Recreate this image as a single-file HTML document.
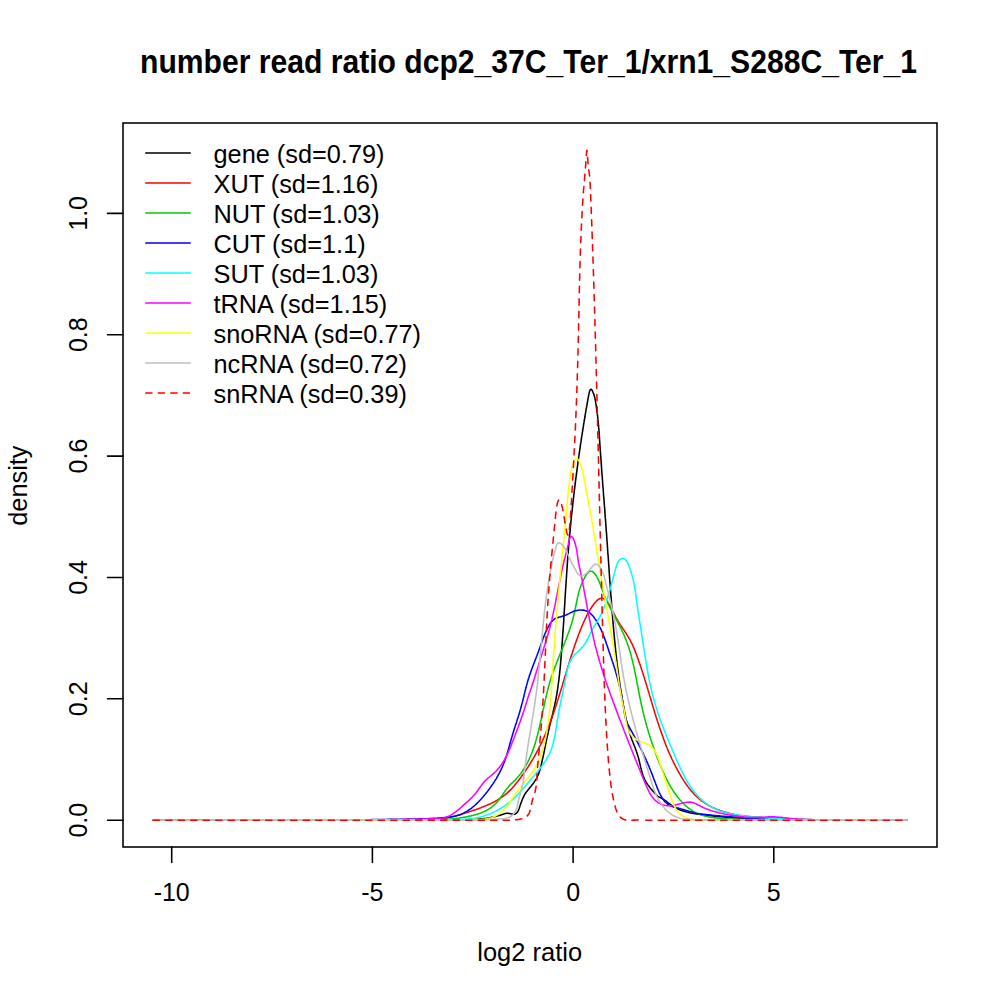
<!DOCTYPE html>
<html><head><meta charset="utf-8"><style>
html,body{margin:0;padding:0;background:#fff;overflow:hidden;}
svg{display:block;}
text{font-family:"Liberation Sans",sans-serif;fill:#000;}
</style></head><body>
<svg width="1000" height="1000" viewBox="0 0 1000 1000">
<rect width="1000" height="1000" fill="#fff"/>
<g fill="none" stroke-width="1.56" stroke-linecap="round" stroke-linejoin="round">
<path stroke="#000000" d="M153.2 820.2 L154.7 820.2 L156.2 820.2 L157.7 820.2 L159.2 820.2 L160.7 820.2 L162.2 820.2 L163.7 820.2 L165.2 820.2 L166.7 820.2 L168.2 820.2 L169.7 820.2 L171.2 820.2 L172.7 820.2 L174.2 820.2 L175.7 820.2 L177.2 820.2 L178.7 820.2 L180.2 820.2 L181.7 820.2 L183.2 820.2 L184.7 820.2 L186.2 820.2 L187.7 820.2 L189.2 820.2 L190.7 820.2 L192.2 820.2 L193.7 820.2 L195.2 820.2 L196.7 820.2 L198.2 820.2 L199.2 820.2 L200.2 820.2 L201.2 820.2 L202.2 820.2 L203.2 820.2 L204.2 820.2 L205.2 820.2 L206.2 820.2 L207.2 820.2 L208.2 820.2 L209.2 820.2 L210.2 820.2 L211.2 820.2 L212.2 820.2 L213.2 820.2 L214.2 820.2 L215.2 820.2 L216.2 820.2 L217.2 820.2 L218.2 820.2 L219.2 820.2 L220.2 820.2 L221.2 820.2 L222.2 820.2 L223.2 820.2 L224.2 820.2 L225.2 820.2 L226.2 820.2 L227.2 820.2 L228.2 820.2 L229.2 820.2 L230.2 820.2 L231.2 820.2 L232.2 820.2 L233.2 820.2 L234.2 820.2 L235.2 820.2 L236.2 820.2 L237.2 820.2 L238.2 820.2 L239.2 820.2 L240.2 820.2 L241.2 820.2 L242.2 820.2 L243.2 820.2 L244.2 820.2 L245.2 820.1 L246.2 820.1 L247.2 820.1 L248.2 820.1 L249.2 820.1 L250.2 820.1 L251.2 820.1 L252.2 820.1 L253.2 820.1 L254.2 820.1 L255.2 820.1 L256.2 820.1 L257.2 820.1 L258.2 820.1 L259.2 820.1 L260.2 820.1 L261.2 820.1 L262.2 820.1 L263.2 820.1 L264.2 820.1 L265.2 820.1 L266.2 820.1 L267.2 820.1 L268.2 820.1 L269.2 820.1 L270.2 820.1 L271.2 820.1 L272.2 820.1 L273.2 820.1 L274.2 820.1 L275.2 820.1 L276.2 820.1 L277.2 820.1 L278.2 820.1 L279.2 820.1 L280.2 820.1 L281.2 820.1 L282.2 820.1 L283.2 820.1 L284.2 820.1 L285.2 820.1 L286.2 820.1 L287.2 820.1 L288.2 820.1 L289.2 820.1 L290.2 820.1 L291.2 820.1 L292.2 820.1 L293.2 820.1 L294.2 820.1 L295.2 820.1 L296.2 820.1 L297.2 820.1 L298.2 820.1 L299.2 820.1 L300.2 820.1 L301.2 820.1 L302.2 820.1 L303.2 820.1 L304.2 820.1 L305.2 820.1 L306.2 820.1 L307.2 820.1 L308.2 820.1 L309.2 820.1 L310.2 820.1 L311.2 820.1 L312.2 820.1 L313.2 820.1 L314.2 820.1 L315.2 820.1 L316.2 820.1 L317.2 820.1 L318.2 820.1 L319.2 820.1 L320.2 820.1 L321.2 820.1 L322.2 820.1 L323.2 820.1 L324.2 820.1 L325.2 820.1 L326.7 820.1 L328.2 820.1 L329.7 820.1 L331.2 820.1 L332.7 820.1 L334.2 820.1 L335.7 820.1 L337.2 820.1 L338.7 820.1 L340.2 820.1 L341.7 820.1 L343.2 820.1 L344.7 820.1 L346.2 820.1 L347.7 820.1 L349.2 820.1 L350.7 820.1 L352.2 820.1 L353.7 820.1 L355.2 820.1 L356.7 820.1 L358.2 820.1 L359.7 820.1 L361.2 820.1 L362.7 820.1 L364.2 820.1 L365.7 820.1 L367.2 820.1 L368.7 820.1 L370.2 820.1 L371.7 820.1 L373.2 820.1 L374.7 820.1 L376.2 820.1 L377.7 820.1 L379.2 820.1 L380.7 820.1 L382.2 820.1 L383.7 820.1 L385.2 820.1 L386.7 820.1 L388.2 820.1 L389.7 820.1 L391.2 820.1 L392.7 820.1 L394.2 820.1 L395.7 820.1 L397.2 820.1 L398.7 820.1 L400.2 820.1 L401.7 820.1 L403.2 820.1 L404.7 820.1 L406.2 820.1 L407.7 820.1 L409.2 820.1 L410.7 820.1 L412.2 820.1 L413.7 820.1 L415.2 820.1 L416.7 820.1 L418.2 820.1 L419.7 820.1 L421.2 820.1 L422.7 820.1 L424.2 820.1 L425.2 820.1 L426.2 820.1 L427.2 820.1 L428.2 820.1 L429.2 820.1 L430.2 820.1 L431.2 820.1 L432.2 820.1 L433.2 820.1 L434.2 820.1 L435.2 820.1 L436.2 820.1 L437.2 820.1 L438.2 820.1 L439.2 820.1 L440.2 820.1 L441.2 820.1 L442.2 820.1 L443.2 820.1 L444.2 820.1 L445.2 820.1 L446.2 820.0 L447.2 820.0 L448.2 820.0 L449.2 820.0 L450.2 820.0 L451.2 820.0 L452.2 820.0 L453.2 820.0 L454.2 820.0 L455.2 820.0 L456.2 820.0 L457.2 820.0 L458.2 819.9 L459.2 819.9 L460.2 819.9 L461.2 819.9 L462.3 819.9 L463.3 819.9 L464.3 819.8 L465.3 819.8 L466.3 819.8 L467.3 819.7 L468.3 819.7 L469.3 819.7 L470.3 819.6 L471.8 819.6 L473.3 819.5 L474.8 819.4 L476.2 819.3 L477.7 819.2 L479.2 819.0 L480.7 818.9 L482.2 818.7 L483.6 818.6 L485.1 818.4 L486.6 818.2 L488.0 817.9 L489.5 817.7 L490.9 817.4 L492.4 817.1 L493.8 816.8 L495.3 816.5 L496.7 816.1 L498.1 815.8 L499.5 815.4 L500.9 814.9 L502.3 814.5 L503.8 814.0 L505.2 813.6 L506.6 813.3 L507.6 813.3 L508.7 813.4 L509.7 813.5 L510.8 813.8 L511.8 814.0 L512.9 814.1 L514.3 814.2 L515.5 813.9 L516.6 813.1 L517.5 812.0 L518.0 811.1 L518.5 810.1 L518.9 809.1 L519.3 808.0 L519.7 806.9 L520.0 805.8 L520.4 804.7 L520.8 803.6 L521.1 802.6 L521.5 801.7 L521.8 800.7 L522.2 799.8 L522.8 798.4 L523.4 797.1 L524.0 795.8 L524.7 794.5 L525.5 793.3 L526.3 792.1 L527.2 791.0 L528.1 789.8 L529.0 788.7 L529.9 787.5 L530.9 786.4 L531.8 785.2 L532.8 784.0 L533.7 782.9 L534.5 781.6 L535.3 780.4 L536.1 779.1 L536.8 777.8 L537.4 776.5 L538.0 775.2 L538.6 773.8 L539.1 772.4 L539.6 771.0 L539.9 770.0 L540.2 769.0 L540.4 768.1 L540.7 767.1 L540.9 766.1 L541.2 765.1 L541.4 764.2 L541.7 763.2 L541.9 762.2 L542.1 761.2 L542.3 760.2 L542.5 759.2 L542.7 758.2 L543.0 757.2 L543.2 756.3 L543.4 755.3 L543.6 754.3 L543.8 753.3 L544.0 752.3 L544.2 751.3 L544.4 750.4 L544.7 748.9 L545.0 747.4 L545.3 746.0 L545.6 744.5 L545.9 743.0 L546.2 741.6 L546.5 740.1 L546.8 738.7 L547.1 737.2 L547.4 735.8 L547.8 734.3 L548.1 732.8 L548.4 731.4 L548.7 729.9 L549.1 728.5 L549.4 727.0 L549.8 725.6 L550.1 724.1 L550.5 722.7 L550.8 721.2 L551.2 719.8 L551.6 718.3 L551.9 716.8 L552.3 715.4 L552.5 714.4 L552.7 713.4 L553.0 712.5 L553.2 711.5 L553.4 710.5 L553.7 709.6 L553.9 708.6 L554.1 707.6 L554.5 706.1 L554.8 704.7 L555.1 703.2 L555.4 701.7 L555.7 700.3 L556.0 698.8 L556.2 697.3 L556.5 695.9 L556.8 694.4 L557.0 692.9 L557.2 691.4 L557.5 689.9 L557.7 688.5 L557.9 687.0 L558.1 685.5 L558.3 684.0 L558.5 682.5 L558.7 681.0 L558.9 679.5 L559.1 678.1 L559.2 676.6 L559.4 675.6 L559.5 674.6 L559.6 673.6 L559.7 672.6 L559.8 671.6 L559.9 670.6 L560.0 669.6 L560.1 668.6 L560.2 667.6 L560.3 666.6 L560.4 665.6 L560.5 664.6 L560.6 663.6 L560.6 662.6 L560.7 661.6 L560.8 660.6 L560.9 659.6 L561.0 658.6 L561.1 657.6 L561.1 656.6 L561.2 655.6 L561.3 654.6 L561.4 653.7 L561.5 652.7 L561.5 651.7 L561.6 650.7 L561.7 649.7 L561.8 648.7 L561.9 647.7 L561.9 646.7 L562.0 645.7 L562.1 644.7 L562.1 643.7 L562.2 642.7 L562.3 641.7 L562.4 640.7 L562.4 639.7 L562.5 638.7 L562.6 637.7 L562.6 636.7 L562.7 635.7 L562.8 634.7 L562.8 633.7 L562.9 632.7 L563.0 631.7 L563.1 630.2 L563.2 628.7 L563.3 627.2 L563.4 625.7 L563.5 624.2 L563.6 622.7 L563.7 621.2 L563.8 619.7 L563.8 618.2 L563.9 616.7 L564.0 615.2 L564.1 613.7 L564.2 612.2 L564.3 610.7 L564.4 609.3 L564.5 607.8 L564.6 606.3 L564.7 604.8 L564.8 603.3 L564.9 601.8 L564.9 600.3 L565.0 598.8 L565.1 597.3 L565.2 595.8 L565.3 594.3 L565.4 592.8 L565.5 591.3 L565.6 589.8 L565.7 588.3 L565.8 586.8 L565.9 585.3 L566.0 583.8 L566.1 582.3 L566.2 580.8 L566.3 579.3 L566.4 577.8 L566.5 576.3 L566.6 574.8 L566.7 573.3 L566.8 571.8 L566.9 570.3 L567.0 568.8 L567.1 567.4 L567.2 565.9 L567.3 564.4 L567.4 562.9 L567.5 561.4 L567.6 559.9 L567.7 558.4 L567.8 556.9 L567.9 555.9 L568.0 554.9 L568.1 553.9 L568.2 552.9 L568.2 551.9 L568.3 550.9 L568.4 549.9 L568.5 548.9 L568.6 547.9 L568.6 546.9 L568.7 545.9 L568.8 544.9 L568.9 543.9 L569.0 542.9 L569.1 541.9 L569.2 540.9 L569.2 539.9 L569.3 538.9 L569.4 537.9 L569.5 536.9 L569.6 535.9 L569.7 535.0 L569.8 534.0 L569.9 533.0 L570.0 532.0 L570.1 531.0 L570.2 530.0 L570.2 529.0 L570.3 528.0 L570.4 527.0 L570.5 526.0 L570.6 525.0 L570.7 524.0 L570.8 523.0 L570.9 522.0 L571.0 521.0 L571.1 520.0 L571.2 519.0 L571.3 518.0 L571.4 517.0 L571.5 516.0 L571.6 515.0 L571.7 514.0 L571.8 513.1 L571.9 512.1 L572.1 511.1 L572.2 510.1 L572.3 509.1 L572.4 508.1 L572.5 507.1 L572.6 506.1 L572.7 505.1 L572.8 504.1 L572.9 503.1 L573.0 502.1 L573.1 501.1 L573.3 500.1 L573.4 499.1 L573.5 498.1 L573.6 497.1 L573.7 496.1 L573.8 495.2 L573.9 494.2 L574.1 493.2 L574.2 492.2 L574.3 491.2 L574.4 490.2 L574.5 489.2 L574.7 488.2 L574.8 487.2 L574.9 486.2 L575.1 484.7 L575.3 483.2 L575.4 481.8 L575.6 480.3 L575.8 478.8 L576.0 477.3 L576.2 475.8 L576.4 474.3 L576.6 472.8 L576.8 471.3 L577.0 469.9 L577.2 468.4 L577.4 466.9 L577.6 465.4 L577.8 463.9 L578.0 462.4 L578.2 460.9 L578.4 459.5 L578.6 458.0 L578.8 456.5 L579.0 455.0 L579.2 453.5 L579.4 452.0 L579.7 450.6 L579.9 449.1 L580.1 447.6 L580.3 446.1 L580.5 444.6 L580.7 443.1 L581.0 441.7 L581.2 440.2 L581.4 438.7 L581.6 437.2 L581.9 435.7 L582.1 434.3 L582.3 432.8 L582.6 431.3 L582.8 429.8 L583.0 428.3 L583.3 426.9 L583.5 425.4 L583.7 423.9 L584.0 422.4 L584.2 421.0 L584.5 419.5 L584.7 418.0 L585.0 416.5 L585.2 415.1 L585.4 413.6 L585.7 412.1 L585.9 410.6 L586.2 409.2 L586.5 407.7 L586.7 406.2 L587.0 404.7 L587.2 403.3 L587.5 401.8 L587.7 400.8 L587.8 399.8 L588.0 398.8 L588.2 397.8 L588.4 396.7 L588.6 395.6 L588.9 394.4 L589.1 393.2 L589.4 392.1 L589.7 391.0 L590.2 389.8 L591.3 389.3 L592.0 390.1 L592.7 391.5 L593.1 392.6 L593.6 393.7 L594.0 394.9 L594.3 396.0 L594.6 397.1 L594.9 398.1 L595.1 399.1 L595.4 400.5 L595.6 402.0 L595.8 403.4 L596.1 404.8 L596.3 406.3 L596.5 407.8 L596.7 409.3 L596.8 410.2 L597.0 411.2 L597.1 412.2 L597.2 413.2 L597.3 414.2 L597.5 415.2 L597.6 416.2 L597.7 417.2 L597.8 418.2 L597.9 419.2 L598.1 420.7 L598.2 422.2 L598.3 423.7 L598.5 425.2 L598.6 426.7 L598.7 428.1 L598.9 429.6 L599.0 431.1 L599.1 432.6 L599.2 434.1 L599.3 435.6 L599.4 437.1 L599.5 438.6 L599.6 440.1 L599.7 441.6 L599.8 443.1 L599.9 444.6 L600.0 446.1 L600.1 447.6 L600.2 449.1 L600.3 450.6 L600.4 452.1 L600.5 453.6 L600.6 455.1 L600.8 456.6 L600.9 458.1 L601.0 459.6 L601.1 461.1 L601.2 462.6 L601.3 464.1 L601.4 465.5 L601.5 467.0 L601.6 468.5 L601.7 470.0 L601.8 471.5 L601.9 473.0 L602.0 474.5 L602.2 476.0 L602.3 477.5 L602.4 479.0 L602.5 480.5 L602.6 482.0 L602.7 483.5 L602.8 485.0 L602.9 486.5 L603.1 488.0 L603.2 489.5 L603.3 491.0 L603.4 492.5 L603.5 494.0 L603.6 495.5 L603.7 496.9 L603.9 498.4 L604.0 499.9 L604.1 501.4 L604.2 502.9 L604.3 504.4 L604.4 505.9 L604.6 507.4 L604.7 508.9 L604.8 510.4 L604.9 511.9 L605.0 513.4 L605.1 514.9 L605.2 516.4 L605.3 517.9 L605.5 519.4 L605.6 520.9 L605.7 522.4 L605.8 523.9 L605.9 525.4 L606.0 526.9 L606.1 528.3 L606.2 529.8 L606.3 531.3 L606.5 532.8 L606.6 534.3 L606.7 535.8 L606.8 537.3 L606.9 538.8 L607.0 540.3 L607.1 541.8 L607.2 543.3 L607.3 544.8 L607.4 546.3 L607.5 547.8 L607.6 549.3 L607.7 550.8 L607.8 552.3 L607.9 553.8 L608.1 555.3 L608.2 556.8 L608.3 558.3 L608.4 559.8 L608.5 561.3 L608.6 562.8 L608.7 564.2 L608.8 565.7 L608.9 567.2 L609.0 568.7 L609.1 570.2 L609.2 571.7 L609.3 573.2 L609.4 574.7 L609.5 576.2 L609.6 577.7 L609.7 579.2 L609.8 580.7 L609.9 582.2 L610.1 583.7 L610.2 585.2 L610.3 586.7 L610.4 588.2 L610.5 589.7 L610.6 591.2 L610.7 592.7 L610.8 594.2 L610.9 595.7 L611.0 597.2 L611.2 598.7 L611.3 600.1 L611.4 601.6 L611.5 603.1 L611.6 604.6 L611.7 606.1 L611.8 607.6 L612.0 609.1 L612.1 610.6 L612.2 612.1 L612.3 613.6 L612.4 614.6 L612.5 615.6 L612.6 616.6 L612.6 617.6 L612.7 618.6 L612.8 619.6 L612.9 620.6 L613.0 621.6 L613.1 622.6 L613.1 623.6 L613.2 624.6 L613.3 625.6 L613.4 626.6 L613.5 627.6 L613.6 628.6 L613.7 630.0 L613.8 631.5 L614.0 633.0 L614.1 634.5 L614.2 636.0 L614.4 637.5 L614.5 639.0 L614.7 640.5 L614.8 642.0 L615.0 643.5 L615.1 645.0 L615.3 646.5 L615.4 648.0 L615.6 649.5 L615.7 650.9 L615.9 652.4 L616.0 653.9 L616.2 655.4 L616.4 656.9 L616.5 658.4 L616.7 659.9 L616.9 661.4 L617.0 662.9 L617.2 664.4 L617.4 665.8 L617.6 667.3 L617.8 668.8 L618.0 670.3 L618.2 671.8 L618.4 673.3 L618.5 674.8 L618.7 676.3 L619.0 677.7 L619.2 679.2 L619.4 680.7 L619.6 682.2 L619.8 683.7 L620.0 685.2 L620.2 686.6 L620.5 688.1 L620.7 689.6 L620.9 691.1 L621.2 692.6 L621.4 694.0 L621.7 695.5 L621.9 697.0 L622.2 698.5 L622.4 700.0 L622.7 701.4 L622.9 702.9 L623.2 704.4 L623.5 705.9 L623.7 706.8 L623.8 707.8 L624.0 708.8 L624.2 709.8 L624.4 710.8 L624.6 711.8 L624.8 712.7 L625.0 713.7 L625.2 714.7 L625.4 715.7 L625.6 716.7 L625.8 717.6 L626.0 718.6 L626.2 719.6 L626.4 720.6 L626.7 721.5 L626.9 722.5 L627.1 723.5 L627.3 724.5 L627.6 725.4 L627.9 726.9 L628.3 728.4 L628.7 729.8 L629.1 731.2 L629.5 732.7 L630.0 734.1 L630.4 735.5 L630.9 736.9 L631.4 738.3 L631.9 739.7 L632.5 741.1 L633.0 742.5 L633.6 743.9 L634.1 745.3 L634.7 746.7 L635.2 748.1 L635.7 749.5 L636.3 750.9 L636.6 751.9 L636.9 752.8 L637.2 753.8 L637.5 754.7 L637.8 755.7 L638.1 756.6 L638.4 757.6 L638.7 758.6 L638.9 759.6 L639.1 760.5 L639.4 761.5 L639.6 762.5 L639.8 763.5 L640.1 764.5 L640.3 765.5 L640.5 766.4 L640.7 767.4 L641.0 768.4 L641.2 769.4 L641.5 770.3 L641.9 771.8 L642.3 773.2 L642.7 774.6 L643.2 776.0 L643.8 777.4 L644.4 778.7 L645.0 780.1 L645.7 781.4 L646.4 782.6 L647.3 783.9 L648.1 785.1 L649.0 786.3 L649.6 787.1 L650.2 787.9 L650.9 788.7 L651.5 789.4 L652.2 790.2 L652.8 791.0 L653.5 791.8 L654.2 792.5 L654.8 793.3 L655.5 794.0 L656.5 795.1 L657.6 796.1 L658.8 796.9 L660.0 797.5 L661.3 798.1 L662.5 798.8 L663.8 799.5 L665.0 800.4 L666.2 801.2 L667.0 801.8 L667.8 802.5 L668.6 803.1 L669.4 803.7 L670.2 804.3 L671.0 804.9 L671.8 805.5 L673.0 806.4 L674.3 807.1 L675.6 807.8 L676.9 808.5 L678.2 809.1 L679.6 809.7 L681.0 810.2 L682.4 810.7 L683.8 811.2 L685.2 811.6 L686.6 812.0 L688.1 812.3 L689.5 812.7 L691.0 813.0 L692.4 813.2 L693.4 813.4 L694.4 813.6 L695.4 813.7 L696.4 813.9 L697.4 814.0 L698.4 814.2 L699.4 814.3 L700.4 814.5 L701.4 814.6 L702.4 814.7 L703.4 814.9 L704.4 815.0 L705.3 815.1 L706.3 815.2 L707.3 815.3 L708.3 815.5 L709.3 815.6 L710.3 815.7 L711.3 815.8 L712.3 815.9 L713.3 816.0 L714.3 816.1 L715.3 816.2 L716.3 816.3 L717.3 816.4 L718.3 816.5 L719.3 816.6 L720.3 816.7 L721.3 816.8 L722.3 816.9 L723.3 817.0 L724.3 817.0 L725.3 817.1 L726.3 817.2 L727.3 817.3 L728.8 817.4 L730.3 817.5 L731.8 817.6 L733.2 817.7 L734.7 817.8 L736.2 817.9 L737.7 818.0 L739.2 818.1 L740.7 818.2 L742.2 818.2 L743.7 818.3 L745.2 818.4 L746.7 818.5 L748.2 818.5 L749.7 818.6 L751.2 818.7 L752.7 818.7 L754.2 818.8 L755.7 818.8 L757.2 818.9 L758.7 818.9 L760.2 819.0 L761.7 819.0 L763.2 819.1 L764.7 819.1 L766.2 819.1 L767.7 819.2 L769.2 819.2 L770.7 819.2 L772.2 819.3 L773.7 819.3 L775.2 819.3 L776.7 819.4 L778.2 819.4 L779.7 819.4 L781.2 819.4 L782.7 819.5 L784.2 819.5 L785.7 819.5 L787.2 819.5 L788.7 819.5 L790.2 819.6 L791.7 819.6 L793.2 819.6 L794.7 819.6 L796.2 819.6 L797.7 819.7 L799.2 819.7 L800.7 819.7 L801.7 819.7 L802.7 819.7 L803.7 819.7 L804.7 819.7 L805.7 819.7 L806.7 819.8 L807.7 819.8 L808.7 819.8 L809.7 819.8 L810.7 819.8 L811.7 819.8 L812.7 819.8 L813.7 819.8 L814.7 819.8 L815.7 819.8 L816.7 819.9 L817.7 819.9 L818.7 819.9 L819.7 819.9 L820.7 819.9 L821.7 819.9 L822.7 819.9 L823.7 819.9 L824.7 819.9 L825.7 819.9 L826.7 819.9 L827.7 819.9 L828.7 820.0 L829.7 820.0 L830.7 820.0 L831.7 820.0 L832.7 820.0 L833.7 820.0 L834.7 820.0 L835.7 820.0 L836.7 820.0 L837.7 820.0 L838.7 820.0 L839.7 820.0 L840.7 820.0 L841.7 820.0 L842.7 820.1 L843.7 820.1 L844.7 820.1 L845.7 820.1 L846.7 820.1 L847.7 820.1 L848.7 820.1 L849.7 820.1 L850.7 820.1 L851.7 820.1 L852.7 820.1 L853.7 820.1 L854.7 820.1 L855.7 820.1 L856.7 820.1 L857.7 820.1 L858.7 820.1 L859.7 820.1 L860.7 820.1 L861.7 820.1 L862.7 820.2 L863.7 820.2 L864.7 820.2 L865.7 820.2 L866.7 820.2 L867.7 820.2 L868.7 820.2 L869.7 820.2 L870.7 820.2 L871.7 820.2 L872.7 820.2 L873.7 820.2 L874.7 820.2 L875.7 820.2 L876.7 820.2 L877.7 820.2 L878.7 820.2 L879.7 820.2 L881.2 820.2 L882.7 820.2 L884.2 820.2 L885.7 820.2 L887.2 820.2 L888.7 820.2 L890.2 820.2 L891.7 820.2 L893.2 820.2 L894.7 820.2 L896.2 820.2 L897.7 820.2 L899.2 820.2 L900.7 820.2 L902.2 820.2 L903.7 820.2 L905.2 820.2 L906.7 820.2 L906.8 820.2"/>
<path stroke="#ff0000" d="M153.2 820.2 L154.7 820.2 L156.2 820.2 L157.7 820.2 L159.2 820.2 L160.7 820.2 L162.2 820.2 L163.7 820.2 L165.2 820.2 L166.7 820.2 L168.2 820.2 L169.7 820.2 L171.2 820.2 L172.7 820.2 L174.2 820.2 L175.7 820.2 L177.2 820.2 L178.7 820.2 L180.2 820.2 L181.7 820.2 L183.2 820.2 L184.7 820.2 L186.2 820.2 L187.7 820.2 L189.2 820.2 L190.2 820.2 L191.2 820.2 L192.2 820.2 L193.2 820.2 L194.2 820.2 L195.2 820.2 L196.2 820.2 L197.2 820.2 L198.2 820.2 L199.2 820.2 L200.2 820.2 L201.2 820.2 L202.2 820.2 L203.2 820.2 L204.2 820.2 L205.2 820.2 L206.2 820.2 L207.2 820.2 L208.2 820.2 L209.2 820.2 L210.2 820.2 L211.2 820.2 L212.2 820.2 L213.2 820.2 L214.2 820.2 L215.2 820.2 L216.2 820.2 L217.2 820.2 L218.2 820.2 L219.2 820.2 L220.2 820.2 L221.2 820.2 L222.2 820.1 L223.2 820.1 L224.2 820.1 L225.2 820.1 L226.2 820.1 L227.2 820.1 L228.2 820.1 L229.2 820.1 L230.2 820.1 L231.2 820.1 L232.2 820.1 L233.2 820.1 L234.2 820.1 L235.2 820.1 L236.2 820.1 L237.2 820.1 L238.2 820.1 L239.2 820.1 L240.2 820.1 L241.2 820.1 L242.2 820.1 L243.2 820.1 L244.2 820.1 L245.2 820.1 L246.2 820.1 L247.2 820.1 L248.2 820.1 L249.2 820.1 L250.2 820.1 L251.2 820.1 L252.2 820.1 L253.2 820.1 L254.2 820.1 L255.2 820.1 L256.2 820.1 L257.2 820.1 L258.2 820.1 L259.2 820.1 L260.2 820.1 L261.2 820.1 L262.2 820.1 L263.2 820.1 L264.2 820.1 L265.2 820.1 L266.2 820.1 L267.2 820.1 L268.2 820.1 L269.2 820.1 L270.2 820.1 L271.2 820.1 L272.2 820.1 L273.2 820.1 L274.2 820.1 L275.2 820.1 L276.2 820.1 L277.2 820.1 L278.2 820.1 L279.2 820.1 L280.2 820.1 L281.2 820.1 L282.2 820.1 L283.2 820.1 L284.2 820.1 L285.2 820.1 L286.2 820.1 L287.2 820.1 L288.2 820.1 L289.2 820.1 L290.2 820.1 L291.2 820.1 L292.2 820.1 L293.2 820.1 L294.7 820.1 L296.2 820.1 L297.7 820.1 L299.2 820.1 L300.7 820.1 L302.2 820.1 L303.7 820.1 L305.2 820.1 L306.7 820.1 L308.2 820.1 L309.7 820.1 L311.2 820.1 L312.7 820.1 L314.2 820.1 L315.7 820.1 L317.2 820.1 L318.7 820.1 L320.2 820.1 L321.7 820.1 L323.2 820.1 L324.7 820.1 L326.2 820.1 L327.7 820.1 L329.2 820.1 L330.7 820.1 L332.2 820.1 L333.7 820.1 L335.2 820.1 L336.7 820.1 L338.2 820.1 L339.7 820.1 L341.2 820.1 L342.7 820.1 L344.2 820.1 L345.7 820.1 L347.2 820.1 L348.7 820.1 L350.2 820.1 L351.7 820.1 L353.2 820.1 L354.7 820.1 L356.2 820.1 L357.7 820.1 L359.2 820.1 L360.7 820.1 L362.2 820.1 L363.7 820.1 L365.2 820.1 L366.7 820.1 L368.2 820.1 L369.7 820.1 L371.2 820.1 L372.7 820.1 L374.2 820.0 L375.7 820.0 L377.2 820.0 L378.7 820.0 L379.7 820.0 L380.7 820.0 L381.7 820.0 L382.7 820.0 L383.7 820.0 L384.7 820.0 L385.7 820.0 L386.7 820.0 L387.7 820.0 L388.7 820.0 L389.7 820.0 L390.7 820.0 L391.7 820.0 L392.7 820.0 L393.7 820.0 L394.7 820.0 L395.7 820.0 L396.7 820.0 L397.7 820.0 L398.7 820.0 L399.7 820.0 L400.7 820.0 L401.7 819.9 L402.7 819.9 L403.7 819.9 L404.7 819.9 L405.7 819.9 L406.7 819.9 L407.7 819.9 L408.7 819.9 L409.7 819.9 L410.7 819.9 L411.7 819.9 L412.7 819.9 L413.7 819.9 L414.7 819.9 L415.7 819.9 L416.7 819.8 L417.7 819.8 L418.7 819.8 L419.7 819.8 L420.7 819.8 L421.7 819.8 L422.7 819.8 L423.7 819.8 L424.7 819.8 L425.8 819.7 L426.8 819.7 L427.8 819.7 L428.8 819.7 L429.8 819.6 L430.8 819.6 L432.3 819.6 L433.8 819.5 L435.2 819.4 L436.7 819.3 L438.2 819.2 L439.7 819.0 L441.2 818.9 L442.7 818.7 L444.1 818.5 L445.6 818.3 L447.1 818.0 L448.5 817.8 L450.0 817.5 L451.4 817.1 L452.9 816.8 L454.3 816.4 L455.8 816.0 L457.2 815.6 L458.6 815.1 L460.1 814.7 L461.0 814.4 L462.0 814.1 L462.9 813.8 L463.9 813.4 L464.8 813.1 L465.8 812.8 L466.7 812.5 L467.7 812.2 L468.7 811.9 L469.6 811.6 L470.6 811.3 L471.5 811.0 L472.5 810.6 L473.4 810.3 L474.4 810.0 L475.3 809.7 L476.3 809.4 L477.2 809.0 L478.2 808.7 L479.1 808.4 L480.0 808.0 L481.0 807.7 L481.9 807.3 L482.9 806.9 L483.8 806.6 L485.2 806.0 L486.6 805.4 L487.9 804.8 L489.3 804.2 L490.7 803.6 L492.0 802.9 L493.3 802.3 L494.7 801.6 L496.0 800.8 L497.3 800.1 L498.6 799.3 L499.8 798.5 L501.1 797.7 L502.3 796.8 L503.5 796.0 L504.7 795.1 L505.9 794.1 L507.0 793.2 L508.1 792.2 L509.2 791.2 L510.3 790.1 L511.3 789.1 L512.3 788.0 L513.3 786.8 L514.3 785.7 L515.3 784.5 L515.9 783.8 L516.5 783.0 L517.1 782.2 L517.8 781.4 L518.4 780.6 L519.0 779.8 L519.6 779.0 L520.2 778.2 L520.8 777.4 L521.4 776.6 L522.0 775.8 L522.5 775.0 L523.1 774.2 L523.7 773.4 L524.3 772.6 L524.8 771.7 L525.4 770.9 L526.0 770.1 L526.5 769.2 L527.1 768.4 L527.6 767.6 L528.2 766.7 L528.7 765.9 L529.2 765.0 L529.8 764.2 L530.3 763.3 L530.8 762.5 L531.3 761.6 L531.9 760.8 L532.4 759.9 L532.9 759.1 L533.4 758.2 L533.9 757.3 L534.4 756.5 L534.9 755.6 L535.4 754.7 L535.8 753.8 L536.3 753.0 L536.8 752.1 L537.3 751.2 L538.0 749.9 L538.6 748.5 L539.3 747.2 L540.0 745.9 L540.7 744.5 L541.3 743.2 L542.0 741.8 L542.6 740.5 L543.2 739.1 L543.8 737.7 L544.4 736.4 L545.0 735.0 L545.6 733.6 L546.2 732.2 L546.8 730.9 L547.4 729.5 L547.9 728.1 L548.5 726.7 L549.0 725.3 L549.6 723.9 L550.1 722.5 L550.6 721.1 L551.1 719.7 L551.7 718.3 L552.2 716.9 L552.7 715.5 L553.2 714.1 L553.7 712.7 L554.1 711.2 L554.6 709.8 L555.1 708.4 L555.6 707.0 L556.0 705.5 L556.5 704.1 L556.8 703.2 L557.1 702.2 L557.4 701.3 L557.7 700.3 L558.0 699.4 L558.3 698.4 L558.6 697.5 L558.9 696.5 L559.2 695.5 L559.5 694.6 L559.8 693.6 L560.1 692.7 L560.4 691.7 L560.7 690.8 L561.0 689.8 L561.3 688.8 L561.6 687.9 L561.9 686.9 L562.2 686.0 L562.5 685.0 L562.7 684.0 L563.0 683.1 L563.3 682.1 L563.6 681.2 L563.9 680.2 L564.2 679.2 L564.5 678.3 L564.7 677.3 L565.0 676.4 L565.3 675.4 L565.6 674.4 L565.9 673.5 L566.2 672.5 L566.5 671.6 L566.8 670.6 L567.1 669.6 L567.3 668.7 L567.6 667.7 L567.9 666.8 L568.2 665.8 L568.5 664.9 L568.8 663.9 L569.1 662.9 L569.4 662.0 L569.7 661.0 L570.0 660.1 L570.3 659.1 L570.6 658.2 L570.9 657.2 L571.3 655.8 L571.8 654.4 L572.3 652.9 L572.7 651.5 L573.2 650.1 L573.7 648.7 L574.1 647.2 L574.6 645.8 L575.1 644.4 L575.6 643.0 L576.1 641.6 L576.6 640.2 L577.1 638.8 L577.6 637.4 L578.1 636.0 L578.6 634.6 L579.2 633.2 L579.7 631.8 L580.3 630.4 L580.8 629.0 L581.4 627.6 L581.9 626.2 L582.5 624.8 L583.1 623.5 L583.7 622.1 L584.1 621.2 L584.5 620.3 L584.9 619.3 L585.4 618.4 L585.8 617.5 L586.3 616.6 L586.7 615.7 L587.2 614.8 L587.7 613.9 L588.2 613.0 L588.7 612.1 L589.2 611.2 L589.7 610.3 L590.3 609.4 L590.8 608.5 L591.4 607.6 L592.0 606.7 L592.6 605.8 L593.2 604.9 L593.9 604.1 L594.5 603.2 L595.2 602.4 L595.9 601.7 L596.9 600.6 L597.9 599.7 L599.0 599.0 L600.1 598.6 L601.2 598.3 L602.2 598.3 L603.3 598.6 L604.4 599.1 L605.4 599.9 L606.4 600.8 L607.4 601.9 L608.0 602.7 L608.6 603.6 L609.2 604.5 L609.7 605.4 L610.3 606.4 L610.8 607.3 L611.4 608.3 L611.9 609.3 L612.3 610.3 L612.8 611.3 L613.3 612.2 L613.8 613.2 L614.2 614.1 L614.7 615.0 L615.1 616.0 L615.6 616.9 L616.1 617.8 L616.6 618.6 L617.1 619.5 L617.6 620.4 L618.1 621.3 L618.6 622.1 L619.2 623.0 L619.7 623.8 L620.2 624.6 L621.1 625.9 L621.9 627.1 L622.7 628.4 L623.6 629.6 L624.4 630.9 L625.2 632.1 L626.0 633.3 L626.8 634.6 L627.6 635.8 L628.4 637.1 L629.1 638.4 L629.9 639.7 L630.6 641.0 L631.2 642.3 L631.9 643.6 L632.5 645.0 L633.1 646.4 L633.7 647.7 L634.3 649.1 L634.9 650.5 L635.4 651.9 L635.8 652.8 L636.1 653.8 L636.5 654.7 L636.8 655.6 L637.2 656.6 L637.5 657.5 L637.9 658.5 L638.2 659.4 L638.5 660.3 L638.9 661.3 L639.2 662.2 L639.5 663.2 L639.9 664.1 L640.2 665.1 L640.5 666.0 L640.8 667.0 L641.1 667.9 L641.4 668.9 L641.8 669.8 L642.1 670.8 L642.4 671.7 L642.7 672.7 L643.0 673.6 L643.3 674.6 L643.6 675.5 L643.9 676.5 L644.2 677.4 L644.5 678.4 L644.8 679.4 L645.1 680.3 L645.4 681.3 L645.7 682.2 L646.0 683.2 L646.3 684.1 L646.6 685.1 L646.9 686.1 L647.1 687.0 L647.4 688.0 L647.7 688.9 L648.0 689.9 L648.3 690.9 L648.6 691.8 L648.9 692.8 L649.2 693.7 L649.4 694.7 L649.7 695.7 L650.0 696.6 L650.3 697.6 L650.6 698.5 L650.9 699.5 L651.2 700.5 L651.4 701.4 L651.7 702.4 L652.0 703.3 L652.3 704.3 L652.6 705.3 L652.9 706.2 L653.2 707.2 L653.4 708.1 L653.7 709.1 L654.0 710.1 L654.3 711.0 L654.6 712.0 L655.0 713.4 L655.5 714.8 L655.9 716.3 L656.4 717.7 L656.8 719.1 L657.3 720.6 L657.7 722.0 L658.2 723.4 L658.7 724.8 L659.1 726.2 L659.6 727.7 L660.1 729.1 L660.6 730.5 L661.1 731.9 L661.6 733.3 L662.1 734.7 L662.6 736.1 L663.1 737.5 L663.6 738.9 L664.1 740.3 L664.6 741.7 L665.2 743.1 L665.7 744.5 L666.3 745.9 L666.8 747.3 L667.4 748.7 L668.0 750.1 L668.5 751.4 L669.1 752.8 L669.7 754.2 L670.3 755.5 L671.0 756.9 L671.6 758.3 L672.2 759.6 L672.9 761.0 L673.5 762.3 L674.2 763.6 L674.9 765.0 L675.5 766.3 L676.0 767.2 L676.5 768.1 L676.9 769.0 L677.4 769.9 L677.9 770.7 L678.4 771.6 L678.9 772.5 L679.4 773.4 L679.9 774.2 L680.4 775.1 L680.9 776.0 L681.4 776.8 L681.9 777.7 L682.5 778.5 L683.0 779.4 L683.6 780.3 L684.1 781.1 L684.7 782.0 L685.2 782.8 L685.8 783.6 L686.4 784.5 L686.9 785.3 L687.5 786.1 L688.1 786.9 L688.7 787.7 L689.4 788.5 L690.0 789.3 L690.6 790.1 L691.3 790.9 L691.9 791.6 L692.6 792.4 L693.2 793.1 L693.9 793.9 L694.9 795.0 L696.0 796.0 L697.1 797.0 L698.2 798.0 L699.3 799.0 L700.5 800.0 L701.7 800.9 L702.9 801.7 L704.1 802.6 L705.3 803.4 L706.6 804.2 L707.9 805.0 L709.2 805.7 L710.5 806.4 L711.8 807.1 L713.2 807.7 L714.5 808.3 L715.9 808.9 L717.3 809.5 L718.7 810.0 L720.0 810.5 L721.4 811.0 L722.9 811.5 L724.3 811.9 L725.7 812.3 L727.1 812.7 L728.6 813.1 L730.0 813.5 L731.5 813.8 L732.9 814.1 L734.4 814.4 L735.9 814.7 L737.3 814.9 L738.8 815.2 L740.3 815.4 L741.8 815.6 L742.8 815.8 L743.7 815.9 L744.7 816.0 L745.7 816.1 L746.7 816.2 L747.7 816.4 L748.7 816.5 L749.7 816.6 L750.7 816.7 L751.7 816.8 L752.7 816.8 L753.7 816.9 L754.7 817.0 L755.7 817.1 L756.7 817.2 L757.8 817.3 L758.8 817.3 L759.8 817.4 L760.8 817.5 L761.8 817.5 L762.8 817.6 L763.8 817.7 L764.8 817.7 L765.8 817.8 L766.8 817.9 L767.8 817.9 L768.8 818.0 L769.8 818.1 L770.8 818.1 L771.8 818.2 L772.8 818.2 L773.8 818.3 L774.8 818.3 L775.8 818.4 L776.8 818.5 L777.8 818.5 L778.8 818.6 L779.8 818.6 L780.8 818.7 L781.8 818.7 L782.8 818.7 L783.8 818.8 L784.8 818.8 L785.8 818.9 L786.8 818.9 L787.8 819.0 L788.8 819.0 L789.8 819.0 L790.8 819.1 L791.8 819.1 L792.8 819.1 L793.8 819.2 L794.8 819.2 L796.3 819.3 L797.8 819.3 L799.3 819.3 L800.8 819.4 L802.3 819.4 L803.8 819.5 L805.3 819.5 L806.8 819.5 L808.3 819.6 L809.8 819.6 L811.3 819.6 L812.8 819.7 L814.3 819.7 L815.8 819.7 L817.3 819.7 L818.8 819.8 L820.3 819.8 L821.8 819.8 L823.3 819.8 L824.8 819.8 L826.3 819.9 L827.8 819.9 L829.3 819.9 L830.7 819.9 L832.2 819.9 L833.7 819.9 L835.2 819.9 L836.7 819.9 L838.2 819.9 L839.7 820.0 L841.2 820.0 L842.7 820.0 L844.2 820.0 L845.7 820.0 L847.2 820.0 L848.7 820.0 L850.2 820.0 L851.7 820.0 L853.2 820.0 L854.7 820.0 L856.2 820.0 L857.7 820.0 L859.2 820.0 L860.7 820.0 L862.2 820.0 L863.7 820.0 L865.2 820.0 L866.7 820.0 L868.2 820.0 L869.7 820.0 L871.2 820.0 L872.7 820.0 L874.2 820.0 L875.7 820.0 L877.2 820.0 L878.2 820.0 L879.2 820.0 L880.2 820.0 L881.2 820.0 L882.2 820.0 L883.2 820.0 L884.2 820.0 L885.2 820.0 L886.2 820.0 L887.2 820.0 L888.2 820.0 L889.2 820.1 L890.2 820.1 L891.2 820.1 L892.2 820.1 L893.2 820.1 L894.2 820.1 L895.2 820.1 L896.2 820.1 L897.2 820.1 L898.2 820.1 L899.2 820.1 L900.2 820.1 L901.2 820.1 L902.2 820.1 L903.2 820.2 L904.2 820.2 L905.2 820.2 L906.2 820.2 L906.8 820.2"/>
<path stroke="#00cd00" d="M153.2 820.2 L154.7 820.2 L156.2 820.2 L157.7 820.2 L159.2 820.2 L160.7 820.2 L162.2 820.2 L163.7 820.2 L165.2 820.2 L166.7 820.2 L168.2 820.2 L169.7 820.2 L171.2 820.2 L172.7 820.2 L174.2 820.2 L175.7 820.2 L176.7 820.2 L177.7 820.2 L178.7 820.2 L179.7 820.2 L180.7 820.2 L181.7 820.2 L182.7 820.2 L183.7 820.2 L184.7 820.2 L185.7 820.2 L186.7 820.2 L187.7 820.2 L188.7 820.2 L189.7 820.2 L190.7 820.2 L191.7 820.2 L192.7 820.2 L193.7 820.2 L194.7 820.2 L195.7 820.1 L196.7 820.1 L197.7 820.1 L198.7 820.1 L199.7 820.1 L200.7 820.1 L201.7 820.1 L202.7 820.1 L203.7 820.1 L204.7 820.1 L205.7 820.1 L206.7 820.1 L207.7 820.1 L208.7 820.1 L209.7 820.1 L210.7 820.1 L211.7 820.1 L212.7 820.1 L213.7 820.1 L214.7 820.1 L215.7 820.1 L216.7 820.1 L217.7 820.1 L218.7 820.1 L219.7 820.1 L220.7 820.1 L221.7 820.1 L222.7 820.1 L223.7 820.1 L224.7 820.1 L225.7 820.1 L226.7 820.1 L227.7 820.1 L228.7 820.1 L229.7 820.1 L230.7 820.1 L231.7 820.1 L232.7 820.1 L233.7 820.1 L234.7 820.1 L235.7 820.1 L236.7 820.1 L237.7 820.1 L239.2 820.1 L240.7 820.1 L242.2 820.1 L243.7 820.0 L245.2 820.0 L246.7 820.0 L248.2 820.0 L249.7 820.0 L251.2 820.0 L252.7 820.0 L254.2 820.0 L255.7 820.0 L257.2 820.0 L258.7 820.0 L260.2 820.0 L261.7 820.0 L263.2 820.0 L264.7 820.0 L266.2 820.0 L267.7 820.0 L269.2 820.0 L270.7 820.0 L272.2 820.0 L273.7 820.0 L275.2 820.0 L276.7 820.0 L278.2 820.0 L279.7 820.0 L281.2 820.0 L282.7 820.0 L284.2 820.0 L285.7 820.0 L287.2 820.0 L288.7 820.0 L290.2 820.0 L291.7 820.0 L293.2 820.0 L294.7 820.0 L296.2 820.0 L297.7 820.0 L299.2 820.0 L300.7 820.0 L302.2 820.0 L303.7 820.0 L305.2 820.0 L306.7 820.0 L308.2 820.0 L309.7 820.0 L311.2 820.0 L312.7 820.0 L314.2 820.0 L315.2 820.0 L316.2 820.0 L317.2 820.0 L318.2 820.0 L319.2 820.0 L320.2 820.0 L321.2 820.0 L322.2 820.0 L323.2 820.0 L324.2 820.0 L325.2 820.0 L326.2 820.0 L327.2 820.0 L328.2 820.0 L329.2 820.0 L330.2 820.0 L331.2 820.0 L332.2 820.0 L333.2 820.0 L334.2 820.0 L335.2 820.0 L336.2 820.0 L337.2 819.9 L338.2 819.9 L339.2 819.9 L340.2 819.9 L341.2 819.9 L342.2 819.9 L343.2 819.9 L344.2 819.9 L345.2 819.9 L346.2 819.9 L347.2 819.9 L348.2 819.9 L349.2 819.9 L350.2 819.9 L351.2 819.9 L352.2 819.9 L353.2 819.9 L354.2 819.9 L355.2 819.9 L356.2 819.9 L357.2 819.9 L358.2 819.9 L359.2 819.9 L360.2 819.9 L361.2 819.9 L362.2 819.9 L363.2 819.8 L364.2 819.8 L365.2 819.8 L366.2 819.8 L367.2 819.8 L368.2 819.8 L369.2 819.8 L370.2 819.8 L371.2 819.8 L372.2 819.8 L373.2 819.8 L374.2 819.8 L375.2 819.8 L376.2 819.8 L377.2 819.8 L378.2 819.8 L379.2 819.8 L380.2 819.8 L381.2 819.8 L382.2 819.8 L383.2 819.8 L384.2 819.8 L385.2 819.8 L386.2 819.8 L387.2 819.8 L388.2 819.8 L389.2 819.8 L390.2 819.8 L391.2 819.8 L392.2 819.8 L393.2 819.8 L394.2 819.8 L395.2 819.8 L396.2 819.8 L397.2 819.8 L398.2 819.8 L399.2 819.8 L400.2 819.8 L401.2 819.8 L402.2 819.8 L403.7 819.9 L405.2 819.9 L406.7 819.9 L408.2 819.9 L409.7 819.9 L411.2 819.9 L412.7 819.9 L414.2 819.9 L415.7 819.9 L417.2 819.9 L418.7 820.0 L420.2 820.0 L421.7 820.0 L423.2 820.0 L424.7 820.0 L426.2 820.0 L427.7 820.0 L429.2 820.0 L430.7 819.9 L432.2 819.9 L433.7 819.9 L435.2 819.9 L436.7 819.8 L438.2 819.8 L439.7 819.7 L441.2 819.6 L442.7 819.6 L444.2 819.5 L445.7 819.4 L447.2 819.3 L448.6 819.2 L450.1 819.1 L451.6 818.9 L453.1 818.8 L454.1 818.7 L455.1 818.6 L456.1 818.4 L457.1 818.3 L458.1 818.2 L459.1 818.1 L460.1 817.9 L461.1 817.8 L462.1 817.6 L463.1 817.4 L464.1 817.3 L465.0 817.1 L466.0 816.9 L467.0 816.7 L468.0 816.5 L469.0 816.3 L470.0 816.1 L471.0 815.9 L472.0 815.6 L473.0 815.4 L473.9 815.1 L474.9 814.9 L475.9 814.6 L476.8 814.3 L477.8 814.0 L478.8 813.7 L480.2 813.2 L481.6 812.7 L482.9 812.1 L484.3 811.5 L485.6 810.8 L486.9 810.2 L488.2 809.4 L489.4 808.7 L490.6 807.9 L491.8 807.0 L493.0 806.1 L494.1 805.2 L495.1 804.2 L496.2 803.1 L497.1 802.0 L498.1 800.8 L498.7 800.1 L499.3 799.3 L499.9 798.5 L500.5 797.6 L501.1 796.8 L501.7 796.0 L502.3 795.1 L502.9 794.3 L503.5 793.5 L504.0 792.6 L504.6 791.8 L505.2 790.9 L505.8 790.1 L506.5 789.3 L507.1 788.5 L507.7 787.7 L508.4 786.9 L509.0 786.1 L509.7 785.4 L510.4 784.6 L511.1 783.9 L511.9 783.2 L512.6 782.5 L513.3 781.8 L514.0 781.1 L514.8 780.4 L515.5 779.7 L516.2 778.9 L516.8 778.2 L517.8 777.1 L518.8 776.0 L519.8 774.8 L520.7 773.6 L521.5 772.4 L522.4 771.2 L523.2 770.0 L524.0 768.7 L524.8 767.5 L525.6 766.2 L526.3 764.9 L527.0 763.6 L527.7 762.3 L528.3 760.9 L529.0 759.6 L529.6 758.2 L530.2 756.9 L530.8 755.5 L531.4 754.1 L531.9 752.7 L532.3 751.8 L532.6 750.8 L533.0 749.9 L533.3 749.0 L533.6 748.0 L533.9 747.1 L534.3 746.1 L534.6 745.2 L534.9 744.2 L535.2 743.2 L535.5 742.3 L535.7 741.3 L536.0 740.4 L536.3 739.4 L536.6 738.4 L536.8 737.5 L537.1 736.5 L537.4 735.5 L537.6 734.6 L537.9 733.6 L538.1 732.6 L538.4 731.7 L538.6 730.7 L538.8 729.7 L539.2 728.3 L539.5 726.8 L539.9 725.3 L540.2 723.9 L540.5 722.4 L540.8 720.9 L541.2 719.5 L541.5 718.0 L541.8 716.5 L542.1 715.1 L542.4 713.6 L542.7 712.2 L543.0 710.7 L543.3 709.2 L543.7 707.8 L544.0 706.3 L544.3 704.8 L544.6 703.4 L544.9 701.9 L545.2 700.4 L545.6 699.0 L545.9 697.5 L546.2 696.1 L546.6 694.6 L546.9 693.2 L547.3 691.7 L547.6 690.3 L548.0 688.8 L548.4 687.4 L548.8 685.9 L549.2 684.5 L549.6 683.0 L550.0 681.6 L550.4 680.2 L550.9 678.7 L551.3 677.3 L551.8 675.9 L552.3 674.5 L552.7 673.1 L553.2 671.7 L553.8 670.2 L554.1 669.3 L554.4 668.4 L554.8 667.4 L555.1 666.5 L555.5 665.6 L555.9 664.6 L556.2 663.7 L556.6 662.7 L557.0 661.8 L557.3 660.9 L557.7 659.9 L558.1 659.0 L558.4 658.1 L558.8 657.2 L559.2 656.2 L559.6 655.3 L560.0 654.4 L560.3 653.4 L560.7 652.5 L561.1 651.6 L561.5 650.6 L561.9 649.7 L562.2 648.8 L562.6 647.9 L563.0 646.9 L563.4 646.0 L563.7 645.1 L564.1 644.1 L564.5 643.2 L564.9 642.3 L565.2 641.3 L565.6 640.4 L566.0 639.5 L566.3 638.5 L566.7 637.6 L567.0 636.7 L567.4 635.7 L567.7 634.8 L568.1 633.8 L568.6 632.4 L569.1 631.0 L569.6 629.6 L570.1 628.2 L570.5 626.8 L571.0 625.4 L571.4 623.9 L571.9 622.5 L572.3 621.1 L572.7 619.6 L573.1 618.2 L573.5 616.7 L573.8 615.3 L574.1 613.8 L574.5 612.4 L574.8 610.9 L575.1 609.4 L575.4 608.0 L575.7 606.5 L576.0 605.0 L576.2 604.1 L576.4 603.1 L576.6 602.1 L576.8 601.1 L577.0 600.1 L577.2 599.1 L577.4 598.2 L577.6 597.2 L577.9 596.2 L578.1 595.2 L578.3 594.2 L578.6 593.3 L578.8 592.3 L579.1 591.3 L579.4 590.3 L579.7 589.4 L580.0 588.4 L580.3 587.4 L580.7 586.4 L581.0 585.5 L581.4 584.5 L581.8 583.5 L582.2 582.6 L582.6 581.6 L583.1 580.7 L583.5 579.7 L584.0 578.8 L584.5 577.8 L585.0 576.9 L585.6 575.9 L586.1 575.0 L586.7 574.2 L587.6 573.1 L588.5 572.2 L589.5 571.5 L590.5 571.2 L591.8 571.3 L592.8 571.8 L593.8 572.7 L594.7 573.7 L595.3 574.5 L596.0 575.4 L596.5 576.4 L597.1 577.4 L597.7 578.4 L598.2 579.4 L598.7 580.5 L599.1 581.5 L599.5 582.5 L599.9 583.5 L600.3 584.5 L600.7 585.4 L601.0 586.4 L601.4 587.4 L601.7 588.3 L602.0 589.3 L602.4 590.2 L602.9 591.6 L603.4 593.0 L604.0 594.4 L604.5 595.8 L605.1 597.2 L605.7 598.6 L606.3 599.9 L607.0 601.3 L607.6 602.6 L608.2 604.0 L608.7 604.9 L609.1 605.8 L609.6 606.7 L610.0 607.6 L610.5 608.5 L610.9 609.4 L611.4 610.2 L611.9 611.1 L612.3 612.0 L612.8 612.9 L613.3 613.8 L613.7 614.7 L614.2 615.6 L614.7 616.5 L615.1 617.3 L615.6 618.2 L616.1 619.1 L616.5 620.0 L617.0 620.9 L617.5 621.8 L617.9 622.6 L618.4 623.5 L619.1 624.9 L619.8 626.2 L620.4 627.5 L621.1 628.9 L621.8 630.2 L622.4 631.6 L623.0 632.9 L623.7 634.3 L624.3 635.6 L624.8 637.0 L625.4 638.4 L626.0 639.8 L626.5 641.2 L627.0 642.5 L627.5 643.9 L628.0 645.3 L628.5 646.8 L629.0 648.2 L629.4 649.6 L629.8 651.0 L630.3 652.4 L630.7 653.9 L631.1 655.3 L631.4 656.7 L631.8 658.2 L632.2 659.6 L632.5 661.1 L632.9 662.5 L633.2 664.0 L633.6 665.5 L633.9 666.9 L634.1 667.9 L634.3 668.9 L634.5 669.9 L634.7 670.8 L634.9 671.8 L635.1 672.8 L635.3 673.8 L635.5 674.8 L635.7 675.8 L635.9 676.7 L636.1 677.7 L636.3 678.7 L636.5 679.7 L636.7 680.7 L636.8 681.7 L637.0 682.7 L637.2 683.7 L637.4 684.6 L637.6 685.6 L637.8 686.6 L638.0 687.6 L638.2 688.6 L638.3 689.6 L638.5 690.6 L638.7 691.6 L638.9 692.5 L639.1 693.5 L639.3 694.5 L639.5 695.5 L639.7 696.5 L639.9 697.5 L640.1 698.5 L640.3 699.4 L640.5 700.4 L640.7 701.4 L640.9 702.4 L641.1 703.4 L641.3 704.4 L641.5 705.3 L641.8 706.3 L642.0 707.3 L642.2 708.3 L642.4 709.2 L642.7 710.2 L642.9 711.2 L643.1 712.2 L643.4 713.1 L643.6 714.1 L643.9 715.1 L644.1 716.1 L644.3 717.0 L644.6 718.0 L644.8 719.0 L645.1 719.9 L645.4 720.9 L645.6 721.9 L645.9 722.8 L646.1 723.8 L646.5 725.2 L647.0 726.7 L647.4 728.1 L647.8 729.6 L648.2 731.0 L648.6 732.4 L649.1 733.9 L649.5 735.3 L650.0 736.7 L650.4 738.2 L650.9 739.6 L651.3 741.0 L651.8 742.4 L652.3 743.8 L652.8 745.3 L653.3 746.7 L653.8 748.1 L654.2 749.5 L654.8 750.9 L655.3 752.3 L655.8 753.7 L656.3 755.1 L656.8 756.5 L657.4 757.9 L657.9 759.3 L658.5 760.7 L659.0 762.1 L659.6 763.5 L660.1 764.8 L660.7 766.2 L661.3 767.6 L661.9 769.0 L662.5 770.4 L663.1 771.7 L663.7 773.1 L664.3 774.4 L664.9 775.8 L665.6 777.1 L666.2 778.5 L666.9 779.8 L667.6 781.1 L668.3 782.5 L669.0 783.8 L669.7 785.1 L670.4 786.4 L671.2 787.7 L672.0 788.9 L672.8 790.2 L673.4 791.0 L673.9 791.9 L674.5 792.7 L675.1 793.5 L675.6 794.3 L676.2 795.2 L676.8 796.0 L677.5 796.8 L678.1 797.6 L678.7 798.3 L679.4 799.1 L680.0 799.9 L680.7 800.7 L681.4 801.4 L682.1 802.2 L682.8 802.9 L683.5 803.6 L684.2 804.3 L685.0 805.0 L685.7 805.7 L686.5 806.4 L687.2 807.0 L688.0 807.7 L688.8 808.3 L690.0 809.2 L691.2 810.0 L692.5 810.8 L693.8 811.6 L695.1 812.3 L696.4 813.0 L697.7 813.6 L699.1 814.1 L700.5 814.6 L701.8 815.1 L703.3 815.6 L704.7 815.9 L706.1 816.3 L707.6 816.6 L709.0 816.9 L710.5 817.2 L712.0 817.4 L713.5 817.6 L714.5 817.8 L715.5 817.9 L716.5 818.0 L717.5 818.1 L718.4 818.2 L719.4 818.3 L720.4 818.4 L721.4 818.5 L722.4 818.6 L723.4 818.6 L724.4 818.7 L725.4 818.8 L726.4 818.8 L727.4 818.9 L728.4 818.9 L729.4 819.0 L730.4 819.0 L731.4 819.1 L732.4 819.1 L733.4 819.1 L734.4 819.2 L735.4 819.2 L736.4 819.2 L737.4 819.3 L738.4 819.3 L739.4 819.3 L740.4 819.3 L741.4 819.3 L742.4 819.4 L743.4 819.4 L744.4 819.4 L745.4 819.4 L746.4 819.4 L747.4 819.4 L748.4 819.5 L749.4 819.5 L750.4 819.5 L751.4 819.5 L752.4 819.5 L753.4 819.5 L754.4 819.5 L755.4 819.5 L756.4 819.6 L757.4 819.6 L758.4 819.6 L759.4 819.6 L760.4 819.6 L761.4 819.6 L762.4 819.6 L763.4 819.6 L764.4 819.7 L765.4 819.7 L766.4 819.7 L767.4 819.7 L768.4 819.7 L769.4 819.7 L770.4 819.7 L771.4 819.7 L772.4 819.7 L773.9 819.7 L775.4 819.8 L776.9 819.8 L778.4 819.8 L779.9 819.8 L781.4 819.8 L782.9 819.8 L784.4 819.8 L785.9 819.8 L787.4 819.9 L788.9 819.9 L790.4 819.9 L791.9 819.9 L793.4 819.9 L794.9 819.9 L796.4 819.9 L797.9 819.9 L799.4 819.9 L800.9 819.9 L802.4 819.9 L803.9 819.9 L805.4 819.9 L806.9 820.0 L808.4 820.0 L809.9 820.0 L811.4 820.0 L812.9 820.0 L814.4 820.0 L815.9 820.0 L817.4 820.0 L818.9 820.0 L820.4 820.0 L821.9 820.0 L823.4 820.0 L824.9 820.0 L826.4 820.0 L827.9 820.0 L829.4 820.0 L830.9 820.0 L832.4 820.0 L833.9 820.0 L835.4 820.0 L836.4 820.0 L837.4 820.0 L838.4 820.0 L839.4 820.0 L840.4 820.0 L841.4 820.0 L842.4 820.0 L843.4 820.0 L844.4 820.0 L845.4 820.0 L846.4 820.1 L847.4 820.1 L848.4 820.1 L849.4 820.1 L850.4 820.1 L851.4 820.1 L852.4 820.1 L853.4 820.1 L854.4 820.1 L855.4 820.1 L856.4 820.1 L857.4 820.1 L858.4 820.1 L859.4 820.1 L860.4 820.1 L861.4 820.1 L862.4 820.1 L863.4 820.1 L864.4 820.1 L865.4 820.1 L866.4 820.1 L867.4 820.1 L868.4 820.1 L869.4 820.1 L870.4 820.1 L871.4 820.1 L872.4 820.1 L873.4 820.1 L874.4 820.1 L875.4 820.1 L876.4 820.1 L877.4 820.1 L878.4 820.1 L879.4 820.1 L880.4 820.1 L881.4 820.1 L882.4 820.1 L883.4 820.1 L884.4 820.1 L885.4 820.1 L886.4 820.1 L887.4 820.1 L888.4 820.1 L889.9 820.1 L891.4 820.1 L892.9 820.1 L894.4 820.2 L895.9 820.2 L897.4 820.2 L898.9 820.2 L900.4 820.2 L901.9 820.2 L903.4 820.2 L904.9 820.2 L906.4 820.2 L906.8 820.2"/>
<path stroke="#0000ff" d="M153.2 820.2 L154.2 820.2 L155.2 820.2 L156.2 820.2 L157.2 820.2 L158.2 820.2 L159.2 820.2 L160.2 820.2 L161.2 820.2 L162.2 820.2 L163.2 820.2 L164.2 820.2 L165.2 820.1 L166.2 820.1 L167.2 820.1 L168.2 820.1 L169.2 820.1 L170.2 820.1 L171.2 820.1 L172.2 820.1 L173.2 820.1 L174.2 820.1 L175.2 820.1 L176.2 820.1 L177.2 820.1 L178.2 820.1 L179.2 820.1 L180.2 820.1 L181.2 820.1 L182.2 820.1 L183.2 820.1 L184.2 820.1 L185.2 820.1 L186.2 820.1 L187.2 820.1 L188.2 820.1 L189.2 820.1 L190.7 820.1 L192.2 820.1 L193.7 820.1 L195.2 820.1 L196.7 820.1 L198.2 820.1 L199.7 820.1 L201.2 820.1 L202.7 820.1 L204.2 820.1 L205.7 820.1 L207.2 820.1 L208.7 820.1 L210.2 820.1 L211.7 820.1 L213.2 820.1 L214.7 820.1 L216.2 820.1 L217.7 820.1 L219.2 820.1 L220.7 820.1 L222.2 820.1 L223.7 820.1 L225.2 820.1 L226.7 820.1 L228.2 820.1 L229.7 820.1 L231.2 820.1 L232.7 820.1 L234.2 820.1 L235.7 820.1 L237.2 820.1 L238.7 820.1 L240.2 820.1 L241.7 820.1 L243.2 820.1 L244.7 820.1 L246.2 820.1 L247.7 820.1 L249.2 820.1 L250.7 820.1 L252.2 820.1 L253.7 820.1 L255.2 820.1 L256.7 820.1 L258.2 820.1 L259.7 820.1 L261.2 820.2 L262.7 820.2 L264.2 820.2 L265.7 820.2 L267.2 820.2 L268.7 820.2 L270.2 820.2 L271.7 820.2 L273.2 820.2 L274.7 820.2 L276.2 820.2 L277.7 820.2 L279.2 820.2 L280.7 820.2 L282.2 820.2 L283.7 820.2 L285.2 820.2 L286.7 820.2 L288.2 820.2 L289.7 820.2 L291.2 820.1 L292.7 820.1 L293.7 820.1 L294.7 820.1 L295.7 820.1 L296.7 820.1 L297.7 820.1 L298.7 820.1 L299.7 820.1 L300.7 820.1 L301.7 820.1 L302.7 820.1 L303.7 820.1 L304.7 820.1 L305.7 820.1 L306.7 820.1 L307.7 820.1 L308.7 820.1 L309.7 820.1 L310.7 820.1 L311.7 820.1 L312.7 820.1 L313.7 820.1 L314.7 820.1 L315.7 820.1 L316.7 820.1 L317.7 820.1 L318.7 820.1 L319.7 820.1 L320.7 820.1 L321.7 820.1 L322.7 820.1 L323.7 820.1 L324.7 820.0 L325.7 820.0 L326.7 820.0 L327.7 820.0 L328.7 820.0 L329.7 820.0 L330.7 820.0 L331.7 820.0 L332.7 820.0 L333.7 820.0 L334.7 820.0 L335.7 820.0 L336.7 820.0 L337.7 820.0 L338.7 820.0 L339.7 820.0 L340.7 819.9 L341.7 819.9 L342.7 819.9 L343.7 819.9 L344.7 819.9 L345.7 819.9 L346.7 819.9 L347.7 819.9 L348.7 819.9 L349.7 819.9 L350.7 819.9 L351.7 819.9 L352.7 819.8 L353.7 819.8 L354.7 819.8 L355.7 819.8 L356.7 819.8 L357.7 819.8 L358.7 819.8 L359.7 819.8 L360.7 819.8 L361.7 819.8 L362.7 819.7 L363.7 819.7 L364.7 819.7 L365.7 819.7 L367.2 819.7 L368.7 819.7 L370.2 819.7 L371.7 819.6 L373.2 819.6 L374.7 819.6 L376.2 819.6 L377.7 819.6 L379.2 819.6 L380.7 819.5 L382.2 819.5 L383.7 819.5 L385.2 819.5 L386.7 819.5 L388.2 819.4 L389.7 819.4 L391.2 819.4 L392.7 819.4 L394.2 819.3 L395.7 819.3 L397.2 819.3 L398.7 819.3 L400.2 819.3 L401.7 819.2 L403.2 819.2 L404.7 819.2 L406.2 819.2 L407.7 819.1 L409.2 819.1 L410.7 819.1 L412.2 819.1 L413.7 819.0 L415.2 819.0 L416.7 819.0 L418.2 819.0 L419.7 818.9 L421.2 818.9 L422.7 818.9 L424.2 818.8 L425.7 818.8 L427.2 818.7 L428.2 818.7 L429.2 818.6 L430.2 818.6 L431.2 818.5 L432.2 818.5 L433.2 818.4 L434.2 818.4 L435.2 818.3 L436.2 818.3 L437.2 818.2 L438.2 818.1 L439.2 818.1 L440.2 818.0 L441.2 817.9 L442.2 817.8 L443.2 817.7 L444.2 817.6 L445.2 817.6 L446.2 817.4 L447.2 817.3 L448.2 817.2 L449.2 817.1 L450.2 817.0 L451.1 816.8 L452.6 816.6 L454.1 816.3 L455.5 816.0 L457.0 815.6 L458.4 815.2 L459.8 814.7 L461.2 814.2 L462.5 813.6 L463.8 813.0 L465.1 812.3 L466.4 811.6 L467.7 810.8 L468.9 810.0 L470.1 809.2 L471.3 808.3 L472.1 807.6 L472.9 807.0 L473.7 806.4 L474.4 805.7 L475.2 805.0 L475.9 804.3 L476.7 803.6 L477.4 802.9 L478.1 802.2 L478.8 801.5 L479.5 800.7 L480.2 800.0 L480.9 799.2 L481.6 798.5 L482.3 797.7 L483.0 796.9 L483.6 796.1 L484.3 795.4 L484.9 794.6 L485.6 793.8 L486.2 793.0 L486.8 792.2 L487.5 791.4 L488.1 790.6 L488.7 789.8 L489.3 789.0 L489.9 788.1 L490.5 787.3 L491.1 786.5 L491.9 785.3 L492.8 784.1 L493.6 782.8 L494.4 781.6 L495.2 780.3 L496.0 779.1 L496.7 777.8 L497.5 776.5 L498.2 775.2 L498.9 773.9 L499.6 772.6 L500.2 771.3 L500.9 770.0 L501.5 768.6 L502.1 767.3 L502.7 765.9 L503.3 764.6 L503.8 763.2 L504.4 761.8 L504.9 760.4 L505.4 759.0 L505.9 757.6 L506.2 756.6 L506.5 755.7 L506.8 754.7 L507.1 753.7 L507.4 752.8 L507.7 751.8 L507.9 750.8 L508.2 749.9 L508.5 748.9 L508.8 747.9 L509.1 747.0 L509.3 746.0 L509.6 745.0 L509.9 744.0 L510.2 743.1 L510.4 742.1 L510.7 741.1 L511.0 740.1 L511.2 739.2 L511.5 738.2 L511.8 737.2 L512.1 736.3 L512.4 735.3 L512.7 734.3 L512.9 733.4 L513.2 732.4 L513.5 731.5 L513.8 730.5 L514.3 729.1 L514.7 727.7 L515.2 726.2 L515.6 724.8 L516.1 723.4 L516.6 722.0 L517.0 720.5 L517.5 719.1 L517.9 717.7 L518.4 716.3 L518.8 714.9 L519.3 713.4 L519.7 712.0 L520.1 710.6 L520.5 709.1 L520.9 707.7 L521.3 706.3 L521.7 704.8 L522.1 703.4 L522.5 701.9 L522.7 701.0 L522.9 700.0 L523.2 699.0 L523.4 698.0 L523.7 697.1 L523.9 696.1 L524.1 695.1 L524.4 694.1 L524.6 693.2 L524.8 692.2 L525.1 691.2 L525.3 690.2 L525.6 689.3 L525.8 688.3 L526.1 687.3 L526.3 686.4 L526.6 685.4 L526.8 684.4 L527.1 683.5 L527.4 682.5 L527.6 681.5 L528.1 680.1 L528.5 678.7 L529.0 677.2 L529.4 675.8 L529.9 674.4 L530.4 673.0 L530.9 671.6 L531.4 670.2 L531.9 668.8 L532.4 667.4 L533.0 665.9 L533.5 664.5 L534.0 663.1 L534.6 661.7 L535.1 660.3 L535.6 658.9 L536.2 657.5 L536.7 656.1 L537.1 655.2 L537.4 654.3 L537.8 653.3 L538.1 652.4 L538.5 651.5 L538.8 650.5 L539.1 649.6 L539.5 648.6 L539.8 647.7 L540.1 646.7 L540.5 645.8 L540.8 644.8 L541.1 643.9 L541.5 643.0 L541.8 642.0 L542.1 641.1 L542.5 640.1 L542.8 639.2 L543.2 638.3 L543.5 637.3 L543.9 636.4 L544.3 635.5 L544.6 634.5 L545.0 633.6 L545.4 632.7 L545.8 631.8 L546.2 630.8 L546.7 629.9 L547.1 629.0 L547.5 628.1 L548.0 627.2 L548.5 626.3 L549.0 625.5 L549.5 624.6 L550.3 623.3 L551.2 622.2 L552.1 621.1 L553.2 620.1 L554.3 619.2 L555.6 618.5 L556.9 617.9 L557.9 617.6 L558.8 617.3 L559.8 617.0 L560.8 616.7 L561.8 616.4 L562.8 616.1 L563.8 615.8 L564.8 615.5 L565.8 615.1 L566.7 614.7 L567.6 614.3 L568.5 613.9 L569.4 613.4 L570.3 612.9 L571.7 612.3 L573.0 611.6 L574.4 611.1 L575.8 610.7 L576.8 610.4 L578.3 610.2 L579.8 610.0 L581.3 610.0 L582.7 610.1 L584.2 610.3 L585.6 610.7 L586.9 611.2 L588.2 611.8 L589.4 612.6 L590.6 613.6 L591.3 614.3 L592.0 615.0 L592.7 615.7 L593.4 616.5 L594.0 617.4 L594.6 618.2 L595.2 619.1 L595.8 619.9 L596.3 620.8 L596.9 621.7 L597.4 622.6 L597.9 623.5 L598.4 624.4 L598.9 625.3 L599.4 626.2 L599.8 627.1 L600.3 628.0 L600.7 628.9 L601.1 629.8 L601.7 631.1 L602.3 632.5 L602.9 633.9 L603.4 635.3 L604.0 636.7 L604.5 638.1 L605.0 639.5 L605.5 640.9 L606.0 642.3 L606.4 643.7 L606.9 645.1 L607.4 646.5 L607.9 647.9 L608.4 649.3 L608.8 650.8 L609.3 652.2 L609.8 653.6 L610.1 654.6 L610.4 655.5 L610.8 656.4 L611.1 657.4 L611.4 658.3 L611.7 659.3 L612.0 660.3 L612.3 661.2 L612.7 662.2 L613.0 663.1 L613.3 664.1 L613.6 665.0 L613.9 666.0 L614.2 666.9 L614.5 667.9 L614.8 668.8 L615.1 669.8 L615.4 670.8 L615.7 671.7 L615.9 672.7 L616.2 673.7 L616.5 674.6 L616.8 675.6 L617.0 676.5 L617.3 677.5 L617.7 679.0 L618.1 680.4 L618.4 681.9 L618.8 683.3 L619.2 684.8 L619.5 686.2 L619.8 687.7 L620.2 689.1 L620.5 690.6 L620.8 692.1 L621.1 693.5 L621.4 695.0 L621.7 696.5 L621.9 697.9 L622.2 699.4 L622.5 700.9 L622.7 701.9 L622.8 702.9 L623.0 703.9 L623.2 704.8 L623.3 705.8 L623.5 706.8 L623.7 707.8 L623.8 708.8 L624.0 709.8 L624.1 710.8 L624.3 711.8 L624.4 712.8 L624.6 713.8 L624.8 714.7 L625.1 716.2 L625.4 717.7 L625.8 719.1 L626.3 720.5 L626.8 721.9 L627.2 722.8 L627.6 723.8 L628.1 724.7 L628.5 725.6 L628.9 726.5 L629.4 727.4 L629.9 728.2 L630.4 729.1 L631.1 730.4 L631.8 731.7 L632.5 733.0 L633.2 734.4 L634.0 735.7 L634.7 737.0 L635.4 738.3 L636.1 739.6 L636.6 740.5 L637.0 741.4 L637.5 742.2 L638.0 743.1 L638.4 744.0 L638.9 744.9 L639.4 745.8 L639.8 746.7 L640.3 747.6 L640.7 748.5 L641.2 749.4 L641.6 750.3 L642.1 751.2 L642.5 752.1 L642.9 753.0 L643.4 753.9 L643.8 754.9 L644.2 755.8 L644.7 756.7 L645.1 757.6 L645.5 758.5 L645.9 759.4 L646.5 760.8 L647.1 762.1 L647.7 763.5 L648.3 764.9 L648.9 766.2 L649.4 767.6 L650.0 769.0 L650.5 770.3 L651.1 771.7 L651.6 773.1 L652.2 774.4 L652.7 775.8 L653.2 777.2 L653.7 778.6 L654.3 780.0 L654.6 780.9 L655.0 781.9 L655.4 782.8 L655.7 783.8 L656.1 784.7 L656.5 785.7 L656.8 786.6 L657.2 787.6 L657.6 788.6 L658.0 789.6 L658.4 790.5 L658.8 791.5 L659.2 792.4 L659.7 793.4 L660.1 794.3 L660.6 795.2 L661.1 796.1 L661.6 797.0 L662.1 797.9 L662.9 799.1 L663.8 800.3 L664.7 801.4 L665.7 802.5 L666.8 803.4 L667.9 804.3 L669.1 805.1 L670.4 805.7 L671.8 806.3 L673.2 806.8 L674.2 807.1 L675.2 807.3 L676.2 807.6 L677.2 807.9 L678.2 808.1 L679.2 808.4 L680.2 808.6 L681.1 808.9 L682.1 809.2 L683.1 809.5 L684.1 809.8 L685.0 810.1 L686.0 810.4 L687.4 810.8 L688.8 811.3 L690.2 811.7 L691.7 812.1 L693.1 812.5 L694.5 812.9 L696.0 813.2 L697.5 813.4 L699.0 813.7 L700.4 813.9 L701.4 814.0 L702.4 814.1 L703.4 814.2 L704.4 814.4 L705.4 814.5 L706.4 814.6 L707.4 814.7 L708.4 814.8 L709.4 814.9 L710.4 815.0 L711.4 815.1 L712.4 815.3 L713.4 815.4 L714.4 815.5 L715.4 815.6 L716.3 815.7 L717.3 815.8 L718.3 815.8 L719.3 815.9 L720.3 816.0 L721.3 816.1 L722.3 816.2 L723.3 816.3 L724.3 816.4 L725.3 816.5 L726.3 816.5 L727.3 816.6 L728.3 816.7 L729.3 816.8 L730.3 816.9 L731.3 816.9 L732.3 817.0 L733.3 817.1 L734.3 817.1 L735.3 817.2 L736.3 817.3 L737.3 817.4 L738.3 817.4 L739.3 817.5 L740.3 817.5 L741.3 817.6 L742.3 817.7 L743.3 817.7 L744.3 817.8 L745.3 817.8 L746.3 817.9 L747.3 817.9 L748.3 818.0 L749.8 818.1 L751.3 818.2 L752.8 818.2 L754.3 818.3 L755.8 818.4 L757.3 818.4 L758.8 818.5 L760.3 818.6 L761.8 818.6 L763.2 818.7 L764.7 818.7 L766.2 818.8 L767.7 818.8 L769.2 818.9 L770.7 819.0 L772.2 819.0 L773.7 819.1 L775.2 819.1 L776.7 819.1 L778.2 819.2 L779.7 819.2 L781.2 819.3 L782.7 819.3 L784.2 819.3 L785.7 819.4 L787.2 819.4 L788.7 819.5 L790.2 819.5 L791.7 819.5 L793.2 819.5 L794.7 819.6 L796.2 819.6 L797.7 819.6 L799.2 819.7 L800.7 819.7 L802.2 819.7 L803.7 819.7 L805.2 819.7 L806.7 819.8 L808.2 819.8 L809.7 819.8 L811.2 819.8 L812.7 819.8 L814.2 819.8 L815.7 819.9 L817.2 819.9 L818.7 819.9 L820.2 819.9 L821.2 819.9 L822.2 819.9 L823.2 819.9 L824.2 819.9 L825.2 819.9 L826.2 819.9 L827.2 819.9 L828.2 820.0 L829.2 820.0 L830.2 820.0 L831.2 820.0 L832.2 820.0 L833.2 820.0 L834.2 820.0 L835.2 820.0 L836.2 820.0 L837.2 820.0 L838.2 820.0 L839.2 820.0 L840.2 820.0 L841.2 820.0 L842.2 820.0 L843.2 820.0 L844.2 820.0 L845.2 820.0 L846.2 820.0 L847.2 820.0 L848.2 820.0 L849.2 820.0 L850.2 820.0 L851.2 820.0 L852.2 820.0 L853.2 820.0 L854.2 820.0 L855.2 820.0 L856.2 820.0 L857.2 820.0 L858.2 820.0 L859.2 820.0 L860.2 820.0 L861.2 820.0 L862.2 820.0 L863.2 820.0 L864.2 820.0 L865.2 820.0 L866.2 820.0 L867.2 820.0 L868.2 820.0 L869.2 820.0 L870.2 820.0 L871.2 820.1 L872.2 820.1 L873.2 820.1 L874.2 820.1 L875.2 820.1 L876.2 820.1 L877.2 820.1 L878.2 820.1 L879.2 820.1 L880.2 820.1 L881.2 820.1 L882.2 820.1 L883.2 820.1 L884.7 820.1 L886.2 820.1 L887.7 820.1 L889.2 820.1 L890.7 820.1 L892.2 820.1 L893.7 820.1 L895.2 820.1 L896.7 820.1 L898.2 820.1 L899.7 820.1 L901.2 820.2 L902.7 820.2 L904.2 820.2 L905.7 820.2 L906.8 820.2"/>
<path stroke="#00ffff" d="M153.2 820.2 L154.7 820.2 L156.2 820.2 L157.7 820.2 L159.2 820.2 L160.7 820.2 L162.2 820.2 L163.7 820.2 L165.2 820.2 L166.7 820.2 L168.2 820.2 L169.7 820.2 L171.2 820.2 L172.7 820.2 L174.2 820.2 L175.7 820.2 L177.2 820.2 L178.7 820.2 L180.2 820.2 L181.7 820.2 L183.2 820.2 L184.7 820.2 L186.2 820.2 L187.7 820.2 L189.2 820.2 L190.2 820.2 L191.2 820.2 L192.2 820.2 L193.2 820.2 L194.2 820.2 L195.2 820.2 L196.2 820.2 L197.2 820.2 L198.2 820.2 L199.2 820.2 L200.2 820.2 L201.2 820.2 L202.2 820.2 L203.2 820.2 L204.2 820.2 L205.2 820.2 L206.2 820.2 L207.2 820.2 L208.2 820.2 L209.2 820.2 L210.2 820.2 L211.2 820.2 L212.2 820.2 L213.2 820.2 L214.2 820.2 L215.2 820.2 L216.2 820.2 L217.2 820.2 L218.2 820.2 L219.2 820.2 L220.2 820.2 L221.2 820.2 L222.2 820.2 L223.2 820.2 L224.2 820.2 L225.2 820.2 L226.2 820.2 L227.2 820.2 L228.2 820.2 L229.2 820.2 L230.2 820.1 L231.2 820.1 L232.2 820.1 L233.2 820.1 L234.2 820.1 L235.2 820.1 L236.2 820.1 L237.2 820.1 L238.2 820.1 L239.2 820.1 L240.2 820.1 L241.2 820.1 L242.2 820.1 L243.2 820.1 L244.2 820.1 L245.2 820.1 L246.2 820.1 L247.2 820.1 L248.2 820.1 L249.2 820.1 L250.2 820.1 L251.2 820.1 L252.2 820.1 L253.2 820.1 L254.2 820.1 L255.2 820.1 L256.2 820.1 L257.2 820.1 L258.2 820.1 L259.2 820.1 L260.2 820.1 L261.2 820.1 L262.2 820.1 L263.2 820.1 L264.2 820.1 L265.2 820.1 L266.2 820.1 L267.2 820.1 L268.2 820.1 L269.2 820.1 L270.2 820.1 L271.2 820.1 L272.2 820.1 L273.2 820.1 L274.2 820.1 L275.2 820.1 L276.2 820.1 L277.2 820.1 L278.2 820.1 L279.2 820.1 L280.2 820.1 L281.2 820.1 L282.2 820.1 L283.2 820.1 L284.2 820.1 L285.2 820.1 L286.2 820.1 L287.2 820.1 L288.2 820.1 L289.2 820.1 L290.2 820.1 L291.2 820.1 L292.7 820.1 L294.2 820.1 L295.7 820.1 L297.2 820.1 L298.7 820.1 L300.2 820.1 L301.7 820.1 L303.2 820.1 L304.7 820.1 L306.2 820.1 L307.7 820.1 L309.2 820.1 L310.7 820.1 L312.2 820.1 L313.7 820.1 L315.2 820.1 L316.7 820.1 L318.2 820.1 L319.7 820.1 L321.2 820.1 L322.7 820.1 L324.2 820.1 L325.7 820.1 L327.2 820.1 L328.7 820.1 L330.2 820.1 L331.7 820.1 L333.2 820.1 L334.7 820.1 L336.2 820.1 L337.7 820.1 L339.2 820.1 L340.7 820.1 L342.2 820.1 L343.7 820.1 L345.2 820.1 L346.7 820.1 L348.2 820.1 L349.7 820.1 L351.2 820.1 L352.7 820.1 L354.2 820.1 L355.7 820.1 L357.2 820.1 L358.7 820.1 L360.2 820.1 L361.7 820.1 L363.2 820.1 L364.7 820.1 L366.2 820.1 L367.7 820.1 L369.2 820.1 L370.7 820.1 L372.2 820.1 L373.7 820.1 L375.2 820.1 L376.7 820.1 L378.2 820.1 L379.7 820.1 L380.7 820.1 L381.7 820.1 L382.7 820.1 L383.7 820.1 L384.7 820.1 L385.7 820.1 L386.7 820.1 L387.7 820.1 L388.7 820.1 L389.7 820.1 L390.7 820.1 L391.7 820.1 L392.7 820.1 L393.7 820.1 L394.7 820.1 L395.7 820.1 L396.7 820.1 L397.7 820.1 L398.7 820.0 L399.7 820.0 L400.7 820.0 L401.7 820.0 L402.7 820.0 L403.7 820.0 L404.7 820.0 L405.7 820.0 L406.7 820.0 L407.7 820.0 L408.7 820.0 L409.7 820.0 L410.7 820.0 L411.7 820.0 L412.7 820.0 L413.7 820.0 L414.7 820.0 L415.7 820.0 L416.7 820.0 L417.7 820.0 L418.7 820.0 L419.7 820.0 L420.7 820.0 L421.7 819.9 L422.7 819.9 L423.7 819.9 L424.7 819.9 L425.7 819.9 L426.7 819.9 L427.7 819.9 L428.7 819.9 L429.7 819.9 L430.7 819.9 L431.7 819.9 L432.7 819.9 L433.7 819.8 L434.7 819.8 L435.7 819.8 L436.7 819.8 L437.7 819.8 L438.7 819.8 L439.7 819.8 L440.7 819.8 L441.7 819.8 L442.7 819.7 L443.7 819.7 L444.7 819.7 L445.7 819.7 L446.7 819.7 L447.7 819.7 L448.7 819.6 L449.7 819.6 L450.7 819.6 L451.7 819.6 L452.7 819.6 L453.7 819.6 L454.7 819.5 L455.7 819.5 L456.7 819.5 L458.2 819.5 L459.7 819.4 L461.2 819.4 L462.7 819.3 L464.2 819.2 L465.7 819.1 L467.2 819.0 L468.7 818.9 L470.1 818.7 L471.6 818.6 L473.1 818.4 L474.6 818.2 L476.0 817.9 L477.5 817.6 L478.9 817.3 L480.4 817.0 L481.8 816.6 L483.3 816.2 L484.7 815.8 L486.1 815.3 L487.5 814.8 L488.9 814.3 L490.3 813.7 L491.7 813.1 L492.6 812.7 L493.5 812.3 L494.4 811.9 L495.3 811.4 L496.2 811.0 L497.1 810.5 L497.9 810.0 L498.8 809.5 L499.7 809.0 L500.5 808.5 L501.4 808.0 L502.2 807.4 L503.1 806.9 L503.9 806.3 L504.7 805.8 L505.6 805.2 L506.4 804.6 L507.6 803.7 L508.7 802.8 L509.9 801.8 L511.0 800.9 L512.2 799.9 L513.3 798.9 L514.3 797.8 L515.4 796.8 L516.5 795.8 L517.5 794.7 L518.5 793.6 L519.6 792.5 L520.6 791.4 L521.6 790.3 L522.6 789.2 L523.5 788.1 L524.5 786.9 L525.2 786.2 L525.8 785.4 L526.5 784.7 L527.1 783.9 L527.8 783.1 L528.4 782.4 L529.1 781.6 L529.7 780.8 L530.4 780.1 L531.0 779.3 L531.7 778.5 L532.4 777.8 L533.0 777.0 L533.7 776.2 L534.3 775.5 L535.0 774.7 L535.6 773.9 L536.3 773.1 L536.9 772.4 L537.5 771.6 L538.2 770.8 L538.8 770.0 L539.4 769.3 L540.0 768.5 L540.9 767.3 L541.8 766.1 L542.7 764.9 L543.6 763.7 L544.4 762.4 L545.2 761.2 L546.0 759.9 L546.8 758.7 L547.5 757.4 L548.2 756.1 L548.9 754.8 L549.6 753.5 L550.2 752.1 L550.7 750.8 L551.3 749.4 L551.8 748.0 L552.2 746.6 L552.7 745.2 L553.1 743.7 L553.5 742.3 L553.7 741.3 L553.9 740.3 L554.1 739.4 L554.4 738.4 L554.6 737.4 L554.8 736.4 L555.0 735.4 L555.1 734.4 L555.3 733.4 L555.5 732.4 L555.7 731.4 L555.8 730.4 L556.0 729.4 L556.1 728.4 L556.3 727.4 L556.4 726.4 L556.6 725.4 L556.7 724.4 L556.9 723.4 L557.0 722.3 L557.2 721.3 L557.3 720.3 L557.5 719.3 L557.7 718.4 L557.8 717.4 L558.0 716.4 L558.2 715.4 L558.4 713.9 L558.7 712.4 L558.9 711.0 L559.2 709.5 L559.5 708.1 L559.8 706.6 L560.1 705.1 L560.4 703.7 L560.7 702.2 L561.0 700.8 L561.3 699.3 L561.6 697.9 L561.9 696.4 L562.2 695.0 L562.5 693.5 L562.8 692.1 L563.1 690.6 L563.4 689.2 L563.7 687.7 L563.9 686.7 L564.1 685.7 L564.3 684.8 L564.5 683.8 L564.7 682.8 L564.9 681.8 L565.1 680.8 L565.3 679.8 L565.5 678.8 L565.7 677.8 L565.9 676.8 L566.1 675.8 L566.3 674.8 L566.5 673.8 L566.7 672.8 L566.9 671.8 L567.1 670.8 L567.4 669.8 L567.6 668.8 L567.9 667.8 L568.2 666.9 L568.5 665.9 L568.9 664.5 L569.5 663.1 L570.1 661.7 L570.7 660.4 L571.4 659.1 L572.2 657.9 L573.0 656.7 L573.9 655.5 L574.9 654.4 L575.6 653.7 L576.4 653.0 L577.1 652.3 L577.9 651.7 L578.6 651.0 L579.4 650.3 L580.1 649.6 L580.8 648.9 L581.5 648.1 L582.5 647.0 L583.4 645.9 L584.3 644.7 L585.2 643.5 L586.0 642.2 L586.7 640.9 L587.2 640.0 L587.6 639.1 L588.1 638.2 L588.5 637.3 L588.9 636.4 L589.3 635.5 L589.8 634.5 L590.2 633.6 L590.6 632.7 L591.1 631.8 L591.5 630.9 L592.2 629.6 L592.9 628.3 L593.7 627.0 L594.5 625.8 L595.3 624.5 L596.1 623.3 L596.9 622.0 L597.6 620.8 L598.4 619.5 L598.9 618.6 L599.4 617.7 L599.9 616.8 L600.3 615.9 L600.8 615.0 L601.2 614.1 L601.6 613.2 L602.1 612.3 L602.5 611.3 L602.9 610.4 L603.3 609.5 L603.7 608.5 L604.0 607.6 L604.4 606.6 L604.8 605.7 L605.1 604.7 L605.5 603.8 L605.8 602.8 L606.1 601.9 L606.5 600.9 L606.9 599.5 L607.4 598.1 L607.8 596.7 L608.3 595.3 L608.7 593.9 L609.1 592.5 L609.5 591.1 L610.0 589.7 L610.4 588.3 L610.8 586.9 L611.1 585.5 L611.5 584.1 L611.9 582.7 L612.3 581.2 L612.6 580.3 L612.8 579.3 L613.1 578.3 L613.4 577.3 L613.6 576.3 L613.9 575.3 L614.2 574.3 L614.4 573.2 L614.7 572.2 L615.0 571.1 L615.3 570.1 L615.5 569.0 L615.8 567.9 L616.2 566.8 L616.5 565.8 L616.8 564.8 L617.2 563.8 L617.6 562.8 L618.3 561.5 L619.1 560.4 L620.1 559.5 L621.1 558.8 L622.1 558.4 L623.2 558.4 L624.2 558.7 L625.1 559.3 L626.0 560.2 L626.8 561.3 L627.5 562.6 L628.0 563.6 L628.5 564.6 L628.9 565.6 L629.3 566.7 L629.7 567.8 L630.1 568.9 L630.4 569.9 L630.8 571.0 L631.1 572.1 L631.4 573.1 L631.7 574.1 L632.0 575.2 L632.3 576.2 L632.6 577.2 L632.8 578.2 L633.1 579.3 L633.3 580.3 L633.5 581.3 L633.7 582.3 L633.9 583.3 L634.1 584.2 L634.3 585.2 L634.5 586.7 L634.8 588.2 L635.0 589.6 L635.2 591.1 L635.5 592.5 L635.7 594.0 L635.9 595.5 L636.1 596.9 L636.2 598.3 L636.4 599.8 L636.6 601.3 L636.8 602.7 L637.0 604.2 L637.2 605.6 L637.5 607.1 L637.7 608.6 L637.9 610.0 L638.1 611.5 L638.3 613.0 L638.6 614.5 L638.8 615.9 L639.0 616.9 L639.1 617.9 L639.3 618.9 L639.4 619.9 L639.6 620.9 L639.7 621.9 L639.9 622.9 L640.1 623.9 L640.2 624.9 L640.4 625.9 L640.5 626.8 L640.7 627.8 L640.9 628.8 L641.0 629.8 L641.2 630.8 L641.3 631.8 L641.5 632.8 L641.6 633.8 L641.8 634.8 L641.9 635.8 L642.1 636.8 L642.3 637.8 L642.4 638.8 L642.6 639.8 L642.7 640.8 L642.9 641.8 L643.0 642.8 L643.2 643.8 L643.3 644.8 L643.5 645.7 L643.6 646.7 L643.8 647.7 L643.9 648.7 L644.1 649.7 L644.2 650.7 L644.4 651.7 L644.5 652.7 L644.7 653.7 L644.8 654.7 L645.0 655.7 L645.2 656.7 L645.3 657.6 L645.5 658.6 L645.6 659.6 L645.8 660.6 L646.0 661.6 L646.1 662.6 L646.3 663.6 L646.4 664.6 L646.6 665.6 L646.8 666.5 L647.0 667.5 L647.2 669.0 L647.5 670.5 L647.7 672.0 L648.0 673.4 L648.3 674.9 L648.6 676.4 L648.8 677.8 L649.1 679.3 L649.4 680.8 L649.7 682.2 L650.0 683.7 L650.4 685.2 L650.7 686.6 L651.0 688.1 L651.3 689.5 L651.7 691.0 L652.0 692.4 L652.4 693.9 L652.8 695.3 L653.1 696.8 L653.5 698.2 L653.9 699.7 L654.3 701.1 L654.7 702.5 L655.1 704.0 L655.6 705.4 L656.0 706.8 L656.5 708.3 L656.9 709.7 L657.4 711.1 L657.8 712.5 L658.3 713.9 L658.8 715.4 L659.3 716.8 L659.8 718.2 L660.3 719.6 L660.8 721.0 L661.3 722.4 L661.8 723.8 L662.2 724.8 L662.5 725.7 L662.9 726.6 L663.2 727.6 L663.6 728.5 L663.9 729.4 L664.3 730.4 L664.7 731.3 L665.0 732.2 L665.4 733.2 L665.8 734.1 L666.1 735.0 L666.5 736.0 L666.9 736.9 L667.3 737.8 L667.7 738.7 L668.0 739.7 L668.4 740.6 L668.8 741.5 L669.2 742.5 L669.6 743.4 L670.0 744.3 L670.3 745.2 L670.7 746.2 L671.1 747.1 L671.5 748.0 L671.9 748.9 L672.3 749.9 L672.7 750.8 L673.1 751.7 L673.5 752.6 L673.9 753.6 L674.3 754.5 L674.7 755.4 L675.1 756.3 L675.5 757.2 L675.9 758.2 L676.3 759.1 L676.7 760.0 L677.1 760.9 L677.5 761.9 L677.9 762.8 L678.3 763.7 L678.7 764.6 L679.1 765.5 L679.5 766.4 L679.9 767.3 L680.4 768.3 L680.8 769.2 L681.2 770.1 L681.9 771.4 L682.5 772.8 L683.2 774.1 L683.9 775.4 L684.6 776.8 L685.3 778.1 L686.0 779.4 L686.7 780.7 L687.5 782.0 L688.3 783.2 L689.1 784.5 L689.9 785.7 L690.7 787.0 L691.6 788.2 L692.4 789.4 L693.3 790.6 L694.3 791.8 L695.2 793.0 L695.9 793.7 L696.5 794.5 L697.5 795.6 L698.5 796.7 L699.6 797.8 L700.7 798.8 L701.8 799.8 L702.9 800.8 L704.0 801.8 L705.2 802.7 L706.4 803.6 L707.6 804.5 L708.8 805.3 L710.0 806.1 L711.3 806.9 L712.6 807.6 L713.9 808.3 L715.2 808.9 L716.6 809.5 L718.0 810.1 L719.3 810.7 L720.8 811.2 L722.2 811.6 L723.1 811.9 L724.1 812.2 L725.1 812.5 L726.0 812.8 L727.0 813.0 L728.0 813.2 L729.0 813.5 L729.9 813.7 L730.9 813.9 L731.9 814.1 L732.9 814.3 L733.9 814.5 L734.9 814.7 L735.9 814.8 L736.9 815.0 L737.9 815.1 L738.9 815.3 L739.9 815.4 L740.9 815.6 L741.9 815.7 L742.9 815.8 L743.9 816.0 L744.9 816.1 L745.9 816.2 L746.9 816.3 L747.9 816.4 L748.9 816.5 L749.9 816.6 L750.9 816.7 L752.4 816.9 L753.9 817.0 L755.4 817.1 L756.9 817.3 L758.4 817.4 L759.9 817.5 L761.4 817.6 L762.8 817.7 L764.3 817.8 L765.8 817.9 L767.3 818.0 L768.8 818.1 L770.3 818.2 L771.8 818.3 L773.3 818.4 L774.8 818.5 L776.3 818.5 L777.8 818.6 L779.2 818.7 L780.7 818.7 L782.2 818.8 L783.7 818.9 L785.2 818.9 L786.7 819.0 L788.2 819.1 L789.7 819.1 L791.2 819.2 L792.7 819.2 L794.2 819.3 L795.7 819.3 L797.2 819.3 L798.7 819.4 L800.2 819.4 L801.7 819.5 L803.2 819.5 L804.7 819.5 L806.2 819.6 L807.7 819.6 L809.2 819.6 L810.7 819.6 L811.7 819.6 L812.7 819.7 L813.7 819.7 L814.7 819.7 L815.7 819.7 L816.7 819.7 L817.7 819.7 L818.7 819.7 L819.7 819.7 L820.7 819.8 L821.7 819.8 L822.7 819.8 L823.7 819.8 L824.7 819.8 L825.7 819.8 L826.7 819.8 L827.7 819.8 L828.7 819.8 L829.7 819.8 L830.7 819.8 L831.7 819.8 L832.7 819.8 L833.7 819.8 L834.7 819.8 L835.7 819.8 L836.7 819.9 L837.7 819.9 L838.7 819.9 L839.7 819.9 L840.7 819.9 L841.7 819.9 L842.7 819.9 L843.7 819.9 L844.7 819.9 L845.7 819.9 L846.7 819.9 L847.7 819.9 L848.7 819.9 L849.7 819.9 L850.7 819.9 L851.7 819.9 L852.7 819.9 L853.7 819.9 L854.7 819.9 L855.7 819.9 L856.7 819.9 L857.7 819.9 L858.7 819.9 L859.7 819.9 L860.7 819.9 L861.7 819.9 L862.7 819.9 L863.7 819.9 L864.7 819.9 L865.7 819.9 L866.7 819.9 L867.8 819.9 L868.8 819.9 L869.8 819.9 L870.8 819.9 L871.8 819.9 L872.8 819.9 L873.8 819.9 L874.8 819.9 L875.8 819.9 L876.8 819.9 L877.8 819.9 L878.8 819.9 L879.8 819.9 L880.8 819.9 L881.8 819.9 L883.3 819.9 L884.8 819.9 L886.3 819.9 L887.8 819.9 L889.3 819.9 L890.8 820.0 L892.3 820.0 L893.8 820.0 L895.2 820.0 L896.7 820.0 L898.2 820.1 L899.7 820.1 L901.2 820.1 L902.7 820.1 L904.2 820.1 L905.7 820.2 L906.8 820.2"/>
<path stroke="#ff00ff" d="M153.2 820.2 L154.2 820.2 L155.2 820.2 L156.2 820.2 L157.2 820.2 L158.2 820.2 L159.2 820.2 L160.2 820.2 L161.2 820.2 L162.2 820.2 L163.2 820.2 L164.2 820.2 L165.2 820.2 L166.2 820.2 L167.2 820.2 L168.2 820.2 L169.2 820.2 L170.2 820.2 L171.2 820.2 L172.2 820.2 L173.2 820.2 L174.2 820.2 L175.2 820.2 L176.2 820.2 L177.2 820.2 L178.2 820.2 L179.2 820.2 L180.2 820.2 L181.2 820.2 L182.2 820.2 L183.2 820.2 L184.2 820.2 L185.2 820.2 L186.2 820.2 L187.2 820.2 L188.7 820.2 L190.2 820.2 L191.7 820.2 L193.2 820.2 L194.7 820.2 L196.2 820.2 L197.7 820.2 L199.2 820.2 L200.7 820.2 L202.2 820.2 L203.7 820.2 L205.2 820.2 L206.7 820.2 L208.2 820.2 L209.7 820.2 L211.2 820.2 L212.7 820.2 L214.2 820.2 L215.7 820.2 L217.2 820.2 L218.7 820.1 L220.2 820.1 L221.7 820.1 L223.2 820.1 L224.7 820.1 L226.2 820.1 L227.7 820.1 L229.2 820.1 L230.7 820.1 L232.2 820.1 L233.7 820.1 L235.2 820.1 L236.7 820.1 L238.2 820.1 L239.7 820.1 L241.2 820.1 L242.7 820.1 L244.2 820.1 L245.7 820.1 L247.2 820.1 L248.7 820.1 L250.2 820.1 L251.7 820.1 L253.2 820.1 L254.7 820.1 L256.2 820.1 L257.7 820.1 L259.2 820.1 L260.7 820.1 L262.2 820.1 L263.7 820.1 L265.2 820.1 L266.7 820.1 L268.2 820.1 L269.7 820.1 L271.2 820.1 L272.7 820.1 L274.2 820.1 L275.7 820.1 L277.2 820.1 L278.7 820.1 L280.2 820.1 L281.7 820.1 L283.2 820.1 L284.7 820.1 L285.7 820.1 L286.7 820.1 L287.7 820.1 L288.7 820.1 L289.7 820.1 L290.7 820.1 L291.7 820.1 L292.7 820.1 L293.7 820.1 L294.7 820.1 L295.7 820.1 L296.7 820.1 L297.7 820.1 L298.7 820.1 L299.7 820.1 L300.7 820.1 L301.7 820.1 L302.7 820.1 L303.7 820.1 L304.7 820.1 L305.7 820.1 L306.7 820.1 L307.7 820.1 L308.7 820.1 L309.7 820.1 L310.7 820.1 L311.7 820.1 L312.7 820.1 L313.7 820.1 L314.7 820.1 L315.7 820.1 L316.7 820.1 L317.7 820.1 L318.7 820.1 L319.7 820.1 L320.7 820.1 L321.7 820.1 L322.7 820.1 L323.7 820.1 L324.7 820.1 L325.7 820.1 L326.7 820.1 L327.7 820.1 L328.7 820.1 L329.7 820.1 L330.7 820.1 L331.7 820.1 L332.7 820.1 L333.7 820.1 L334.7 820.1 L335.7 820.1 L336.7 820.1 L337.7 820.1 L338.7 820.1 L339.7 820.1 L340.7 820.1 L341.7 820.1 L342.7 820.1 L343.7 820.1 L344.7 820.1 L345.7 820.1 L346.7 820.1 L347.7 820.1 L348.7 820.1 L349.7 820.1 L350.7 820.1 L351.7 820.1 L352.7 820.1 L353.7 820.1 L354.7 820.1 L355.7 820.1 L356.7 820.1 L357.7 820.1 L358.7 820.1 L359.7 820.1 L360.7 820.1 L361.7 820.0 L362.7 820.0 L364.2 820.0 L365.7 820.0 L367.2 820.0 L368.7 820.0 L370.2 820.0 L371.7 820.0 L373.2 820.0 L374.7 820.0 L376.2 820.0 L377.7 820.0 L379.2 819.9 L380.7 819.9 L382.2 819.9 L383.7 819.9 L385.2 819.9 L386.7 819.9 L388.2 819.8 L389.7 819.8 L391.2 819.8 L392.7 819.8 L394.2 819.8 L395.7 819.7 L397.2 819.7 L398.7 819.7 L400.2 819.7 L401.7 819.6 L403.2 819.6 L404.7 819.6 L406.2 819.5 L407.7 819.5 L409.2 819.5 L410.7 819.4 L412.2 819.4 L413.7 819.4 L415.2 819.3 L416.7 819.3 L417.7 819.2 L418.7 819.2 L419.7 819.2 L420.7 819.2 L421.7 819.1 L422.7 819.1 L423.7 819.1 L424.7 819.1 L425.7 819.0 L426.7 819.0 L427.7 819.0 L428.7 819.0 L429.7 819.0 L430.7 818.9 L431.7 818.9 L432.7 818.9 L433.8 818.9 L434.8 818.9 L435.8 818.8 L436.8 818.8 L437.8 818.7 L438.8 818.7 L440.3 818.5 L441.8 818.3 L443.2 818.1 L444.6 817.7 L446.0 817.3 L447.4 816.8 L448.7 816.2 L450.0 815.6 L451.3 814.9 L452.6 814.1 L453.8 813.2 L454.6 812.6 L455.4 812.0 L456.2 811.4 L457.0 810.8 L457.8 810.1 L458.6 809.5 L459.4 808.8 L460.2 808.1 L460.9 807.5 L461.7 806.8 L462.5 806.1 L463.2 805.4 L464.0 804.7 L464.7 804.0 L465.5 803.3 L466.3 802.7 L467.0 802.0 L467.8 801.3 L468.9 800.3 L470.0 799.3 L471.0 798.3 L472.1 797.3 L473.1 796.2 L474.1 795.1 L475.1 794.0 L476.0 792.9 L476.9 791.7 L477.8 790.5 L478.7 789.2 L479.5 788.0 L480.1 787.2 L480.7 786.4 L481.3 785.6 L481.9 784.8 L482.5 784.0 L483.1 783.2 L483.7 782.4 L484.4 781.7 L485.1 780.9 L485.8 780.2 L486.5 779.5 L487.3 778.8 L488.0 778.1 L488.8 777.5 L489.6 776.8 L490.4 776.2 L491.1 775.5 L491.9 774.9 L492.7 774.2 L493.5 773.5 L494.2 772.9 L495.0 772.2 L495.7 771.5 L496.7 770.4 L497.7 769.3 L498.7 768.2 L499.6 767.1 L500.5 765.9 L501.4 764.7 L502.2 763.5 L503.0 762.2 L503.8 761.0 L504.5 759.7 L505.2 758.4 L505.9 757.1 L506.6 755.7 L507.2 754.4 L507.9 753.0 L508.3 752.1 L508.7 751.2 L509.1 750.3 L509.5 749.4 L509.9 748.4 L510.2 747.5 L510.6 746.6 L511.0 745.6 L511.4 744.7 L511.7 743.8 L512.1 742.8 L512.5 741.9 L512.8 740.9 L513.2 740.0 L513.6 739.0 L513.9 738.1 L514.3 737.2 L514.7 736.2 L515.0 735.3 L515.4 734.3 L515.7 733.4 L516.1 732.5 L516.5 731.5 L516.8 730.6 L517.2 729.6 L517.5 728.7 L517.9 727.8 L518.3 726.8 L518.6 725.9 L519.0 724.9 L519.3 724.0 L519.6 723.1 L520.0 722.1 L520.3 721.2 L520.8 719.8 L521.3 718.3 L521.8 716.9 L522.3 715.5 L522.8 714.1 L523.2 712.7 L523.7 711.3 L524.2 709.9 L524.6 708.5 L525.0 707.1 L525.5 705.7 L525.9 704.3 L526.3 702.9 L526.8 701.5 L527.2 700.2 L527.6 698.8 L528.0 697.5 L528.5 696.1 L528.9 694.8 L529.3 693.5 L529.8 692.3 L530.2 691.0 L530.6 689.7 L531.1 688.5 L531.5 687.2 L531.9 685.9 L532.4 684.6 L532.8 683.2 L533.3 681.9 L533.7 680.5 L534.1 679.2 L534.6 677.8 L535.0 676.4 L535.4 675.0 L535.9 673.6 L536.3 672.2 L536.7 670.8 L537.2 669.3 L537.6 667.9 L538.1 666.5 L538.4 665.5 L538.6 664.6 L538.9 663.6 L539.2 662.6 L539.5 661.7 L539.8 660.7 L540.1 659.8 L540.4 658.8 L540.7 657.8 L541.0 656.9 L541.3 655.9 L541.6 655.0 L541.9 654.0 L542.2 653.1 L542.5 652.1 L542.8 651.1 L543.1 650.2 L543.4 649.2 L543.7 648.3 L544.0 647.3 L544.3 646.4 L544.6 645.4 L544.9 644.5 L545.2 643.5 L545.5 642.5 L546.0 641.1 L546.4 639.7 L546.8 638.2 L547.3 636.8 L547.7 635.4 L548.1 633.9 L548.5 632.5 L548.9 631.0 L549.3 629.6 L549.7 628.1 L550.1 626.7 L550.4 625.2 L550.8 623.8 L551.2 622.3 L551.4 621.4 L551.6 620.4 L551.9 619.4 L552.1 618.4 L552.3 617.5 L552.5 616.5 L552.8 615.5 L553.0 614.5 L553.2 613.6 L553.4 612.6 L553.6 611.6 L553.8 610.6 L554.0 609.6 L554.2 608.7 L554.4 607.7 L554.7 606.7 L554.9 605.7 L555.1 604.7 L555.3 603.8 L555.5 602.8 L555.6 601.8 L555.8 600.8 L556.0 599.8 L556.2 598.8 L556.4 597.9 L556.6 596.9 L556.8 595.9 L557.0 594.9 L557.2 593.9 L557.4 592.9 L557.6 592.0 L557.8 591.0 L558.0 590.0 L558.1 589.0 L558.4 587.5 L558.7 586.1 L559.0 584.6 L559.3 583.1 L559.6 581.7 L559.9 580.2 L560.2 578.7 L560.5 577.3 L560.8 575.8 L561.1 574.3 L561.4 572.9 L561.7 571.4 L562.0 570.0 L562.3 568.5 L562.7 567.1 L563.0 565.6 L563.3 564.2 L563.7 562.7 L564.0 561.3 L564.4 559.8 L564.7 558.4 L565.1 556.9 L565.3 556.0 L565.6 555.0 L565.8 554.0 L566.1 553.0 L566.3 552.0 L566.6 551.0 L566.9 550.0 L567.1 549.0 L567.4 547.9 L567.6 546.9 L567.9 545.8 L568.2 544.7 L568.4 543.6 L568.7 542.5 L568.9 541.4 L569.2 540.3 L569.5 539.3 L569.9 538.0 L570.4 537.0 L571.3 536.3 L572.2 536.9 L572.9 537.8 L573.5 539.0 L573.9 540.0 L574.3 541.1 L574.7 542.2 L575.1 543.3 L575.4 544.5 L575.7 545.7 L576.0 546.9 L576.3 548.1 L576.5 549.2 L576.7 550.3 L576.9 551.3 L577.0 552.4 L577.2 553.4 L577.3 554.4 L577.5 555.4 L577.7 556.9 L577.9 558.4 L578.1 559.8 L578.3 561.3 L578.6 562.8 L578.9 564.2 L579.2 565.7 L579.5 567.1 L579.8 568.6 L580.1 570.0 L580.4 571.5 L580.7 573.0 L581.0 574.4 L581.3 575.9 L581.6 577.4 L581.9 578.8 L582.2 580.3 L582.5 581.8 L582.8 583.2 L583.0 584.7 L583.3 586.2 L583.6 587.6 L583.9 589.1 L584.1 590.6 L584.4 592.0 L584.7 593.5 L585.0 595.0 L585.2 596.5 L585.5 597.9 L585.8 599.4 L586.0 600.4 L586.2 601.4 L586.3 602.4 L586.5 603.4 L586.7 604.3 L586.9 605.3 L587.1 606.3 L587.2 607.3 L587.4 608.3 L587.6 609.3 L587.8 610.2 L588.0 611.2 L588.2 612.2 L588.4 613.2 L588.5 614.2 L588.7 615.2 L588.9 616.1 L589.1 617.1 L589.3 618.1 L589.5 619.1 L589.7 620.1 L589.9 621.1 L590.1 622.0 L590.3 623.0 L590.5 624.0 L590.7 625.0 L590.9 626.0 L591.1 626.9 L591.3 627.9 L591.5 628.9 L591.7 629.9 L591.9 630.9 L592.1 631.8 L592.3 632.8 L592.5 633.8 L592.8 634.8 L593.0 635.7 L593.2 636.7 L593.4 637.7 L593.6 638.7 L593.9 639.6 L594.1 640.6 L594.3 641.6 L594.6 642.6 L594.8 643.5 L595.0 644.5 L595.3 645.5 L595.5 646.5 L595.8 647.4 L596.0 648.4 L596.4 649.8 L596.8 651.3 L597.2 652.7 L597.5 654.2 L597.9 655.6 L598.4 657.1 L598.8 658.5 L599.2 660.0 L599.6 661.4 L600.0 662.8 L600.5 664.3 L600.9 665.7 L601.2 666.7 L601.5 667.6 L601.8 668.6 L602.1 669.5 L602.4 670.5 L602.7 671.4 L603.0 672.4 L603.3 673.3 L603.6 674.3 L603.9 675.3 L604.2 676.2 L604.5 677.2 L604.8 678.1 L605.1 679.1 L605.5 680.0 L605.8 680.9 L606.1 681.9 L606.4 682.8 L606.8 683.8 L607.1 684.7 L607.4 685.7 L607.7 686.6 L608.1 687.6 L608.4 688.5 L608.7 689.5 L609.1 690.4 L609.4 691.3 L609.7 692.3 L610.1 693.2 L610.4 694.2 L610.7 695.1 L611.1 696.1 L611.4 697.0 L611.8 697.9 L612.1 698.9 L612.5 699.8 L612.8 700.7 L613.1 701.7 L613.5 702.6 L614.0 704.0 L614.5 705.4 L615.1 706.8 L615.6 708.2 L616.1 709.6 L616.6 711.1 L617.2 712.5 L617.7 713.9 L618.2 715.3 L618.8 716.7 L619.3 718.1 L619.8 719.5 L620.4 720.9 L620.9 722.2 L621.4 723.6 L622.0 725.0 L622.5 726.4 L623.1 727.8 L623.6 729.2 L624.1 730.6 L624.7 732.0 L625.2 733.4 L625.8 734.8 L626.3 736.2 L626.8 737.6 L627.4 739.0 L627.9 740.4 L628.5 741.8 L629.0 743.2 L629.6 744.6 L630.1 745.9 L630.7 747.3 L631.2 748.7 L631.8 750.1 L632.3 751.5 L632.9 752.9 L633.4 754.3 L634.0 755.7 L634.4 756.6 L634.7 757.6 L635.1 758.5 L635.5 759.4 L635.9 760.3 L636.2 761.3 L636.6 762.2 L637.0 763.1 L637.4 764.1 L637.7 765.0 L638.1 765.9 L638.5 766.8 L638.9 767.8 L639.3 768.7 L639.6 769.6 L640.0 770.6 L640.4 771.5 L640.8 772.4 L641.2 773.4 L641.5 774.3 L641.9 775.2 L642.3 776.2 L642.7 777.1 L643.1 778.0 L643.5 779.0 L643.9 779.9 L644.2 780.8 L644.6 781.8 L645.0 782.7 L645.4 783.6 L645.8 784.6 L646.2 785.5 L646.6 786.4 L647.0 787.4 L647.4 788.3 L647.8 789.2 L648.3 790.1 L648.9 791.4 L649.6 792.8 L650.3 794.0 L651.1 795.3 L651.9 796.5 L652.8 797.6 L653.7 798.8 L654.7 799.8 L655.8 800.8 L656.9 801.7 L658.1 802.6 L659.0 803.1 L659.9 803.6 L660.8 804.0 L661.8 804.4 L662.8 804.8 L663.8 805.1 L664.8 805.4 L665.8 805.6 L666.8 805.7 L667.9 805.8 L668.9 805.8 L669.9 805.8 L671.0 805.7 L672.0 805.6 L673.0 805.5 L674.1 805.3 L675.1 805.1 L676.1 804.8 L677.1 804.6 L678.1 804.3 L679.1 804.0 L680.1 803.7 L681.1 803.5 L682.1 803.2 L683.1 802.9 L684.1 802.7 L685.6 802.4 L687.0 802.2 L688.5 802.1 L689.9 802.1 L691.3 802.3 L692.7 802.6 L694.1 803.0 L695.5 803.6 L696.4 804.0 L697.3 804.5 L698.2 805.0 L699.1 805.4 L700.0 805.9 L700.9 806.4 L701.9 806.8 L702.8 807.3 L703.7 807.7 L704.6 808.1 L705.5 808.5 L706.9 809.1 L708.3 809.6 L709.7 810.1 L711.1 810.6 L712.5 811.0 L713.9 811.4 L715.4 811.8 L716.8 812.2 L718.2 812.6 L719.6 812.9 L721.1 813.3 L722.5 813.6 L724.0 813.9 L725.4 814.2 L726.9 814.4 L728.3 814.7 L729.8 815.0 L730.8 815.1 L731.8 815.3 L732.8 815.5 L733.8 815.7 L734.8 815.8 L735.8 816.0 L736.8 816.1 L737.8 816.3 L738.8 816.4 L739.8 816.5 L740.8 816.7 L741.8 816.8 L742.8 816.9 L743.8 817.0 L744.8 817.1 L745.8 817.2 L746.8 817.3 L747.8 817.3 L748.8 817.4 L749.8 817.4 L750.8 817.5 L751.8 817.5 L752.8 817.5 L753.8 817.6 L755.3 817.6 L756.8 817.5 L758.3 817.5 L759.8 817.4 L761.3 817.3 L762.8 817.2 L764.3 817.2 L765.7 817.1 L767.2 817.0 L768.7 816.9 L770.2 816.9 L771.7 816.9 L773.2 816.9 L774.7 816.9 L776.1 817.0 L777.6 817.1 L779.1 817.2 L780.6 817.3 L781.6 817.4 L782.6 817.5 L783.6 817.7 L784.6 817.8 L785.6 817.9 L786.6 818.0 L787.6 818.1 L788.6 818.3 L789.6 818.4 L790.6 818.5 L791.6 818.6 L792.6 818.7 L793.6 818.8 L794.6 818.8 L795.6 818.9 L796.6 819.0 L797.6 819.1 L799.1 819.2 L800.6 819.3 L802.1 819.3 L803.5 819.4 L805.0 819.5 L806.5 819.6 L808.0 819.6 L809.5 819.7 L811.0 819.7 L812.5 819.8 L814.0 819.8 L815.5 819.8 L817.0 819.9 L818.5 819.9 L820.0 819.9 L821.5 819.9 L823.0 820.0 L824.5 820.0 L826.0 820.0 L827.5 820.0 L829.0 820.0 L830.5 820.1 L832.0 820.1 L833.5 820.1 L835.0 820.1 L836.5 820.1 L838.0 820.1 L839.5 820.1 L840.5 820.1 L841.5 820.1 L842.5 820.1 L843.5 820.1 L844.5 820.1 L845.5 820.1 L846.5 820.1 L847.5 820.1 L848.5 820.1 L849.5 820.1 L850.5 820.1 L851.5 820.1 L852.5 820.1 L853.5 820.1 L854.5 820.1 L855.5 820.1 L856.5 820.1 L857.5 820.1 L858.5 820.1 L859.5 820.1 L860.5 820.1 L861.5 820.1 L862.5 820.1 L863.5 820.1 L864.5 820.1 L865.5 820.1 L866.5 820.1 L867.5 820.1 L868.5 820.1 L869.5 820.1 L870.5 820.1 L871.5 820.1 L872.5 820.1 L873.5 820.1 L874.5 820.1 L875.5 820.1 L876.5 820.1 L877.5 820.1 L878.5 820.1 L879.5 820.1 L880.5 820.1 L881.5 820.1 L882.5 820.1 L883.5 820.1 L884.5 820.1 L885.5 820.1 L886.5 820.1 L887.5 820.1 L888.5 820.1 L889.5 820.1 L891.0 820.1 L892.5 820.1 L894.0 820.1 L895.5 820.1 L897.0 820.1 L898.5 820.1 L900.0 820.1 L901.5 820.2 L903.0 820.2 L904.5 820.2 L906.0 820.2 L906.8 820.2"/>
<path stroke="#ffff00" d="M153.2 820.2 L154.2 820.2 L155.2 820.2 L156.2 820.2 L157.2 820.2 L158.2 820.2 L159.2 820.2 L160.2 820.2 L161.2 820.2 L162.2 820.2 L163.2 820.2 L164.2 820.2 L165.2 820.2 L166.2 820.2 L167.2 820.2 L168.2 820.2 L169.2 820.2 L170.2 820.2 L171.2 820.2 L172.2 820.2 L173.2 820.2 L174.2 820.2 L175.2 820.2 L176.2 820.2 L177.2 820.2 L178.2 820.2 L179.2 820.2 L180.2 820.2 L181.2 820.2 L182.2 820.2 L183.2 820.2 L184.2 820.2 L185.2 820.2 L186.2 820.2 L187.2 820.2 L188.2 820.2 L189.2 820.2 L190.2 820.2 L191.2 820.2 L192.7 820.2 L194.2 820.2 L195.7 820.2 L197.2 820.2 L198.7 820.2 L200.2 820.2 L201.7 820.2 L203.2 820.2 L204.7 820.2 L206.2 820.2 L207.7 820.2 L209.2 820.2 L210.7 820.2 L212.2 820.2 L213.7 820.2 L215.2 820.2 L216.7 820.2 L218.2 820.2 L219.7 820.2 L221.2 820.2 L222.7 820.2 L224.2 820.2 L225.7 820.2 L227.2 820.2 L228.7 820.2 L230.2 820.2 L231.7 820.2 L233.2 820.2 L234.7 820.2 L236.2 820.2 L237.7 820.1 L239.2 820.1 L240.7 820.1 L242.2 820.1 L243.7 820.1 L245.2 820.1 L246.7 820.1 L248.2 820.1 L249.7 820.1 L251.2 820.1 L252.7 820.1 L254.2 820.1 L255.7 820.1 L257.2 820.1 L258.7 820.1 L260.2 820.1 L261.7 820.1 L263.2 820.1 L264.7 820.1 L266.2 820.1 L267.7 820.1 L269.2 820.1 L270.7 820.1 L272.2 820.1 L273.7 820.1 L275.2 820.1 L276.7 820.1 L278.2 820.1 L279.7 820.1 L281.2 820.1 L282.7 820.1 L284.2 820.1 L285.7 820.1 L287.2 820.1 L288.7 820.1 L290.2 820.1 L291.7 820.1 L293.2 820.1 L294.7 820.1 L296.2 820.1 L297.7 820.1 L299.2 820.1 L300.7 820.1 L302.2 820.1 L303.7 820.1 L304.7 820.1 L305.7 820.1 L306.7 820.1 L307.7 820.1 L308.7 820.1 L309.7 820.1 L310.7 820.1 L311.7 820.1 L312.7 820.1 L313.7 820.1 L314.7 820.1 L315.7 820.1 L316.7 820.1 L317.7 820.1 L318.7 820.1 L319.7 820.1 L320.7 820.1 L321.7 820.1 L322.7 820.1 L323.7 820.1 L324.7 820.1 L325.7 820.1 L326.7 820.1 L327.7 820.1 L328.7 820.1 L329.7 820.1 L330.7 820.1 L331.7 820.1 L332.7 820.1 L333.7 820.1 L334.7 820.1 L335.7 820.1 L336.7 820.1 L337.7 820.1 L338.7 820.1 L339.7 820.1 L340.7 820.1 L341.7 820.1 L342.7 820.1 L343.7 820.1 L344.7 820.1 L345.7 820.1 L346.7 820.1 L347.7 820.1 L348.7 820.1 L349.7 820.1 L350.7 820.1 L351.7 820.1 L352.7 820.1 L353.7 820.1 L354.7 820.1 L355.7 820.1 L356.7 820.1 L357.7 820.1 L358.7 820.1 L359.7 820.1 L360.7 820.1 L361.7 820.1 L362.7 820.1 L363.7 820.1 L364.7 820.1 L365.7 820.1 L366.7 820.1 L367.7 820.1 L368.7 820.1 L369.7 820.1 L370.7 820.1 L371.7 820.1 L372.7 820.1 L373.7 820.1 L374.7 820.1 L375.7 820.1 L376.7 820.1 L377.7 820.1 L378.7 820.1 L379.7 820.1 L380.7 820.1 L381.7 820.1 L382.7 820.1 L383.7 820.1 L384.7 820.1 L385.7 820.1 L386.7 820.1 L387.7 820.1 L388.7 820.1 L389.7 820.1 L390.7 820.1 L391.7 820.1 L392.7 820.1 L393.7 820.1 L395.2 820.1 L396.7 820.1 L398.2 820.1 L399.7 820.1 L401.2 820.1 L402.7 820.1 L404.2 820.1 L405.7 820.1 L407.2 820.1 L408.7 820.1 L410.2 820.1 L411.7 820.1 L413.2 820.1 L414.7 820.1 L416.2 820.1 L417.7 820.1 L419.2 820.0 L420.7 820.0 L422.2 820.0 L423.7 820.0 L425.2 820.0 L426.7 820.0 L428.2 820.0 L429.7 820.0 L431.2 820.0 L432.7 820.0 L434.2 820.0 L435.7 820.0 L437.2 820.0 L438.7 819.9 L440.2 819.9 L441.7 819.9 L443.2 819.9 L444.7 819.9 L446.2 819.9 L447.7 819.9 L449.2 819.9 L450.7 819.8 L452.1 819.8 L453.6 819.8 L455.1 819.8 L456.6 819.8 L457.6 819.8 L458.6 819.8 L459.6 819.8 L460.6 819.8 L461.6 819.7 L462.7 819.7 L463.7 819.7 L464.7 819.7 L465.7 819.7 L466.7 819.7 L467.7 819.7 L468.7 819.7 L469.7 819.7 L470.7 819.7 L471.7 819.7 L472.7 819.6 L473.7 819.6 L474.8 819.6 L475.8 819.6 L476.8 819.6 L477.8 819.6 L478.8 819.6 L479.8 819.5 L480.8 819.5 L481.8 819.4 L482.8 819.3 L483.8 819.2 L484.8 819.1 L486.3 818.9 L487.8 818.6 L489.2 818.3 L490.7 817.9 L492.1 817.4 L493.5 816.8 L494.8 816.2 L496.1 815.6 L497.4 814.8 L498.7 814.1 L499.9 813.2 L501.1 812.3 L502.3 811.4 L503.4 810.4 L504.4 809.3 L505.5 808.3 L506.4 807.1 L507.3 805.9 L508.2 804.7 L509.0 803.5 L509.8 802.2 L510.4 801.4 L510.9 800.5 L511.5 799.7 L512.0 798.8 L512.5 798.0 L513.1 797.2 L513.7 796.3 L514.2 795.5 L514.8 794.7 L515.4 793.9 L516.0 793.0 L516.6 792.2 L517.2 791.4 L517.9 790.6 L518.5 789.8 L519.1 789.0 L519.7 788.3 L520.4 787.5 L521.0 786.7 L521.6 785.9 L522.3 785.1 L522.9 784.3 L523.6 783.5 L524.2 782.8 L524.8 782.0 L525.5 781.2 L526.1 780.4 L526.7 779.6 L527.4 778.8 L528.0 778.0 L528.6 777.2 L529.2 776.5 L529.8 775.7 L530.7 774.5 L531.6 773.2 L532.4 772.0 L533.3 770.8 L534.1 769.5 L534.9 768.3 L535.6 767.0 L536.3 765.7 L537.0 764.4 L537.7 763.1 L538.3 761.8 L538.9 760.4 L539.5 759.1 L540.1 757.7 L540.6 756.3 L541.1 754.9 L541.6 753.5 L542.0 752.1 L542.5 750.6 L542.9 749.2 L543.3 747.8 L543.6 746.8 L543.8 745.8 L544.1 744.9 L544.3 743.9 L544.5 742.9 L544.7 741.9 L545.0 740.9 L545.2 740.0 L545.4 739.0 L545.6 738.0 L545.8 737.0 L545.9 736.0 L546.1 735.0 L546.3 734.0 L546.5 733.0 L546.7 732.1 L546.8 731.1 L547.0 730.1 L547.2 729.1 L547.3 728.1 L547.5 727.1 L547.6 726.1 L547.8 725.1 L547.9 724.1 L548.1 723.2 L548.2 722.2 L548.4 721.2 L548.5 720.2 L548.6 719.2 L548.8 717.7 L549.0 716.2 L549.2 714.7 L549.4 713.2 L549.5 711.7 L549.7 710.3 L549.8 708.8 L550.0 707.3 L550.1 705.8 L550.3 704.3 L550.4 702.8 L550.6 701.3 L550.7 699.8 L550.8 698.3 L550.9 696.8 L551.1 695.3 L551.2 693.9 L551.3 692.4 L551.4 690.9 L551.5 689.4 L551.6 687.9 L551.7 686.4 L551.8 684.9 L551.9 683.4 L552.0 681.9 L552.1 680.4 L552.2 678.9 L552.3 677.4 L552.4 675.9 L552.5 674.4 L552.6 672.9 L552.6 671.4 L552.7 669.9 L552.8 668.4 L552.9 666.9 L553.0 665.5 L553.1 664.0 L553.2 662.5 L553.3 661.0 L553.3 659.5 L553.4 658.0 L553.5 656.5 L553.6 655.0 L553.7 653.5 L553.8 652.0 L553.9 651.0 L553.9 650.0 L554.0 649.0 L554.1 648.0 L554.1 647.0 L554.2 646.0 L554.3 645.0 L554.4 644.0 L554.4 643.0 L554.5 642.0 L554.6 641.0 L554.6 640.0 L554.7 639.0 L554.8 638.0 L554.9 637.0 L554.9 636.0 L555.0 635.0 L555.1 634.0 L555.2 633.0 L555.2 632.0 L555.3 631.0 L555.4 630.0 L555.5 629.0 L555.6 628.0 L555.6 627.0 L555.7 626.0 L555.8 625.0 L555.9 624.0 L556.0 623.0 L556.0 622.0 L556.1 621.0 L556.2 620.0 L556.3 619.0 L556.4 618.1 L556.5 617.1 L556.5 616.1 L556.6 615.1 L556.7 614.1 L556.8 613.1 L556.9 612.1 L557.0 611.1 L557.1 610.1 L557.1 609.1 L557.2 608.1 L557.3 607.1 L557.4 606.1 L557.5 605.1 L557.6 604.1 L557.7 603.1 L557.8 602.1 L557.9 601.1 L557.9 600.1 L558.0 599.1 L558.1 598.1 L558.2 597.1 L558.3 596.1 L558.4 595.1 L558.5 594.1 L558.6 593.1 L558.7 592.1 L558.8 591.1 L558.9 590.1 L559.0 589.1 L559.1 588.1 L559.2 587.1 L559.2 586.1 L559.3 585.1 L559.4 584.1 L559.5 583.1 L559.6 582.2 L559.7 581.2 L559.8 580.2 L559.9 579.2 L560.0 578.2 L560.1 577.2 L560.2 576.2 L560.3 575.2 L560.4 574.2 L560.5 573.2 L560.6 572.2 L560.7 571.2 L560.8 570.2 L560.9 569.2 L561.0 568.2 L561.1 567.2 L561.2 566.2 L561.3 564.7 L561.5 563.2 L561.6 561.7 L561.8 560.2 L561.9 558.8 L562.1 557.3 L562.2 555.8 L562.3 554.3 L562.5 552.8 L562.6 551.3 L562.8 549.8 L562.9 548.3 L563.1 546.8 L563.2 545.3 L563.4 543.8 L563.5 542.4 L563.7 540.9 L563.8 539.4 L564.0 537.9 L564.1 536.4 L564.3 534.9 L564.4 533.4 L564.5 531.9 L564.7 530.5 L564.8 529.0 L565.0 527.5 L565.1 526.0 L565.3 524.5 L565.4 523.0 L565.5 521.5 L565.7 520.0 L565.8 518.6 L566.0 517.1 L566.1 515.6 L566.2 514.1 L566.4 512.6 L566.5 511.1 L566.7 509.7 L566.8 508.2 L566.9 506.7 L567.1 505.2 L567.2 503.7 L567.3 502.2 L567.5 500.8 L567.6 499.3 L567.8 497.8 L567.9 496.3 L568.0 495.3 L568.1 494.3 L568.2 493.3 L568.3 492.3 L568.4 491.3 L568.5 490.3 L568.6 489.3 L568.7 488.3 L568.8 487.2 L568.9 486.2 L569.0 485.2 L569.2 484.2 L569.3 483.2 L569.4 482.2 L569.5 481.1 L569.6 480.1 L569.8 479.1 L569.9 478.0 L570.1 477.0 L570.2 475.9 L570.4 474.9 L570.6 473.8 L570.8 472.7 L571.0 471.7 L571.2 470.6 L571.5 469.5 L571.7 468.4 L572.0 467.3 L572.3 466.2 L572.6 465.1 L573.0 464.1 L573.3 463.1 L573.9 461.7 L574.4 460.6 L575.0 459.7 L575.8 458.9 L576.9 458.7 L577.7 459.2 L578.4 460.0 L579.0 461.0 L579.7 462.3 L580.1 463.2 L580.5 464.2 L580.8 465.2 L581.2 466.3 L581.5 467.4 L581.9 468.5 L582.2 469.6 L582.5 470.7 L582.7 471.8 L583.0 472.9 L583.2 474.0 L583.5 475.1 L583.7 476.2 L583.9 477.3 L584.1 478.4 L584.3 479.4 L584.4 480.5 L584.6 481.5 L584.8 482.6 L585.0 483.6 L585.2 484.6 L585.4 485.6 L585.6 486.6 L585.7 487.6 L586.0 489.0 L586.3 490.5 L586.6 491.9 L586.9 493.4 L587.2 494.8 L587.4 496.3 L587.7 497.7 L588.0 499.1 L588.3 500.6 L588.5 502.0 L588.8 503.5 L589.1 504.9 L589.3 506.4 L589.6 507.9 L589.9 509.3 L590.1 510.8 L590.4 512.2 L590.6 513.7 L590.9 515.2 L591.1 516.6 L591.4 518.1 L591.7 519.6 L591.9 521.1 L592.2 522.5 L592.4 524.0 L592.7 525.5 L592.9 527.0 L593.2 528.4 L593.4 529.9 L593.6 531.4 L593.8 532.4 L594.0 533.4 L594.1 534.4 L594.3 535.3 L594.5 536.3 L594.6 537.3 L594.8 538.3 L594.9 539.3 L595.1 540.3 L595.3 541.3 L595.4 542.3 L595.6 543.3 L595.8 544.2 L595.9 545.2 L596.1 546.2 L596.2 547.2 L596.4 548.2 L596.6 549.2 L596.7 550.2 L596.9 551.2 L597.0 552.2 L597.2 553.2 L597.4 554.2 L597.5 555.1 L597.7 556.1 L597.9 557.1 L598.0 558.1 L598.2 559.1 L598.3 560.1 L598.5 561.1 L598.7 562.1 L598.8 563.1 L599.0 564.1 L599.2 565.1 L599.3 566.0 L599.5 567.0 L599.7 568.0 L599.8 569.0 L600.0 570.0 L600.2 571.0 L600.3 572.0 L600.5 573.0 L600.7 574.0 L600.8 574.9 L601.0 575.9 L601.2 576.9 L601.3 577.9 L601.5 578.9 L601.7 579.9 L601.8 580.9 L602.0 581.9 L602.2 582.8 L602.4 583.8 L602.5 584.8 L602.7 585.8 L602.9 586.8 L603.1 587.8 L603.2 588.8 L603.5 590.2 L603.7 591.7 L604.0 593.2 L604.3 594.7 L604.5 596.1 L604.8 597.6 L605.1 599.1 L605.3 600.6 L605.6 602.0 L605.9 603.5 L606.1 605.0 L606.4 606.5 L606.6 607.9 L606.9 609.4 L607.2 610.9 L607.4 612.4 L607.7 613.8 L608.0 615.3 L608.2 616.8 L608.5 618.2 L608.8 619.7 L609.0 621.2 L609.3 622.7 L609.5 624.1 L609.8 625.6 L610.1 627.1 L610.3 628.6 L610.6 630.0 L610.8 631.5 L611.1 633.0 L611.3 634.5 L611.6 635.9 L611.9 637.4 L612.1 638.9 L612.4 640.4 L612.6 641.8 L612.9 643.3 L613.1 644.8 L613.3 646.3 L613.6 647.8 L613.8 649.2 L614.1 650.7 L614.2 651.7 L614.4 652.7 L614.6 653.7 L614.7 654.7 L614.9 655.7 L615.0 656.6 L615.2 657.6 L615.3 658.6 L615.5 659.6 L615.6 660.6 L615.8 661.6 L616.0 662.6 L616.1 663.6 L616.3 664.6 L616.4 665.6 L616.6 666.5 L616.7 667.5 L616.8 668.5 L617.0 669.5 L617.1 670.5 L617.3 671.5 L617.4 672.5 L617.6 673.5 L617.7 674.5 L617.9 675.5 L618.0 676.5 L618.2 677.5 L618.3 678.5 L618.5 679.4 L618.6 680.4 L618.8 681.4 L618.9 682.4 L619.1 683.4 L619.2 684.4 L619.4 685.4 L619.5 686.4 L619.8 687.9 L620.0 689.3 L620.3 690.8 L620.5 692.3 L620.8 693.8 L621.0 695.2 L621.3 696.7 L621.6 698.2 L621.9 699.6 L622.1 701.1 L622.4 702.5 L622.7 704.0 L623.0 705.4 L623.4 706.9 L623.7 708.4 L624.0 709.8 L624.3 711.3 L624.5 712.3 L624.6 713.3 L624.8 714.3 L625.0 715.3 L625.2 716.3 L625.3 717.3 L625.5 718.3 L625.6 719.3 L625.8 720.4 L626.0 721.4 L626.2 722.4 L626.4 723.4 L626.6 724.4 L626.8 725.4 L627.1 726.4 L627.3 727.4 L627.7 728.3 L628.0 729.3 L628.6 730.6 L629.2 732.0 L629.9 733.2 L630.7 734.4 L631.6 735.6 L632.6 736.7 L633.6 737.6 L634.8 738.5 L636.0 739.3 L637.3 740.0 L638.2 740.5 L639.1 740.9 L640.1 741.3 L641.0 741.6 L642.0 742.0 L642.9 742.4 L643.9 742.7 L644.9 743.1 L645.8 743.5 L646.7 743.9 L648.1 744.5 L649.3 745.3 L650.5 746.1 L651.6 747.0 L652.6 748.0 L653.5 749.1 L654.4 750.3 L655.2 751.5 L655.9 752.8 L656.3 753.7 L656.8 754.7 L657.2 755.6 L657.6 756.5 L658.0 757.5 L658.3 758.5 L658.7 759.4 L659.0 760.4 L659.3 761.4 L659.7 762.4 L660.0 763.4 L660.3 764.4 L660.6 765.3 L660.9 766.3 L661.2 767.3 L661.5 768.2 L661.8 769.2 L662.1 770.2 L662.6 771.6 L663.0 773.0 L663.5 774.4 L663.9 775.8 L664.4 777.2 L664.8 778.6 L665.3 780.0 L665.7 781.4 L666.2 782.8 L666.6 784.3 L667.1 785.7 L667.6 787.1 L668.0 788.5 L668.5 789.9 L669.0 791.3 L669.4 792.7 L669.8 793.7 L670.1 794.6 L670.4 795.6 L670.7 796.5 L671.1 797.5 L671.4 798.5 L671.8 799.5 L672.1 800.4 L672.5 801.4 L672.8 802.4 L673.2 803.3 L673.6 804.3 L674.0 805.2 L674.4 806.1 L674.9 807.0 L675.4 807.9 L675.9 808.8 L676.7 810.1 L677.5 811.3 L678.4 812.4 L679.4 813.5 L680.5 814.4 L681.7 815.3 L682.9 816.2 L684.1 816.9 L685.4 817.6 L686.8 818.1 L688.1 818.6 L689.5 819.1 L690.9 819.4 L692.4 819.7 L693.8 820.0 L695.3 820.2 L696.8 820.2 L697.8 820.2 L698.8 820.2 L699.8 820.2 L700.8 820.2 L701.8 820.2 L702.9 820.2 L703.9 820.2 L704.9 820.2 L705.9 820.2 L707.0 820.2 L708.0 820.2 L709.0 820.2 L710.1 820.2 L711.1 820.1 L712.1 820.1 L713.2 820.0 L714.2 820.0 L715.2 819.9 L716.2 819.9 L717.3 819.9 L718.3 819.9 L719.3 819.9 L720.3 819.8 L721.3 819.8 L722.3 819.8 L723.8 819.8 L725.3 819.8 L726.8 819.8 L728.3 819.9 L729.8 819.9 L731.2 819.9 L732.7 819.9 L734.2 819.9 L735.7 819.9 L737.2 819.9 L738.7 819.9 L740.2 820.0 L741.7 820.0 L743.2 820.0 L744.7 820.0 L746.2 820.0 L747.7 820.0 L749.2 820.0 L750.7 820.0 L752.1 820.0 L753.6 820.0 L755.1 820.0 L756.6 820.0 L758.1 820.1 L759.6 820.1 L761.1 820.1 L762.6 820.1 L764.1 820.1 L765.6 820.1 L767.1 820.1 L768.6 820.1 L770.1 820.1 L771.6 820.1 L773.1 820.1 L774.6 820.1 L776.1 820.1 L777.6 820.1 L779.1 820.1 L780.6 820.1 L782.1 820.1 L783.6 820.1 L785.1 820.1 L786.6 820.1 L788.1 820.1 L789.6 820.1 L791.1 820.1 L792.1 820.1 L793.1 820.1 L794.1 820.1 L795.1 820.1 L796.1 820.1 L797.1 820.1 L798.1 820.1 L799.1 820.1 L800.1 820.1 L801.1 820.1 L802.1 820.1 L803.1 820.1 L804.1 820.1 L805.1 820.1 L806.1 820.1 L807.1 820.1 L808.1 820.1 L809.1 820.1 L810.1 820.1 L811.1 820.1 L812.1 820.1 L813.1 820.1 L814.1 820.1 L815.1 820.1 L816.1 820.1 L817.1 820.1 L818.1 820.1 L819.1 820.1 L820.1 820.1 L821.1 820.1 L822.1 820.1 L823.1 820.1 L824.1 820.1 L825.1 820.1 L826.1 820.1 L827.1 820.1 L828.1 820.1 L829.1 820.1 L830.1 820.1 L831.1 820.1 L832.1 820.1 L833.1 820.1 L834.1 820.1 L835.1 820.1 L836.1 820.1 L837.1 820.1 L838.1 820.1 L839.1 820.1 L840.1 820.1 L841.1 820.1 L842.1 820.1 L843.1 820.1 L844.1 820.1 L845.1 820.1 L846.1 820.1 L847.1 820.1 L848.1 820.1 L849.1 820.1 L850.1 820.1 L851.2 820.1 L852.2 820.1 L853.2 820.1 L854.2 820.1 L855.2 820.1 L856.2 820.1 L857.2 820.1 L858.2 820.1 L859.2 820.1 L860.2 820.1 L861.2 820.1 L862.2 820.1 L863.2 820.1 L864.2 820.1 L865.2 820.1 L866.2 820.1 L867.2 820.1 L868.2 820.1 L869.2 820.1 L870.2 820.1 L871.2 820.1 L872.2 820.1 L873.2 820.1 L874.2 820.1 L875.2 820.1 L876.2 820.1 L877.7 820.1 L879.2 820.1 L880.7 820.1 L882.2 820.1 L883.7 820.1 L885.2 820.1 L886.7 820.1 L888.2 820.1 L889.7 820.1 L891.2 820.2 L892.7 820.2 L894.2 820.2 L895.7 820.2 L897.2 820.2 L898.6 820.2 L900.1 820.2 L901.6 820.2 L903.1 820.2 L904.6 820.2 L906.1 820.2 L906.8 820.2"/>
<path stroke="#bebebe" d="M153.2 820.2 L154.2 820.2 L155.2 820.2 L156.2 820.2 L157.2 820.2 L158.2 820.2 L159.2 820.2 L160.2 820.2 L161.2 820.2 L162.2 820.2 L163.2 820.2 L164.2 820.2 L165.2 820.2 L166.2 820.2 L167.2 820.2 L168.2 820.2 L169.2 820.2 L170.2 820.2 L171.2 820.2 L172.2 820.2 L173.2 820.2 L174.2 820.2 L175.2 820.2 L176.2 820.2 L177.2 820.2 L178.2 820.2 L179.2 820.2 L180.2 820.2 L181.2 820.2 L182.2 820.2 L183.2 820.2 L184.2 820.2 L185.2 820.2 L186.2 820.2 L187.2 820.2 L188.2 820.2 L189.2 820.2 L190.2 820.2 L191.7 820.2 L193.2 820.2 L194.7 820.2 L196.2 820.2 L197.7 820.2 L199.2 820.2 L200.7 820.2 L202.2 820.2 L203.7 820.1 L205.2 820.1 L206.7 820.1 L208.2 820.1 L209.7 820.1 L211.2 820.1 L212.7 820.1 L214.2 820.1 L215.7 820.1 L217.2 820.1 L218.7 820.1 L220.2 820.1 L221.7 820.1 L223.2 820.1 L224.7 820.1 L226.2 820.1 L227.7 820.1 L229.2 820.1 L230.7 820.1 L232.2 820.1 L233.7 820.1 L235.2 820.1 L236.7 820.1 L238.2 820.1 L239.7 820.1 L241.2 820.1 L242.7 820.1 L244.2 820.1 L245.7 820.1 L247.2 820.1 L248.7 820.1 L250.2 820.1 L251.7 820.1 L253.2 820.1 L254.7 820.1 L256.2 820.1 L257.7 820.1 L259.2 820.1 L260.7 820.1 L262.2 820.1 L263.7 820.1 L265.2 820.1 L266.7 820.1 L268.2 820.1 L269.7 820.1 L271.2 820.1 L272.7 820.1 L274.2 820.1 L275.7 820.1 L277.2 820.1 L278.7 820.1 L280.2 820.1 L281.7 820.1 L283.2 820.1 L284.7 820.1 L286.2 820.1 L287.7 820.1 L289.2 820.1 L290.7 820.1 L292.2 820.1 L293.7 820.1 L295.2 820.1 L296.7 820.1 L298.2 820.1 L299.2 820.1 L300.2 820.1 L301.2 820.1 L302.2 820.1 L303.2 820.1 L304.2 820.1 L305.2 820.1 L306.2 820.1 L307.2 820.1 L308.2 820.1 L309.2 820.1 L310.2 820.1 L311.2 820.1 L312.2 820.1 L313.2 820.1 L314.2 820.1 L315.2 820.1 L316.2 820.1 L317.2 820.1 L318.2 820.1 L319.2 820.1 L320.2 820.1 L321.2 820.1 L322.2 820.1 L323.2 820.1 L324.2 820.1 L325.2 820.1 L326.2 820.1 L327.2 820.1 L328.2 820.1 L329.2 820.1 L330.2 820.1 L331.2 820.1 L332.2 820.1 L333.2 820.1 L334.2 820.1 L335.2 820.1 L336.2 820.1 L337.2 820.1 L338.2 820.1 L339.2 820.1 L340.2 820.1 L341.2 820.1 L342.2 820.1 L343.2 820.1 L344.2 820.1 L345.2 820.1 L346.2 820.1 L347.2 820.1 L348.2 820.1 L349.2 820.1 L350.2 820.1 L351.2 820.1 L352.2 820.1 L353.2 820.1 L354.2 820.1 L355.2 820.0 L356.2 820.0 L357.2 820.0 L358.2 820.0 L359.2 820.0 L360.2 820.0 L361.2 820.0 L362.2 820.0 L363.2 820.0 L364.2 820.0 L365.2 820.0 L366.2 820.0 L367.2 820.0 L368.2 820.0 L369.2 820.0 L370.2 820.0 L371.2 820.0 L372.2 820.0 L373.2 820.0 L374.2 820.0 L375.2 820.0 L376.2 820.0 L377.2 820.0 L378.2 820.0 L379.2 820.0 L380.2 820.0 L381.2 820.0 L382.2 820.0 L383.2 820.0 L384.2 820.0 L385.2 820.0 L386.2 820.0 L387.2 820.0 L388.2 820.0 L389.7 820.0 L391.2 820.0 L392.7 820.0 L394.2 820.0 L395.7 820.0 L397.2 820.0 L398.7 820.0 L400.2 820.0 L401.7 820.0 L403.2 820.0 L404.7 820.0 L406.2 820.0 L407.7 820.0 L409.2 820.0 L410.7 820.0 L412.2 820.0 L413.7 820.0 L415.2 820.0 L416.7 820.0 L418.2 820.0 L419.7 820.0 L421.2 820.1 L422.7 820.1 L424.2 820.1 L425.7 820.1 L427.2 820.1 L428.7 820.1 L430.2 820.1 L431.7 820.1 L433.2 820.1 L434.7 820.1 L436.2 820.1 L437.7 820.1 L439.2 820.1 L440.7 820.1 L442.2 820.1 L443.7 820.1 L445.2 820.1 L446.7 820.1 L448.2 820.1 L449.7 820.1 L451.2 820.1 L452.7 820.1 L454.2 820.1 L455.7 820.1 L457.2 820.1 L458.7 820.1 L459.7 820.1 L460.7 820.1 L461.7 820.1 L462.7 820.1 L463.7 820.1 L464.7 820.1 L465.7 820.1 L466.7 820.0 L467.7 820.0 L468.7 820.0 L469.7 820.0 L470.7 820.0 L471.7 820.0 L472.7 820.0 L473.7 819.9 L474.7 819.9 L475.7 819.9 L476.7 819.9 L477.7 819.9 L478.7 819.8 L479.7 819.8 L480.7 819.8 L481.7 819.8 L482.7 819.7 L483.7 819.7 L484.7 819.7 L485.7 819.6 L486.7 819.6 L487.7 819.6 L488.7 819.5 L489.7 819.5 L490.7 819.4 L491.8 819.4 L492.8 819.4 L493.8 819.3 L494.8 819.3 L495.8 819.2 L496.8 819.2 L497.8 819.1 L498.8 819.1 L499.8 819.0 L500.8 819.0 L501.8 818.9 L502.8 818.8 L504.3 818.7 L505.8 818.4 L507.2 818.1 L508.6 817.6 L509.9 817.0 L511.1 816.2 L512.3 815.3 L513.0 814.5 L513.7 813.8 L514.3 813.0 L514.9 812.1 L515.4 811.2 L515.8 810.3 L516.2 809.4 L516.6 808.4 L516.9 807.4 L517.1 806.5 L517.4 805.5 L517.6 804.5 L517.8 803.5 L518.0 802.5 L518.2 801.5 L518.5 800.6 L518.7 799.6 L519.0 798.6 L519.2 797.6 L519.5 796.7 L519.7 795.7 L520.0 794.7 L520.3 793.7 L520.5 792.8 L520.8 791.8 L521.1 790.8 L521.3 789.9 L521.6 788.9 L522.0 787.5 L522.3 786.0 L522.6 784.5 L522.9 783.1 L523.2 781.6 L523.5 780.1 L523.7 778.7 L523.9 777.2 L524.1 775.7 L524.2 774.2 L524.4 772.7 L524.6 771.2 L524.7 769.7 L524.9 768.2 L525.1 766.8 L525.3 765.3 L525.5 763.8 L525.6 762.3 L525.8 760.8 L526.0 759.3 L526.2 757.8 L526.4 756.8 L526.5 755.9 L526.7 754.9 L526.8 753.9 L526.9 752.9 L527.1 751.9 L527.2 750.9 L527.4 749.9 L527.5 748.9 L527.7 747.9 L527.8 746.9 L528.0 746.0 L528.1 745.0 L528.3 744.0 L528.4 743.0 L528.6 742.0 L528.8 741.0 L528.9 740.0 L529.1 739.0 L529.2 738.0 L529.4 737.1 L529.6 736.1 L529.7 735.1 L529.9 734.1 L530.0 733.1 L530.2 732.1 L530.4 731.1 L530.5 730.1 L530.7 729.2 L530.9 728.2 L531.0 727.2 L531.2 726.2 L531.3 725.2 L531.5 724.2 L531.7 723.2 L531.8 722.2 L532.0 721.2 L532.2 720.3 L532.3 719.3 L532.5 718.3 L532.6 717.3 L532.8 716.3 L533.0 715.3 L533.1 714.3 L533.3 713.3 L533.4 712.4 L533.6 711.4 L533.7 710.4 L533.9 709.4 L534.0 708.4 L534.2 707.4 L534.4 706.4 L534.5 705.4 L534.7 704.4 L534.8 703.5 L534.9 702.5 L535.1 701.5 L535.2 700.5 L535.4 699.5 L535.5 698.5 L535.7 697.0 L535.9 695.5 L536.1 694.0 L536.3 692.6 L536.5 691.1 L536.7 689.6 L536.9 688.1 L537.1 686.6 L537.3 685.1 L537.4 683.6 L537.6 682.1 L537.8 680.7 L537.9 679.2 L538.1 677.7 L538.3 676.2 L538.4 674.7 L538.6 673.2 L538.7 671.7 L538.9 670.2 L539.0 668.7 L539.2 667.2 L539.3 665.8 L539.5 664.3 L539.6 662.8 L539.8 661.3 L539.9 659.8 L540.1 658.3 L540.2 656.8 L540.3 655.3 L540.5 653.8 L540.6 652.3 L540.7 650.8 L540.9 649.3 L541.0 647.8 L541.1 646.4 L541.3 644.9 L541.4 643.4 L541.5 641.9 L541.7 640.4 L541.8 638.9 L542.0 637.4 L542.1 635.9 L542.2 634.4 L542.4 632.9 L542.5 631.4 L542.6 629.9 L542.8 628.4 L542.9 627.0 L543.1 625.5 L543.2 624.0 L543.4 622.5 L543.5 621.0 L543.7 619.5 L543.8 618.0 L544.0 616.5 L544.1 615.0 L544.3 613.5 L544.5 612.0 L544.6 610.5 L544.7 609.6 L544.9 608.6 L545.0 607.6 L545.1 606.6 L545.2 605.6 L545.3 604.6 L545.4 603.6 L545.6 602.6 L545.7 601.6 L545.8 600.6 L545.9 599.6 L546.1 598.6 L546.2 597.6 L546.3 596.6 L546.5 595.7 L546.6 594.7 L546.7 593.7 L546.9 592.7 L547.0 591.7 L547.2 590.7 L547.3 589.7 L547.5 588.7 L547.6 587.7 L547.8 586.7 L547.9 585.7 L548.1 584.7 L548.2 583.8 L548.4 582.8 L548.5 581.8 L548.7 580.8 L548.9 579.8 L549.0 578.8 L549.2 577.8 L549.4 576.8 L549.6 575.8 L549.7 574.9 L549.9 573.9 L550.1 572.9 L550.3 571.9 L550.5 570.9 L550.7 569.9 L550.9 568.9 L551.1 567.9 L551.3 566.9 L551.5 566.0 L551.7 565.0 L551.9 564.0 L552.1 563.0 L552.3 562.0 L552.5 561.0 L552.7 560.0 L553.0 559.1 L553.2 558.1 L553.4 557.1 L553.7 556.1 L553.9 555.1 L554.1 554.1 L554.4 553.2 L554.6 552.2 L554.9 551.2 L555.1 550.2 L555.4 549.2 L555.6 548.2 L555.9 547.3 L556.2 546.3 L556.6 545.0 L557.1 543.8 L557.8 543.0 L558.8 542.7 L559.8 543.0 L560.9 543.7 L561.7 544.4 L562.5 545.2 L563.3 546.1 L564.0 547.1 L564.7 548.1 L565.4 549.1 L565.9 550.1 L566.5 551.1 L567.0 552.1 L567.4 553.1 L567.8 554.1 L568.2 555.0 L568.6 556.0 L568.9 556.9 L569.5 558.3 L570.1 559.6 L570.7 560.9 L571.3 562.2 L572.0 563.5 L572.8 564.8 L573.3 565.7 L573.8 566.6 L574.3 567.5 L574.8 568.4 L575.3 569.4 L575.9 570.4 L576.4 571.4 L576.9 572.4 L577.5 573.3 L578.4 574.4 L579.3 575.3 L580.4 575.8 L581.5 576.0 L582.7 575.7 L583.9 575.1 L585.2 574.3 L586.1 573.6 L586.9 572.8 L587.7 572.0 L588.6 571.1 L589.4 570.2 L590.1 569.2 L590.9 568.3 L591.6 567.4 L592.3 566.5 L593.0 565.7 L594.0 564.8 L595.0 564.3 L596.1 564.1 L597.1 564.5 L598.2 565.2 L599.2 566.2 L599.8 567.0 L600.4 567.9 L601.0 568.8 L601.6 569.8 L602.1 570.8 L602.5 571.8 L602.9 572.7 L603.3 573.7 L603.7 574.7 L604.0 575.7 L604.3 576.7 L604.5 577.6 L604.8 578.6 L605.0 579.6 L605.3 580.6 L605.5 581.6 L605.7 582.5 L606.0 583.5 L606.2 584.5 L606.4 585.5 L606.7 586.4 L606.9 587.4 L607.1 588.4 L607.4 589.4 L607.6 590.3 L607.9 591.3 L608.1 592.3 L608.3 593.3 L608.6 594.2 L608.8 595.2 L609.1 596.2 L609.4 597.6 L609.8 599.1 L610.2 600.5 L610.5 602.0 L610.9 603.4 L611.2 604.9 L611.6 606.4 L611.9 607.8 L612.2 609.3 L612.6 610.7 L612.9 612.2 L613.2 613.7 L613.5 615.1 L613.8 616.6 L614.1 618.0 L614.4 619.5 L614.7 621.0 L615.0 622.5 L615.3 623.9 L615.5 625.4 L615.8 626.9 L616.1 628.3 L616.3 629.8 L616.6 631.3 L616.8 632.8 L617.0 634.3 L617.3 635.7 L617.5 637.2 L617.8 638.7 L618.0 640.2 L618.2 641.7 L618.4 643.1 L618.6 644.1 L618.7 645.1 L618.9 646.1 L619.0 647.1 L619.2 648.1 L619.3 649.1 L619.5 650.1 L619.6 651.1 L619.7 652.1 L619.9 653.0 L620.0 654.0 L620.2 655.0 L620.3 656.0 L620.5 657.0 L620.6 658.0 L620.8 659.0 L620.9 660.0 L621.1 661.0 L621.2 662.0 L621.3 662.9 L621.5 663.9 L621.7 664.9 L621.8 665.9 L622.0 666.9 L622.1 667.9 L622.3 668.9 L622.4 669.9 L622.6 670.9 L622.7 671.8 L622.9 672.8 L623.1 673.8 L623.2 674.8 L623.4 675.8 L623.6 676.8 L623.7 677.8 L623.9 678.7 L624.1 679.7 L624.3 680.7 L624.5 681.7 L624.6 682.7 L624.8 683.7 L625.0 684.6 L625.2 685.6 L625.4 686.6 L625.6 687.6 L625.8 688.6 L626.0 689.6 L626.2 690.5 L626.4 691.5 L626.6 692.5 L626.8 693.5 L627.0 694.4 L627.2 695.4 L627.4 696.4 L627.7 697.4 L627.9 698.4 L628.1 699.3 L628.3 700.3 L628.5 701.3 L628.8 702.3 L629.0 703.2 L629.2 704.2 L629.5 705.2 L629.7 706.1 L629.9 707.1 L630.2 708.1 L630.4 709.1 L630.6 710.0 L630.9 711.0 L631.1 712.0 L631.4 712.9 L631.6 713.9 L631.9 714.9 L632.1 715.9 L632.4 716.8 L632.6 717.8 L632.9 718.8 L633.1 719.7 L633.4 720.7 L633.6 721.7 L633.9 722.6 L634.2 723.6 L634.5 725.0 L634.9 726.5 L635.3 727.9 L635.7 729.4 L636.1 730.8 L636.5 732.3 L637.0 733.7 L637.4 735.2 L637.8 736.6 L638.2 738.0 L638.6 739.5 L639.0 740.9 L639.4 742.3 L639.9 743.8 L640.3 745.2 L640.7 746.7 L641.1 748.1 L641.5 749.5 L642.0 751.0 L642.4 752.4 L642.8 753.8 L643.3 755.3 L643.7 756.7 L644.1 758.1 L644.6 759.6 L645.0 761.0 L645.4 762.4 L645.9 763.9 L646.3 765.3 L646.7 766.7 L647.0 767.7 L647.3 768.6 L647.6 769.6 L647.9 770.5 L648.2 771.5 L648.5 772.5 L648.8 773.4 L649.1 774.4 L649.4 775.3 L649.7 776.3 L650.0 777.3 L650.3 778.2 L650.6 779.2 L650.9 780.2 L651.2 781.1 L651.5 782.1 L651.8 783.0 L652.1 784.0 L652.4 784.9 L652.7 785.9 L653.0 786.9 L653.4 787.8 L653.7 788.8 L654.1 789.7 L654.4 790.6 L654.8 791.6 L655.3 793.0 L655.9 794.3 L656.5 795.7 L657.2 797.0 L657.8 798.4 L658.5 799.7 L659.3 801.0 L660.1 802.3 L660.9 803.5 L661.7 804.7 L662.6 805.9 L663.2 806.7 L663.9 807.5 L664.5 808.3 L665.2 809.0 L665.9 809.7 L666.6 810.4 L667.3 811.1 L668.1 811.8 L668.8 812.5 L670.0 813.4 L671.2 814.3 L672.4 815.1 L673.7 815.8 L675.0 816.5 L676.4 817.1 L677.8 817.6 L679.2 818.1 L680.6 818.5 L682.1 818.8 L683.5 819.0 L684.5 819.1 L685.5 819.2 L686.6 819.3 L687.6 819.3 L688.6 819.4 L689.6 819.4 L690.6 819.5 L691.6 819.5 L692.6 819.5 L693.7 819.6 L694.7 819.6 L695.7 819.6 L696.7 819.7 L697.7 819.7 L698.7 819.7 L699.7 819.8 L700.7 819.8 L701.7 819.8 L702.7 819.8 L703.7 819.8 L704.7 819.9 L705.7 819.9 L706.7 819.9 L707.7 819.9 L708.7 819.9 L709.8 819.9 L710.8 819.9 L711.8 820.0 L712.8 820.0 L714.3 820.0 L715.8 820.0 L717.2 820.0 L718.7 820.0 L720.2 820.0 L721.7 820.0 L723.2 820.0 L724.7 820.0 L726.2 820.0 L727.7 820.0 L729.2 820.0 L730.7 820.0 L732.2 820.0 L733.7 820.0 L735.2 820.0 L736.7 820.0 L738.2 820.0 L739.7 820.0 L741.2 820.0 L742.7 820.0 L744.2 820.1 L745.7 820.1 L747.2 820.1 L748.7 820.1 L750.2 820.1 L751.7 820.1 L753.2 820.1 L754.7 820.1 L756.2 820.1 L757.7 820.1 L759.2 820.1 L760.7 820.1 L762.2 820.1 L763.7 820.1 L765.2 820.1 L766.7 820.1 L768.2 820.1 L769.7 820.1 L771.2 820.1 L772.7 820.1 L774.2 820.1 L775.7 820.1 L777.2 820.1 L778.7 820.1 L780.2 820.1 L781.7 820.1 L783.2 820.1 L784.7 820.1 L785.7 820.1 L786.7 820.1 L787.7 820.1 L788.7 820.1 L789.7 820.1 L790.7 820.1 L791.7 820.1 L792.7 820.1 L793.7 820.1 L794.7 820.1 L795.7 820.1 L796.7 820.1 L797.7 820.1 L798.7 820.1 L799.7 820.1 L800.7 820.1 L801.7 820.1 L802.7 820.1 L803.7 820.1 L804.7 820.1 L805.7 820.1 L806.7 820.1 L807.7 820.1 L808.7 820.1 L809.7 820.1 L810.7 820.1 L811.7 820.1 L812.7 820.1 L813.7 820.1 L814.7 820.1 L815.7 820.1 L816.7 820.1 L817.7 820.1 L818.7 820.1 L819.7 820.1 L820.7 820.1 L821.7 820.1 L822.7 820.1 L823.7 820.1 L824.7 820.1 L825.7 820.1 L826.7 820.1 L827.7 820.1 L828.7 820.1 L829.7 820.1 L830.7 820.1 L831.7 820.1 L832.7 820.1 L833.7 820.1 L834.7 820.1 L835.7 820.1 L836.7 820.1 L837.7 820.1 L838.7 820.1 L839.7 820.1 L840.7 820.1 L841.7 820.1 L842.7 820.1 L843.7 820.1 L844.7 820.1 L845.7 820.1 L846.7 820.1 L847.7 820.1 L848.7 820.1 L849.7 820.1 L850.7 820.1 L851.7 820.1 L852.7 820.1 L853.7 820.1 L854.7 820.1 L855.7 820.1 L856.7 820.1 L857.7 820.1 L858.7 820.1 L859.7 820.1 L860.7 820.1 L861.7 820.2 L862.7 820.2 L863.7 820.2 L864.7 820.2 L865.7 820.2 L866.7 820.2 L867.7 820.2 L868.7 820.2 L869.7 820.2 L870.7 820.2 L871.7 820.2 L872.7 820.2 L873.7 820.2 L874.7 820.2 L876.2 820.2 L877.7 820.2 L879.2 820.2 L880.7 820.2 L882.2 820.2 L883.7 820.2 L885.2 820.2 L886.7 820.2 L888.2 820.2 L889.7 820.2 L891.2 820.2 L892.7 820.2 L894.2 820.2 L895.7 820.2 L897.2 820.2 L898.7 820.2 L900.2 820.2 L901.7 820.2 L903.2 820.2 L904.7 820.2 L906.2 820.2 L906.8 820.2"/>
<path stroke="#ff0000" stroke-dasharray="6.25 6.25" d="M153.2 820.2 L154.2 820.2 L155.2 820.2 L156.2 820.2 L157.2 820.2 L158.2 820.2 L159.2 820.2 L160.2 820.2 L161.2 820.2 L162.2 820.2 L163.2 820.2 L164.2 820.2 L165.2 820.2 L166.2 820.2 L167.2 820.2 L168.2 820.2 L169.2 820.2 L170.2 820.2 L171.2 820.2 L172.2 820.2 L173.2 820.2 L174.2 820.2 L175.2 820.2 L176.2 820.2 L177.2 820.2 L178.2 820.2 L179.2 820.2 L180.2 820.2 L181.2 820.2 L182.2 820.2 L183.2 820.2 L184.2 820.2 L185.2 820.2 L186.2 820.2 L187.2 820.2 L188.2 820.2 L189.2 820.2 L190.2 820.2 L191.2 820.2 L192.2 820.2 L193.2 820.2 L194.2 820.2 L195.2 820.2 L196.2 820.2 L197.2 820.2 L198.2 820.2 L199.2 820.2 L200.2 820.2 L201.2 820.2 L202.7 820.2 L204.2 820.2 L205.7 820.2 L207.2 820.2 L208.7 820.2 L210.2 820.2 L211.7 820.2 L213.2 820.2 L214.7 820.2 L216.2 820.2 L217.7 820.2 L219.2 820.2 L220.7 820.2 L222.2 820.2 L223.7 820.2 L225.2 820.2 L226.7 820.2 L228.2 820.2 L229.7 820.2 L231.2 820.2 L232.7 820.2 L234.2 820.2 L235.7 820.2 L237.2 820.2 L238.7 820.2 L240.2 820.2 L241.7 820.2 L243.2 820.2 L244.7 820.2 L246.2 820.2 L247.7 820.2 L249.2 820.2 L250.7 820.2 L252.2 820.2 L253.7 820.2 L255.2 820.2 L256.7 820.2 L258.2 820.2 L259.7 820.2 L261.2 820.2 L262.7 820.2 L264.2 820.2 L265.7 820.2 L267.2 820.2 L268.7 820.2 L270.2 820.2 L271.7 820.2 L273.2 820.2 L274.7 820.2 L276.2 820.2 L277.7 820.2 L279.2 820.2 L280.7 820.2 L282.2 820.2 L283.7 820.2 L285.2 820.2 L286.7 820.2 L288.2 820.2 L289.7 820.2 L291.2 820.2 L292.7 820.2 L294.2 820.2 L295.7 820.2 L297.2 820.2 L298.7 820.2 L300.2 820.2 L301.7 820.2 L303.2 820.2 L304.7 820.2 L306.2 820.2 L307.7 820.2 L309.2 820.2 L310.7 820.2 L312.2 820.2 L313.7 820.2 L315.2 820.2 L316.7 820.2 L318.2 820.2 L319.7 820.2 L321.2 820.2 L322.7 820.2 L324.2 820.2 L325.7 820.2 L327.2 820.2 L328.7 820.2 L330.2 820.2 L331.7 820.2 L333.2 820.2 L334.7 820.2 L336.2 820.2 L337.7 820.2 L338.7 820.2 L339.7 820.2 L340.7 820.2 L341.7 820.2 L342.7 820.2 L343.7 820.2 L344.7 820.2 L345.7 820.2 L346.7 820.2 L347.7 820.2 L348.7 820.2 L349.7 820.2 L350.7 820.2 L351.7 820.2 L352.7 820.2 L353.7 820.2 L354.7 820.2 L355.7 820.2 L356.7 820.2 L357.7 820.2 L358.7 820.2 L359.7 820.2 L360.7 820.2 L361.7 820.2 L362.7 820.2 L363.7 820.2 L364.7 820.2 L365.7 820.2 L366.7 820.2 L367.7 820.2 L368.7 820.2 L369.7 820.2 L370.7 820.2 L371.7 820.2 L372.7 820.2 L373.7 820.2 L374.7 820.2 L375.7 820.2 L376.7 820.2 L377.7 820.2 L378.7 820.2 L379.7 820.2 L380.7 820.2 L381.7 820.2 L382.7 820.2 L383.7 820.2 L384.7 820.2 L385.7 820.2 L386.7 820.2 L387.7 820.2 L388.7 820.2 L389.7 820.2 L390.7 820.2 L391.7 820.2 L392.7 820.2 L393.7 820.2 L394.7 820.2 L395.7 820.2 L396.7 820.2 L397.7 820.2 L398.7 820.2 L399.7 820.2 L400.7 820.2 L401.7 820.2 L402.7 820.2 L403.7 820.2 L404.7 820.2 L405.7 820.2 L406.7 820.2 L407.7 820.2 L408.7 820.2 L409.7 820.2 L410.7 820.2 L411.7 820.2 L412.7 820.2 L413.7 820.2 L414.7 820.2 L415.7 820.1 L416.7 820.1 L417.7 820.1 L418.7 820.1 L419.7 820.1 L420.7 820.1 L421.7 820.1 L422.7 820.1 L423.7 820.1 L424.7 820.1 L425.7 820.1 L426.7 820.1 L427.7 820.1 L428.7 820.1 L429.7 820.1 L430.7 820.1 L431.7 820.1 L432.7 820.1 L433.7 820.1 L434.7 820.1 L435.7 820.1 L436.7 820.1 L437.7 820.1 L438.7 820.1 L439.7 820.1 L440.7 820.1 L441.7 820.1 L442.7 820.1 L443.7 820.1 L445.2 820.1 L446.7 820.1 L448.2 820.1 L449.7 820.1 L451.2 820.1 L452.7 820.1 L454.2 820.1 L455.7 820.1 L457.2 820.1 L458.7 820.1 L460.2 820.1 L461.7 820.1 L463.2 820.1 L464.7 820.2 L466.2 820.2 L467.7 820.2 L469.2 820.2 L470.7 820.2 L472.2 820.2 L473.7 820.2 L475.2 820.2 L476.7 820.2 L478.2 820.2 L479.7 820.2 L481.2 820.2 L482.6 820.2 L484.1 820.2 L485.6 820.2 L487.1 820.2 L488.6 820.2 L490.1 820.2 L491.6 820.2 L493.1 820.2 L494.6 820.2 L496.1 820.2 L497.6 820.2 L499.1 820.2 L500.1 820.2 L501.1 820.2 L502.1 820.2 L503.1 820.2 L504.1 820.2 L505.1 820.2 L506.1 820.2 L507.1 820.2 L508.1 820.2 L509.1 820.2 L510.2 820.2 L511.2 820.2 L512.2 820.1 L513.2 820.0 L514.3 819.9 L515.3 819.8 L516.3 819.7 L517.4 819.6 L518.4 819.5 L519.4 819.3 L520.4 819.1 L521.8 818.8 L523.2 818.4 L524.5 817.8 L525.7 817.2 L526.8 816.3 L527.7 815.4 L528.5 814.3 L529.2 813.0 L529.7 811.6 L530.1 810.6 L530.3 809.6 L530.6 808.5 L530.8 807.5 L531.1 806.4 L531.3 805.3 L531.5 804.2 L531.7 803.1 L532.0 802.1 L532.2 801.0 L532.5 800.0 L532.8 799.0 L533.0 798.0 L533.3 797.1 L533.8 795.6 L534.2 794.2 L534.7 792.8 L535.1 791.5 L535.4 790.1 L535.7 788.6 L536.0 787.2 L536.2 785.7 L536.4 784.3 L536.5 782.8 L536.6 781.8 L536.6 780.8 L536.7 779.7 L536.8 778.7 L536.8 777.7 L536.9 776.7 L536.9 775.7 L537.0 774.7 L537.1 773.7 L537.1 772.7 L537.2 771.7 L537.3 770.7 L537.4 769.7 L537.5 768.7 L537.5 767.7 L537.7 766.2 L537.8 764.7 L537.9 763.2 L538.1 761.7 L538.2 760.3 L538.3 758.8 L538.5 757.3 L538.6 755.8 L538.8 754.3 L538.9 752.8 L539.0 751.3 L539.2 749.8 L539.3 748.3 L539.5 746.8 L539.6 745.3 L539.7 743.9 L539.9 742.4 L540.0 741.4 L540.0 740.4 L540.1 739.4 L540.2 738.4 L540.3 737.4 L540.4 736.4 L540.5 735.4 L540.6 734.4 L540.6 733.4 L540.7 732.4 L540.8 731.4 L540.9 730.4 L541.0 729.4 L541.0 728.4 L541.1 727.4 L541.2 726.4 L541.3 725.4 L541.4 724.4 L541.4 723.4 L541.5 722.4 L541.6 721.4 L541.7 720.4 L541.8 719.4 L541.8 718.4 L541.9 717.4 L542.0 716.4 L542.0 715.4 L542.1 714.4 L542.2 713.4 L542.3 712.4 L542.3 711.4 L542.4 710.4 L542.5 709.4 L542.5 708.4 L542.6 707.4 L542.7 706.4 L542.7 705.4 L542.8 704.4 L542.9 703.4 L542.9 702.4 L543.0 701.4 L543.0 700.4 L543.1 699.4 L543.2 698.4 L543.2 697.4 L543.3 695.9 L543.4 694.4 L543.5 692.9 L543.6 691.5 L543.6 690.0 L543.7 688.5 L543.8 687.0 L543.9 685.5 L544.0 684.0 L544.0 682.5 L544.1 681.0 L544.2 679.5 L544.2 678.0 L544.3 676.5 L544.4 675.0 L544.5 673.5 L544.5 672.0 L544.6 670.5 L544.7 669.0 L544.7 667.5 L544.8 666.0 L544.9 664.5 L544.9 663.0 L545.0 661.5 L545.1 660.0 L545.1 658.5 L545.2 657.0 L545.3 655.5 L545.3 654.0 L545.4 652.5 L545.5 651.0 L545.5 649.6 L545.6 648.1 L545.6 646.6 L545.7 645.1 L545.8 643.6 L545.8 642.1 L545.9 640.6 L546.0 639.1 L546.0 637.6 L546.1 636.1 L546.2 634.6 L546.3 633.1 L546.3 631.6 L546.4 630.1 L546.5 628.6 L546.5 627.1 L546.6 625.6 L546.7 624.1 L546.8 622.6 L546.8 621.1 L546.9 619.6 L547.0 618.6 L547.0 617.6 L547.1 616.6 L547.1 615.6 L547.2 614.6 L547.2 613.6 L547.3 612.6 L547.3 611.6 L547.4 610.6 L547.5 609.6 L547.5 608.6 L547.6 607.6 L547.6 606.6 L547.7 605.6 L547.8 604.6 L547.8 603.6 L547.9 602.6 L547.9 601.6 L548.0 600.6 L548.1 599.6 L548.1 598.6 L548.2 597.6 L548.3 596.6 L548.3 595.6 L548.4 594.6 L548.5 593.6 L548.6 592.6 L548.6 591.6 L548.7 590.6 L548.8 589.6 L548.9 588.6 L548.9 587.6 L549.0 586.6 L549.1 585.6 L549.2 584.6 L549.2 583.6 L549.3 582.6 L549.4 581.6 L549.5 580.6 L549.6 579.6 L549.6 578.6 L549.7 577.6 L549.8 576.6 L549.9 575.6 L550.0 574.6 L550.1 573.6 L550.1 572.6 L550.2 571.6 L550.3 570.6 L550.4 569.6 L550.5 568.6 L550.6 567.6 L550.7 566.6 L550.8 565.1 L550.9 563.7 L551.1 562.2 L551.2 560.7 L551.4 559.2 L551.5 557.7 L551.6 556.2 L551.8 554.7 L551.9 553.2 L552.1 551.8 L552.2 550.3 L552.3 548.8 L552.5 547.3 L552.6 545.8 L552.8 544.4 L552.9 542.9 L553.1 541.4 L553.2 540.0 L553.3 538.5 L553.5 537.0 L553.6 535.6 L553.8 534.1 L553.9 532.7 L554.1 531.2 L554.2 529.8 L554.3 528.3 L554.5 526.9 L554.6 525.4 L554.8 524.0 L554.9 522.5 L555.0 521.0 L555.2 520.0 L555.3 519.0 L555.4 517.9 L555.5 516.8 L555.6 515.7 L555.7 514.5 L555.9 513.4 L556.0 512.1 L556.2 510.9 L556.4 509.6 L556.5 508.3 L556.7 507.0 L556.9 505.7 L557.1 504.6 L557.3 503.4 L557.6 502.4 L558.0 501.2 L558.4 500.2 L559.3 499.7 L560.0 500.4 L560.5 501.5 L561.0 502.8 L561.3 503.8 L561.7 504.9 L561.9 506.0 L562.2 507.0 L562.5 508.1 L562.7 509.2 L562.9 510.2 L563.1 511.3 L563.3 512.3 L563.5 513.4 L563.7 514.4 L563.8 515.4 L564.1 516.8 L564.2 517.8 L564.4 518.8 L564.6 519.9 L564.7 520.9 L564.9 522.0 L565.1 523.2 L565.3 524.4 L565.5 525.6 L565.7 526.8 L566.0 528.1 L566.2 529.2 L566.4 530.4 L566.6 531.4 L566.8 532.4 L567.2 533.7 L567.5 534.6 L568.2 535.4 L568.7 534.2 L568.9 533.1 L569.1 531.7 L569.3 530.6 L569.4 529.5 L569.5 528.3 L569.6 527.1 L569.7 525.8 L569.8 524.6 L569.9 523.3 L570.0 522.0 L570.1 520.8 L570.2 519.6 L570.3 518.4 L570.4 517.3 L570.5 516.1 L570.6 515.0 L570.7 513.9 L570.7 512.8 L570.8 511.7 L570.9 510.7 L571.0 509.6 L571.0 508.6 L571.1 507.6 L571.1 506.6 L571.2 505.6 L571.3 504.1 L571.4 502.6 L571.5 501.2 L571.6 499.7 L571.6 498.3 L571.7 496.9 L571.8 495.4 L571.9 494.0 L572.0 492.6 L572.0 491.1 L572.1 489.7 L572.2 488.2 L572.3 486.8 L572.4 485.3 L572.5 483.9 L572.5 482.4 L572.6 480.9 L572.7 479.5 L572.8 478.0 L572.9 476.5 L573.0 475.0 L573.0 473.5 L573.1 472.1 L573.2 470.6 L573.3 469.1 L573.4 467.6 L573.4 466.6 L573.5 465.6 L573.5 464.6 L573.6 463.6 L573.6 462.6 L573.7 461.6 L573.8 460.6 L573.8 459.6 L573.9 458.6 L573.9 457.5 L574.0 456.5 L574.0 455.5 L574.1 454.5 L574.1 453.5 L574.2 452.5 L574.2 451.5 L574.3 450.5 L574.3 449.5 L574.4 448.5 L574.4 447.5 L574.5 446.5 L574.5 445.5 L574.6 444.5 L574.6 443.4 L574.7 442.4 L574.7 441.4 L574.8 440.4 L574.8 439.4 L574.9 438.4 L574.9 437.4 L575.0 436.4 L575.0 435.4 L575.1 434.4 L575.1 433.4 L575.2 432.4 L575.2 431.4 L575.3 430.4 L575.3 429.4 L575.4 428.4 L575.4 427.4 L575.5 426.4 L575.5 425.4 L575.5 424.4 L575.6 423.3 L575.6 422.3 L575.7 421.3 L575.7 420.3 L575.8 419.3 L575.8 418.3 L575.8 417.3 L575.9 416.3 L575.9 415.3 L576.0 414.3 L576.0 413.3 L576.0 412.3 L576.1 411.3 L576.1 410.3 L576.2 409.3 L576.2 408.3 L576.2 407.3 L576.3 406.3 L576.3 405.3 L576.4 404.3 L576.4 403.3 L576.4 402.3 L576.5 401.3 L576.5 400.3 L576.5 399.3 L576.6 398.3 L576.6 397.3 L576.6 396.3 L576.7 395.3 L576.7 393.8 L576.8 392.3 L576.8 390.8 L576.9 389.3 L576.9 387.8 L577.0 386.3 L577.0 384.8 L577.1 383.3 L577.1 381.8 L577.2 380.3 L577.2 378.8 L577.3 377.3 L577.3 375.8 L577.4 374.4 L577.4 372.9 L577.5 371.4 L577.5 369.9 L577.5 368.4 L577.6 366.9 L577.6 365.4 L577.7 363.9 L577.7 362.4 L577.8 360.9 L577.8 359.4 L577.8 357.9 L577.9 356.4 L577.9 354.9 L578.0 353.4 L578.0 351.9 L578.0 350.4 L578.1 348.9 L578.1 347.4 L578.1 345.9 L578.2 344.4 L578.2 342.9 L578.2 341.4 L578.3 340.0 L578.3 338.5 L578.4 337.0 L578.4 335.5 L578.4 334.0 L578.5 332.5 L578.5 331.0 L578.5 329.5 L578.5 328.0 L578.6 326.5 L578.6 325.0 L578.6 323.5 L578.7 322.0 L578.7 320.5 L578.7 319.0 L578.8 317.5 L578.8 316.0 L578.8 314.5 L578.9 313.0 L578.9 311.5 L578.9 310.0 L579.0 308.5 L579.0 307.0 L579.0 305.5 L579.1 304.0 L579.1 302.5 L579.1 301.0 L579.1 299.5 L579.2 298.0 L579.2 296.5 L579.2 295.0 L579.3 293.5 L579.3 292.0 L579.3 290.5 L579.4 289.0 L579.4 287.5 L579.4 286.5 L579.5 285.5 L579.5 284.5 L579.5 283.5 L579.5 282.5 L579.6 281.5 L579.6 280.5 L579.6 279.5 L579.6 278.5 L579.7 277.5 L579.7 276.5 L579.7 275.5 L579.7 274.5 L579.8 273.5 L579.8 272.5 L579.8 271.5 L579.8 270.5 L579.9 269.5 L579.9 268.5 L579.9 267.5 L579.9 266.5 L580.0 265.5 L580.0 264.5 L580.0 263.5 L580.1 262.5 L580.1 261.5 L580.1 260.5 L580.2 259.5 L580.2 258.5 L580.2 257.5 L580.3 256.5 L580.3 255.5 L580.3 254.5 L580.3 253.5 L580.4 252.5 L580.4 251.5 L580.4 250.5 L580.5 249.5 L580.5 248.5 L580.6 247.5 L580.6 246.5 L580.6 245.5 L580.7 244.5 L580.7 243.5 L580.7 242.5 L580.8 241.4 L580.8 240.4 L580.9 239.4 L580.9 238.4 L580.9 237.4 L581.0 236.4 L581.0 235.4 L581.1 234.4 L581.1 233.4 L581.1 232.4 L581.2 231.4 L581.2 230.4 L581.3 229.4 L581.3 228.4 L581.4 227.4 L581.4 226.4 L581.5 225.3 L581.5 224.3 L581.6 223.3 L581.6 222.3 L581.7 221.3 L581.7 220.3 L581.8 219.3 L581.8 218.3 L581.9 217.3 L581.9 216.3 L582.0 215.3 L582.0 214.3 L582.1 213.3 L582.1 212.3 L582.2 211.3 L582.3 209.8 L582.4 208.3 L582.4 206.8 L582.5 205.3 L582.6 203.8 L582.7 202.4 L582.8 200.9 L582.9 199.4 L583.0 198.0 L583.1 196.5 L583.2 195.0 L583.3 193.6 L583.4 192.2 L583.5 190.7 L583.6 189.3 L583.8 187.9 L583.9 186.5 L584.0 185.0 L584.1 183.6 L584.2 182.2 L584.4 180.7 L584.5 179.3 L584.6 177.8 L584.7 176.8 L584.8 175.8 L584.9 174.8 L585.0 173.7 L585.0 172.7 L585.1 171.6 L585.2 170.5 L585.3 169.4 L585.4 168.3 L585.5 167.2 L585.6 166.0 L585.7 164.8 L585.8 163.6 L585.8 162.3 L585.9 161.1 L586.0 159.8 L586.1 158.5 L586.2 157.3 L586.3 156.1 L586.4 154.9 L586.5 153.8 L586.6 152.4 L586.7 151.3 L586.9 150.2 L587.2 151.3 L587.3 152.5 L587.4 153.9 L587.5 155.0 L587.5 156.2 L587.6 157.4 L587.7 158.7 L587.8 160.0 L587.9 161.2 L588.0 162.5 L588.1 163.7 L588.2 164.8 L588.3 165.9 L588.4 167.0 L588.5 168.1 L588.7 169.1 L588.8 170.1 L589.0 171.6 L589.2 173.0 L589.4 174.4 L589.6 175.8 L589.7 177.3 L589.8 178.7 L589.9 180.2 L590.0 181.7 L590.1 183.1 L590.2 184.6 L590.3 186.1 L590.3 187.6 L590.4 188.6 L590.4 189.6 L590.5 190.6 L590.5 191.6 L590.5 192.6 L590.6 193.6 L590.6 194.6 L590.7 195.6 L590.7 196.6 L590.7 197.6 L590.8 198.6 L590.8 199.6 L590.9 200.6 L590.9 201.6 L590.9 202.6 L591.0 203.6 L591.0 204.6 L591.0 205.6 L591.1 206.6 L591.1 207.6 L591.2 208.6 L591.2 209.6 L591.2 210.6 L591.3 211.6 L591.3 212.6 L591.4 213.6 L591.4 214.6 L591.4 215.6 L591.5 216.6 L591.5 217.6 L591.5 218.6 L591.6 219.6 L591.6 220.6 L591.7 221.6 L591.7 222.6 L591.7 223.6 L591.8 224.6 L591.8 225.6 L591.8 226.6 L591.9 227.6 L591.9 228.6 L591.9 229.6 L592.0 230.6 L592.0 231.6 L592.1 232.6 L592.1 233.6 L592.1 234.6 L592.2 235.6 L592.2 236.6 L592.2 237.6 L592.3 238.6 L592.3 239.6 L592.3 240.6 L592.4 241.6 L592.4 242.6 L592.4 243.6 L592.5 244.6 L592.5 245.6 L592.5 246.6 L592.6 247.6 L592.6 248.6 L592.7 249.6 L592.7 250.6 L592.7 251.6 L592.8 252.6 L592.8 253.6 L592.8 254.6 L592.9 255.6 L592.9 256.6 L592.9 257.6 L593.0 258.6 L593.0 259.6 L593.0 260.6 L593.1 261.6 L593.1 262.6 L593.1 263.6 L593.2 264.6 L593.2 265.6 L593.2 266.6 L593.3 267.6 L593.3 268.6 L593.3 269.6 L593.4 270.6 L593.4 271.6 L593.4 272.6 L593.5 273.6 L593.5 274.6 L593.5 275.6 L593.5 276.6 L593.6 277.6 L593.6 278.6 L593.6 279.6 L593.7 280.6 L593.7 281.6 L593.7 282.6 L593.8 283.6 L593.8 284.6 L593.8 285.6 L593.9 286.6 L593.9 287.6 L593.9 288.6 L594.0 289.6 L594.0 290.6 L594.0 291.6 L594.1 292.6 L594.1 293.6 L594.1 294.6 L594.1 295.6 L594.2 296.6 L594.2 297.6 L594.2 298.6 L594.3 299.6 L594.3 300.6 L594.3 301.6 L594.4 302.6 L594.4 303.6 L594.4 304.6 L594.4 305.6 L594.5 306.6 L594.5 307.6 L594.5 308.6 L594.6 309.6 L594.6 310.6 L594.6 311.6 L594.7 312.6 L594.7 313.6 L594.7 314.6 L594.7 315.6 L594.8 316.6 L594.8 317.6 L594.8 318.6 L594.9 319.6 L594.9 320.6 L594.9 321.6 L594.9 322.6 L595.0 323.6 L595.0 324.6 L595.0 325.6 L595.1 326.6 L595.1 327.6 L595.1 328.6 L595.1 329.6 L595.2 330.6 L595.2 331.6 L595.2 332.6 L595.3 333.6 L595.3 334.6 L595.3 335.6 L595.3 336.6 L595.4 337.6 L595.4 338.6 L595.4 339.6 L595.5 340.6 L595.5 341.6 L595.5 342.6 L595.5 343.6 L595.6 344.6 L595.6 345.6 L595.6 346.6 L595.7 348.1 L595.7 349.6 L595.7 351.1 L595.8 352.6 L595.8 354.1 L595.9 355.6 L595.9 357.1 L595.9 358.6 L596.0 360.0 L596.0 361.5 L596.1 363.0 L596.1 364.5 L596.1 366.0 L596.2 367.5 L596.2 369.0 L596.3 370.5 L596.3 372.0 L596.3 373.5 L596.4 375.0 L596.4 376.5 L596.5 378.0 L596.5 379.5 L596.5 381.0 L596.6 382.5 L596.6 384.0 L596.7 385.5 L596.7 387.0 L596.7 388.5 L596.8 390.0 L596.8 391.5 L596.8 393.0 L596.9 394.5 L596.9 396.0 L597.0 397.5 L597.0 399.0 L597.0 400.5 L597.1 402.0 L597.1 403.5 L597.1 405.0 L597.2 406.5 L597.2 408.0 L597.3 409.5 L597.3 411.0 L597.3 412.5 L597.4 414.0 L597.4 415.5 L597.4 417.0 L597.5 418.5 L597.5 420.0 L597.6 421.5 L597.6 423.0 L597.6 424.5 L597.7 426.0 L597.7 427.5 L597.7 429.0 L597.8 430.5 L597.8 432.0 L597.8 433.5 L597.9 435.0 L597.9 436.5 L598.0 438.0 L598.0 439.5 L598.0 441.0 L598.1 442.5 L598.1 444.0 L598.1 445.5 L598.2 447.0 L598.2 448.5 L598.2 450.0 L598.3 451.5 L598.3 453.0 L598.3 454.5 L598.4 456.0 L598.4 457.5 L598.5 459.0 L598.5 460.5 L598.5 462.0 L598.6 463.5 L598.6 465.0 L598.6 466.5 L598.7 468.0 L598.7 469.5 L598.7 471.0 L598.8 472.5 L598.8 474.0 L598.8 475.5 L598.9 477.0 L598.9 478.5 L599.0 480.0 L599.0 481.5 L599.0 483.0 L599.1 484.5 L599.1 486.0 L599.1 487.5 L599.2 489.0 L599.2 490.5 L599.2 492.0 L599.3 493.5 L599.3 495.0 L599.3 496.5 L599.4 498.0 L599.4 499.5 L599.5 501.0 L599.5 502.5 L599.5 504.0 L599.6 505.5 L599.6 507.0 L599.6 508.5 L599.7 510.0 L599.7 511.5 L599.7 513.0 L599.8 514.5 L599.8 516.0 L599.8 517.5 L599.9 519.0 L599.9 520.5 L599.9 522.0 L600.0 523.5 L600.0 525.0 L600.1 526.5 L600.1 528.0 L600.1 529.5 L600.2 531.0 L600.2 532.5 L600.2 534.0 L600.3 535.5 L600.3 537.0 L600.3 538.5 L600.4 540.0 L600.4 541.5 L600.5 543.0 L600.5 544.5 L600.5 546.0 L600.6 547.5 L600.6 549.0 L600.6 550.5 L600.7 552.0 L600.7 553.5 L600.7 555.0 L600.8 556.5 L600.8 558.0 L600.9 559.5 L600.9 561.0 L600.9 562.0 L600.9 563.0 L601.0 564.0 L601.0 565.0 L601.0 566.0 L601.0 567.0 L601.1 568.0 L601.1 569.0 L601.1 570.0 L601.1 571.0 L601.2 572.0 L601.2 573.0 L601.2 574.0 L601.2 575.0 L601.3 576.0 L601.3 577.0 L601.3 578.0 L601.3 579.0 L601.4 580.0 L601.4 581.0 L601.4 582.0 L601.4 583.0 L601.5 584.0 L601.5 585.0 L601.5 586.0 L601.5 587.0 L601.6 588.0 L601.6 589.0 L601.6 590.0 L601.6 591.0 L601.7 592.0 L601.7 593.0 L601.7 594.0 L601.7 595.0 L601.8 596.0 L601.8 597.0 L601.8 598.0 L601.8 599.0 L601.9 600.0 L601.9 601.0 L601.9 602.0 L602.0 603.0 L602.0 604.0 L602.0 605.0 L602.0 606.0 L602.1 607.0 L602.1 608.0 L602.1 609.0 L602.1 610.0 L602.2 611.0 L602.2 612.0 L602.2 613.0 L602.2 614.0 L602.3 615.0 L602.3 616.0 L602.3 617.0 L602.3 618.0 L602.4 619.0 L602.4 620.0 L602.4 621.0 L602.5 622.0 L602.5 623.0 L602.5 624.0 L602.5 625.0 L602.6 626.0 L602.6 627.0 L602.6 628.0 L602.6 629.0 L602.7 630.0 L602.7 631.0 L602.7 632.0 L602.8 633.0 L602.8 634.0 L602.8 635.0 L602.8 636.0 L602.9 637.0 L602.9 638.0 L602.9 639.0 L602.9 640.0 L603.0 641.0 L603.0 642.0 L603.0 643.0 L603.1 644.0 L603.1 645.0 L603.1 646.0 L603.1 647.0 L603.2 648.0 L603.2 649.0 L603.2 650.0 L603.3 651.0 L603.3 652.0 L603.3 653.0 L603.3 654.0 L603.4 655.0 L603.4 656.0 L603.4 657.0 L603.5 658.0 L603.5 659.0 L603.5 660.0 L603.5 661.0 L603.6 662.0 L603.6 663.0 L603.6 664.0 L603.7 665.0 L603.7 666.0 L603.7 667.0 L603.8 668.0 L603.8 669.0 L603.8 670.0 L603.9 671.0 L603.9 672.0 L603.9 673.0 L604.0 674.0 L604.0 675.0 L604.0 676.0 L604.1 677.0 L604.1 678.0 L604.1 678.9 L604.2 679.9 L604.2 680.9 L604.2 681.9 L604.3 682.9 L604.3 683.9 L604.3 684.9 L604.4 685.9 L604.4 686.9 L604.4 687.9 L604.5 688.9 L604.5 690.4 L604.6 691.9 L604.6 693.4 L604.7 694.9 L604.8 696.4 L604.8 697.9 L604.9 699.4 L604.9 700.9 L605.0 702.4 L605.1 703.9 L605.1 705.4 L605.2 706.9 L605.3 708.4 L605.3 709.9 L605.4 711.4 L605.5 712.9 L605.5 714.4 L605.6 715.9 L605.7 717.4 L605.8 718.9 L605.8 720.4 L605.9 721.9 L606.0 723.4 L606.1 724.9 L606.2 726.4 L606.2 727.9 L606.3 729.4 L606.4 730.9 L606.5 732.4 L606.6 733.9 L606.7 735.4 L606.8 736.9 L606.9 738.4 L606.9 739.9 L607.0 741.4 L607.1 742.8 L607.2 744.3 L607.3 745.8 L607.4 747.3 L607.5 748.8 L607.7 750.3 L607.8 751.8 L607.9 753.3 L608.0 754.8 L608.1 756.3 L608.2 757.8 L608.3 759.3 L608.4 760.8 L608.6 762.3 L608.7 763.8 L608.8 765.3 L608.9 766.7 L609.1 768.2 L609.2 769.7 L609.4 771.2 L609.5 772.7 L609.7 774.2 L609.8 775.2 L609.9 776.2 L610.0 777.2 L610.1 778.2 L610.2 779.2 L610.3 780.2 L610.5 781.2 L610.6 782.2 L610.7 783.2 L610.8 784.2 L611.0 785.2 L611.1 786.1 L611.3 787.1 L611.4 788.1 L611.6 789.1 L611.7 790.1 L611.9 791.1 L612.1 792.1 L612.3 793.1 L612.4 794.1 L612.6 795.1 L612.8 796.1 L613.0 797.1 L613.2 798.1 L613.4 799.1 L613.6 800.1 L613.9 801.1 L614.1 802.1 L614.3 803.1 L614.6 804.1 L614.8 805.1 L615.1 806.1 L615.3 807.0 L615.6 808.0 L615.9 809.0 L616.4 810.4 L616.9 811.8 L617.5 813.1 L618.2 814.3 L619.0 815.4 L619.8 816.5 L620.7 817.5 L621.8 818.3 L622.9 819.0 L624.2 819.6 L625.6 820.0 L626.6 820.2 L627.7 820.2 L628.8 820.2 L629.9 820.2 L631.1 820.2 L632.3 820.2 L633.5 820.1 L634.6 820.1 L635.8 820.0 L636.8 820.0 L638.3 820.0 L639.5 820.1 L640.0 820.2"/>
<path stroke="#ff0000" stroke-dasharray="6.25 6.25" stroke-dashoffset="6.8" d="M640 820.2H906.8"/>
</g>
<g stroke="#000" stroke-width="1.56" fill="none" stroke-linecap="round">
<rect x="123" y="123" width="814" height="724"/>
<path d="M171.7 847V862.5M372.4 847V862.5M573.1 847V862.5M773.8 847V862.5"/>
<path d="M123 820.2H107.5M123 698.8H107.5M123 577.5H107.5M123 456.1H107.5M123 334.7H107.5M123 213.4H107.5"/>
</g>
<g stroke-width="1.56" fill="none" stroke-linecap="round">
<path d="M145.8 153H190.2" stroke="#000"/>
<path d="M145.8 183H190.2" stroke="#f00"/>
<path d="M145.8 213H190.2" stroke="#00cd00"/>
<path d="M145.8 243H190.2" stroke="#00f"/>
<path d="M145.8 273H190.2" stroke="#0ff"/>
<path d="M145.8 303H190.2" stroke="#f0f"/>
<path d="M145.8 333H190.2" stroke="#ff0"/>
<path d="M145.8 363H190.2" stroke="#bebebe"/>
<path d="M145.8 393H190.2" stroke="#f00" stroke-dasharray="6.25 6.25"/>
</g>
<text transform="translate(528.5,72.6) scale(1.004,1.1)" font-size="30" text-anchor="middle" font-weight="bold">number read ratio dcp2_37C_Ter_1/xrn1_S288C_Ter_1</text>
<text transform="translate(171.7,900.6) scale(1.0,1.06)" font-size="25" text-anchor="middle">-10</text>
<text transform="translate(372.4,900.6) scale(1.0,1.06)" font-size="25" text-anchor="middle">-5</text>
<text transform="translate(573.1,900.6) scale(1.0,1.06)" font-size="25" text-anchor="middle">0</text>
<text transform="translate(773.8,900.6) scale(1.0,1.06)" font-size="25" text-anchor="middle">5</text>
<text transform="translate(529.7,960.7) scale(1.02,1.06)" font-size="25" text-anchor="middle">log2 ratio</text>
<text transform="translate(87,820.2) rotate(-90) scale(1.0,1.06)" font-size="25" text-anchor="middle">0.0</text>
<text transform="translate(87,698.8) rotate(-90) scale(1.0,1.06)" font-size="25" text-anchor="middle">0.2</text>
<text transform="translate(87,577.5) rotate(-90) scale(1.0,1.06)" font-size="25" text-anchor="middle">0.4</text>
<text transform="translate(87,456.1) rotate(-90) scale(1.0,1.06)" font-size="25" text-anchor="middle">0.6</text>
<text transform="translate(87,334.7) rotate(-90) scale(1.0,1.06)" font-size="25" text-anchor="middle">0.8</text>
<text transform="translate(87,213.4) rotate(-90) scale(1.0,1.06)" font-size="25" text-anchor="middle">1.0</text>
<text transform="translate(26.7,485.6) rotate(-90) scale(1.013,1.06)" font-size="25" text-anchor="middle">density</text>
<text transform="translate(213.5,163) scale(1.013,1.06)" font-size="25" text-anchor="start">gene (sd=0.79)</text>
<text transform="translate(213.5,193) scale(1.013,1.06)" font-size="25" text-anchor="start">XUT (sd=1.16)</text>
<text transform="translate(213.5,223) scale(1.013,1.06)" font-size="25" text-anchor="start">NUT (sd=1.03)</text>
<text transform="translate(213.5,253) scale(1.013,1.06)" font-size="25" text-anchor="start">CUT (sd=1.1)</text>
<text transform="translate(213.5,283) scale(1.013,1.06)" font-size="25" text-anchor="start">SUT (sd=1.03)</text>
<text transform="translate(213.5,313) scale(1.013,1.06)" font-size="25" text-anchor="start">tRNA (sd=1.15)</text>
<text transform="translate(213.5,343) scale(1.013,1.06)" font-size="25" text-anchor="start">snoRNA (sd=0.77)</text>
<text transform="translate(213.5,373) scale(1.013,1.06)" font-size="25" text-anchor="start">ncRNA (sd=0.72)</text>
<text transform="translate(213.5,403) scale(1.013,1.06)" font-size="25" text-anchor="start">snRNA (sd=0.39)</text>
</svg>
</body></html>
